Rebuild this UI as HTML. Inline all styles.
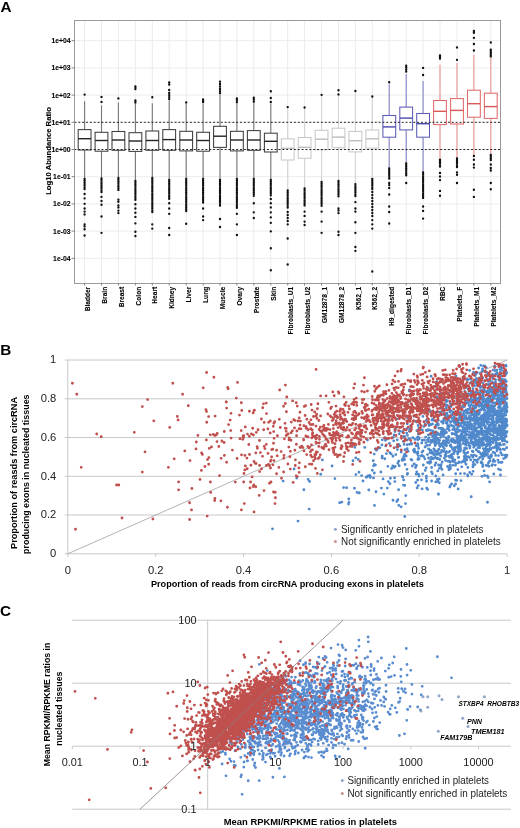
<!DOCTYPE html>
<html><head><meta charset="utf-8"><style>html,body{margin:0;padding:0;background:#fff;width:520px;height:828px;overflow:hidden}svg{display:block;will-change:transform}</style></head>
<body><svg width="520" height="828" viewBox="0 0 520 828" font-family="Liberation Sans"><path d="M74.5 258.3H500.5M74.5 231.1H500.5M74.5 203.9H500.5M74.5 176.7H500.5M74.5 149.5H500.5M74.5 122.3H500.5M74.5 95.1H500.5M74.5 67.9H500.5M74.5 40.7H500.5M84.6 20.5V283.5M101.5 20.5V283.5M118.4 20.5V283.5M135.4 20.5V283.5M152.3 20.5V283.5M169.2 20.5V283.5M186.2 20.5V283.5M203.1 20.5V283.5M220.0 20.5V283.5M236.9 20.5V283.5M253.8 20.5V283.5M270.8 20.5V283.5M287.7 20.5V283.5M304.6 20.5V283.5M321.6 20.5V283.5M338.5 20.5V283.5M355.4 20.5V283.5M372.3 20.5V283.5M389.2 20.5V283.5M406.2 20.5V283.5M423.1 20.5V283.5M440.0 20.5V283.5M457.0 20.5V283.5M473.9 20.5V283.5M490.8 20.5V283.5" stroke="#ececec" stroke-width="1" fill="none"/>
<path d="M84.6 101.2V129.6M84.6 150.0V178.8" stroke="#777" stroke-width="1.1" fill="none"/>
<rect x="78.2" y="129.6" width="12.8" height="20.4" fill="#fff" stroke="#3e3e3e" stroke-width="1.05"/>
<path d="M78.2 138.7H91.0" stroke="#222" stroke-width="1.4" fill="none"/>
<path d="M101.5 105.3V132.3M101.5 151.2V178.4" stroke="#777" stroke-width="1.1" fill="none"/>
<rect x="95.1" y="132.3" width="12.8" height="18.9" fill="#fff" stroke="#3e3e3e" stroke-width="1.05"/>
<path d="M95.1 140.5H107.9" stroke="#222" stroke-width="1.4" fill="none"/>
<path d="M118.4 102.4V131.5M118.4 150.3V178" stroke="#777" stroke-width="1.1" fill="none"/>
<rect x="112.0" y="131.5" width="12.8" height="18.8" fill="#fff" stroke="#3e3e3e" stroke-width="1.05"/>
<path d="M112.0 140.0H124.8" stroke="#222" stroke-width="1.4" fill="none"/>
<path d="M135.4 104.1V132.7M135.4 151.4V181" stroke="#777" stroke-width="1.1" fill="none"/>
<rect x="129.0" y="132.7" width="12.8" height="18.7" fill="#fff" stroke="#3e3e3e" stroke-width="1.05"/>
<path d="M129.0 141.0H141.8" stroke="#222" stroke-width="1.4" fill="none"/>
<path d="M152.3 103.3V131.0M152.3 150.3V178" stroke="#777" stroke-width="1.1" fill="none"/>
<rect x="145.9" y="131.0" width="12.8" height="19.3" fill="#fff" stroke="#3e3e3e" stroke-width="1.05"/>
<path d="M145.9 140.5H158.7" stroke="#222" stroke-width="1.4" fill="none"/>
<path d="M169.2 100.5V129.6M169.2 150.3V180" stroke="#777" stroke-width="1.1" fill="none"/>
<rect x="162.8" y="129.6" width="12.8" height="20.7" fill="#fff" stroke="#3e3e3e" stroke-width="1.05"/>
<path d="M162.8 139.6H175.6" stroke="#222" stroke-width="1.4" fill="none"/>
<path d="M186.2 103.5V131.3M186.2 150.9V178.8" stroke="#777" stroke-width="1.1" fill="none"/>
<rect x="179.8" y="131.3" width="12.8" height="19.6" fill="#fff" stroke="#3e3e3e" stroke-width="1.05"/>
<path d="M179.8 140.0H192.6" stroke="#222" stroke-width="1.4" fill="none"/>
<path d="M203.1 103.3V132.3M203.1 151.2V178.8" stroke="#777" stroke-width="1.1" fill="none"/>
<rect x="196.7" y="132.3" width="12.8" height="18.9" fill="#fff" stroke="#3e3e3e" stroke-width="1.05"/>
<path d="M196.7 140.5H209.5" stroke="#222" stroke-width="1.4" fill="none"/>
<path d="M220.0 93.7V126.3M220.0 147.4V180" stroke="#777" stroke-width="1.1" fill="none"/>
<rect x="213.6" y="126.3" width="12.8" height="21.1" fill="#fff" stroke="#3e3e3e" stroke-width="1.05"/>
<path d="M213.6 136.2H226.4" stroke="#222" stroke-width="1.4" fill="none"/>
<path d="M236.9 102.4V131.3M236.9 150.9V178.8" stroke="#777" stroke-width="1.1" fill="none"/>
<rect x="230.5" y="131.3" width="12.8" height="19.6" fill="#fff" stroke="#3e3e3e" stroke-width="1.05"/>
<path d="M230.5 140.0H243.3" stroke="#222" stroke-width="1.4" fill="none"/>
<path d="M253.8 101.5V130.6M253.8 150.3V178.8" stroke="#777" stroke-width="1.1" fill="none"/>
<rect x="247.4" y="130.6" width="12.8" height="19.7" fill="#fff" stroke="#3e3e3e" stroke-width="1.05"/>
<path d="M247.4 140.0H260.2" stroke="#222" stroke-width="1.4" fill="none"/>
<path d="M270.8 103.3V133.2M270.8 152.0V180" stroke="#777" stroke-width="1.1" fill="none"/>
<rect x="264.4" y="133.2" width="12.8" height="18.8" fill="#fff" stroke="#3e3e3e" stroke-width="1.05"/>
<path d="M264.4 141.3H277.2" stroke="#222" stroke-width="1.4" fill="none"/>
<path d="M287.7 108.5V138.8M287.7 160.0V190.5" stroke="#d4d4d4" stroke-width="1.1" fill="none"/>
<rect x="281.3" y="138.8" width="12.8" height="21.2" fill="#fff" stroke="#c8c8c8" stroke-width="1.05"/>
<path d="M281.3 148.3H294.1" stroke="#bdbdbd" stroke-width="1.4" fill="none"/>
<path d="M304.6 109V137.5M304.6 158.3V188.4" stroke="#d4d4d4" stroke-width="1.1" fill="none"/>
<rect x="298.2" y="137.5" width="12.8" height="20.8" fill="#fff" stroke="#c8c8c8" stroke-width="1.05"/>
<path d="M298.2 147.3H311.0" stroke="#bdbdbd" stroke-width="1.4" fill="none"/>
<path d="M321.6 96V130.3M321.6 149.8V182" stroke="#d4d4d4" stroke-width="1.1" fill="none"/>
<rect x="315.2" y="130.3" width="12.8" height="19.5" fill="#fff" stroke="#c8c8c8" stroke-width="1.05"/>
<path d="M315.2 139.2H327.9" stroke="#bdbdbd" stroke-width="1.4" fill="none"/>
<path d="M338.5 95.5V128.2M338.5 147.7V181" stroke="#d4d4d4" stroke-width="1.1" fill="none"/>
<rect x="332.1" y="128.2" width="12.8" height="19.5" fill="#fff" stroke="#c8c8c8" stroke-width="1.05"/>
<path d="M332.1 137.1H344.9" stroke="#bdbdbd" stroke-width="1.4" fill="none"/>
<path d="M355.4 92.5V131.4M355.4 151.9V184.1" stroke="#d4d4d4" stroke-width="1.1" fill="none"/>
<rect x="349.0" y="131.4" width="12.8" height="20.5" fill="#fff" stroke="#c8c8c8" stroke-width="1.05"/>
<path d="M349.0 140.7H361.8" stroke="#bdbdbd" stroke-width="1.4" fill="none"/>
<path d="M372.3 98V130.0M372.3 148.1V178.8" stroke="#d4d4d4" stroke-width="1.1" fill="none"/>
<rect x="365.9" y="130.0" width="12.8" height="18.1" fill="#fff" stroke="#c8c8c8" stroke-width="1.05"/>
<path d="M365.9 138.8H378.7" stroke="#bdbdbd" stroke-width="1.4" fill="none"/>
<path d="M389.2 84.3V115.5M389.2 137.2V168.3" stroke="#8585c8" stroke-width="1.1" fill="none"/>
<rect x="382.9" y="115.5" width="12.8" height="21.7" fill="#fff" stroke="#5c5cb6" stroke-width="1.05"/>
<path d="M382.9 126.9H395.6" stroke="#4848a8" stroke-width="1.4" fill="none"/>
<path d="M406.2 74.1V107.1M406.2 129.9V163.3" stroke="#8585c8" stroke-width="1.1" fill="none"/>
<rect x="399.8" y="107.1" width="12.8" height="22.8" fill="#fff" stroke="#5c5cb6" stroke-width="1.05"/>
<path d="M399.8 118.1H412.6" stroke="#4848a8" stroke-width="1.4" fill="none"/>
<path d="M423.1 80.9V113.5M423.1 137.2V172.4" stroke="#8585c8" stroke-width="1.1" fill="none"/>
<rect x="416.7" y="113.5" width="12.8" height="23.7" fill="#fff" stroke="#5c5cb6" stroke-width="1.05"/>
<path d="M416.7 123.7H429.5" stroke="#4848a8" stroke-width="1.4" fill="none"/>
<path d="M440.0 64.8V100.5M440.0 124.6V159.7" stroke="#eb9595" stroke-width="1.1" fill="none"/>
<rect x="433.6" y="100.5" width="12.8" height="24.1" fill="#fff" stroke="#e06a6a" stroke-width="1.05"/>
<path d="M433.6 111.3H446.4" stroke="#d85858" stroke-width="1.4" fill="none"/>
<path d="M457.0 63.1V98.6M457.0 124.0V158.5" stroke="#eb9595" stroke-width="1.1" fill="none"/>
<rect x="450.6" y="98.6" width="12.8" height="25.4" fill="#fff" stroke="#e06a6a" stroke-width="1.05"/>
<path d="M450.6 110.4H463.4" stroke="#d85858" stroke-width="1.4" fill="none"/>
<path d="M473.9 54.7V90.2M473.9 117.2V156" stroke="#eb9595" stroke-width="1.1" fill="none"/>
<rect x="467.5" y="90.2" width="12.8" height="27.0" fill="#fff" stroke="#e06a6a" stroke-width="1.05"/>
<path d="M467.5 103.7H480.3" stroke="#d85858" stroke-width="1.4" fill="none"/>
<path d="M490.8 58.1V93.2M490.8 118.4V155" stroke="#eb9595" stroke-width="1.1" fill="none"/>
<rect x="484.4" y="93.2" width="12.8" height="25.2" fill="#fff" stroke="#e06a6a" stroke-width="1.05"/>
<path d="M484.4 106.6H497.2" stroke="#d85858" stroke-width="1.4" fill="none"/>
<path d="M84.6 94.6h0M84.6 178.8h0M84.6 180.5h0M84.6 182.2h0M84.6 183.9h0M84.6 185.6h0M84.6 187.3h0M84.6 189.0h0M84.6 194.0h0M84.6 198.3h0M84.6 203.8h0M84.6 208.5h0M84.6 211.6h0M84.6 214.4h0M84.6 224.3h0M84.6 226.4h0M84.6 229.2h0M84.6 235.5h0M101.5 96.9h0M101.5 101.9h0M101.5 178.4h0M101.5 180.1h0M101.5 181.8h0M101.5 183.5h0M101.5 185.2h0M101.5 186.9h0M101.5 188.6h0M101.5 190.3h0M101.5 192.0h0M101.5 196.8h0M101.5 201.0h0M101.5 204.7h0M101.5 216.5h0M101.5 232.8h0M118.4 98.4h0M118.4 178.0h0M118.4 179.7h0M118.4 181.4h0M118.4 183.1h0M118.4 184.8h0M118.4 186.5h0M118.4 188.2h0M118.4 189.9h0M118.4 199.6h0M118.4 201.7h0M118.4 205.3h0M118.4 207.4h0M118.4 210.6h0M118.4 213.1h0M135.4 86.5h0M135.4 87.7h0M135.4 89.0h0M135.4 100.5h0M135.4 101.5h0M135.4 102.5h0M135.4 181.0h0M135.4 182.7h0M135.4 184.4h0M135.4 186.1h0M135.4 187.8h0M135.4 189.5h0M135.4 191.2h0M135.4 192.9h0M135.4 194.6h0M135.4 196.3h0M135.4 198.0h0M135.4 199.7h0M135.4 204.2h0M135.4 208.5h0M135.4 212.7h0M135.4 216.9h0M135.4 223.3h0M135.4 231.7h0M135.4 236.0h0M152.3 97.2h0M152.3 178.0h0M152.3 179.7h0M152.3 181.4h0M152.3 183.1h0M152.3 184.8h0M152.3 186.5h0M152.3 188.2h0M152.3 189.9h0M152.3 191.6h0M152.3 193.3h0M152.3 195.0h0M152.3 196.7h0M152.3 198.4h0M152.3 200.1h0M152.3 201.8h0M152.3 203.5h0M152.3 205.2h0M152.3 206.9h0M152.3 208.6h0M152.3 210.3h0M152.3 212.0h0M152.3 224.3h0M152.3 228.6h0M169.2 82.5h0M169.2 84.5h0M169.2 90.0h0M169.2 93.0h0M169.2 95.0h0M169.2 97.0h0M169.2 99.0h0M169.2 180.0h0M169.2 181.7h0M169.2 183.4h0M169.2 185.1h0M169.2 186.8h0M169.2 188.5h0M169.2 190.2h0M169.2 191.9h0M169.2 193.6h0M169.2 195.3h0M169.2 197.0h0M169.2 198.7h0M169.2 203.2h0M169.2 208.5h0M169.2 213.8h0M169.2 228.0h0M169.2 235.0h0M186.2 102.4h0M186.2 178.8h0M186.2 180.5h0M186.2 182.2h0M186.2 183.9h0M186.2 185.6h0M186.2 187.3h0M186.2 189.0h0M186.2 190.7h0M186.2 192.4h0M186.2 194.1h0M186.2 195.8h0M186.2 197.5h0M186.2 199.2h0M186.2 200.9h0M186.2 202.6h0M186.2 204.3h0M186.2 206.0h0M186.2 207.7h0M186.2 209.4h0M186.2 211.1h0M186.2 223.7h0M203.1 99.5h0M203.1 100.7h0M203.1 101.9h0M203.1 178.8h0M203.1 180.5h0M203.1 182.2h0M203.1 183.9h0M203.1 185.6h0M203.1 187.3h0M203.1 189.0h0M203.1 190.7h0M203.1 192.4h0M203.1 194.1h0M203.1 195.8h0M203.1 197.5h0M203.1 199.2h0M203.1 200.9h0M203.1 202.6h0M203.1 208.5h0M203.1 216.5h0M203.1 220.1h0M220.0 81.6h0M220.0 84.0h0M220.0 86.5h0M220.0 89.0h0M220.0 91.0h0M220.0 92.9h0M220.0 180.0h0M220.0 181.7h0M220.0 183.4h0M220.0 185.1h0M220.0 186.8h0M220.0 188.5h0M220.0 190.2h0M220.0 191.9h0M220.0 193.6h0M220.0 195.3h0M220.0 197.0h0M220.0 198.7h0M220.0 200.4h0M220.0 202.1h0M220.0 203.8h0M220.0 205.5h0M220.0 219.0h0M220.0 227.0h0M236.9 98.4h0M236.9 100.0h0M236.9 102.0h0M236.9 178.8h0M236.9 180.5h0M236.9 182.2h0M236.9 183.9h0M236.9 185.6h0M236.9 187.3h0M236.9 189.0h0M236.9 190.7h0M236.9 192.4h0M236.9 194.1h0M236.9 195.8h0M236.9 197.5h0M236.9 199.2h0M236.9 200.9h0M236.9 202.6h0M236.9 204.3h0M236.9 206.0h0M236.9 207.7h0M236.9 213.8h0M236.9 224.3h0M236.9 235.0h0M253.8 97.7h0M253.8 99.5h0M253.8 101.5h0M253.8 178.8h0M253.8 180.5h0M253.8 182.2h0M253.8 183.9h0M253.8 185.6h0M253.8 187.3h0M253.8 189.0h0M253.8 190.7h0M253.8 192.4h0M253.8 194.1h0M253.8 195.8h0M253.8 203.2h0M253.8 212.3h0M253.8 218.0h0M270.8 91.2h0M270.8 98.0h0M270.8 101.9h0M270.8 180.0h0M270.8 181.7h0M270.8 183.4h0M270.8 185.1h0M270.8 186.8h0M270.8 188.5h0M270.8 190.2h0M270.8 191.9h0M270.8 193.6h0M270.8 195.3h0M270.8 199.0h0M270.8 203.2h0M270.8 207.4h0M270.8 212.3h0M270.8 217.3h0M270.8 222.8h0M270.8 231.3h0M270.8 248.2h0M270.8 270.2h0M287.7 107.1h0M287.7 190.5h0M287.7 192.2h0M287.7 193.9h0M287.7 195.6h0M287.7 197.3h0M287.7 199.0h0M287.7 200.7h0M287.7 202.4h0M287.7 204.1h0M287.7 205.8h0M287.7 207.5h0M287.7 212.0h0M287.7 215.0h0M287.7 218.0h0M287.7 221.0h0M287.7 224.3h0M287.7 238.5h0M287.7 264.5h0M304.6 107.5h0M304.6 188.4h0M304.6 190.1h0M304.6 191.8h0M304.6 193.5h0M304.6 195.2h0M304.6 196.9h0M304.6 198.6h0M304.6 200.3h0M304.6 202.0h0M304.6 203.7h0M304.6 205.4h0M304.6 211.6h0M304.6 215.9h0M304.6 221.6h0M304.6 225.0h0M321.6 94.8h0M321.6 182.0h0M321.6 183.7h0M321.6 185.4h0M321.6 187.1h0M321.6 188.8h0M321.6 190.5h0M321.6 192.2h0M321.6 193.9h0M321.6 195.6h0M321.6 197.3h0M321.6 199.0h0M321.6 200.7h0M321.6 202.4h0M321.6 204.1h0M321.6 205.8h0M321.6 211.6h0M321.6 221.6h0M321.6 232.8h0M338.5 90.2h0M338.5 94.4h0M338.5 181.0h0M338.5 182.7h0M338.5 184.4h0M338.5 186.1h0M338.5 187.8h0M338.5 189.5h0M338.5 191.2h0M338.5 192.9h0M338.5 194.6h0M338.5 196.3h0M338.5 208.5h0M338.5 210.5h0M338.5 213.1h0M338.5 231.7h0M338.5 235.0h0M355.4 91.0h0M355.4 184.1h0M355.4 185.8h0M355.4 187.5h0M355.4 189.2h0M355.4 190.9h0M355.4 192.6h0M355.4 194.3h0M355.4 196.0h0M355.4 202.1h0M355.4 208.5h0M355.4 211.6h0M355.4 222.2h0M355.4 232.8h0M355.4 247.0h0M355.4 250.8h0M372.3 96.5h0M372.3 178.8h0M372.3 180.5h0M372.3 182.2h0M372.3 183.9h0M372.3 185.6h0M372.3 187.3h0M372.3 189.0h0M372.3 192.0h0M372.3 195.0h0M372.3 198.0h0M372.3 201.0h0M372.3 204.0h0M372.3 207.0h0M372.3 210.0h0M372.3 213.0h0M372.3 216.0h0M372.3 220.1h0M372.3 224.3h0M372.3 228.6h0M372.3 271.5h0M389.2 82.2h0M389.2 168.3h0M389.2 170.0h0M389.2 171.7h0M389.2 173.4h0M389.2 175.1h0M389.2 176.8h0M389.2 178.5h0M389.2 183.0h0M389.2 185.0h0M389.2 188.0h0M389.2 194.5h0M389.2 206.5h0M389.2 212.0h0M389.2 223.5h0M406.2 65.7h0M406.2 67.5h0M406.2 69.5h0M406.2 71.6h0M406.2 163.3h0M406.2 165.0h0M406.2 166.7h0M406.2 168.4h0M406.2 170.1h0M406.2 171.8h0M406.2 173.5h0M406.2 175.2h0M406.2 183.0h0M423.1 67.9h0M423.1 75.0h0M423.1 172.4h0M423.1 174.1h0M423.1 175.8h0M423.1 177.5h0M423.1 179.2h0M423.1 180.9h0M423.1 182.6h0M423.1 184.3h0M423.1 186.0h0M423.1 187.7h0M423.1 189.4h0M423.1 191.1h0M423.1 192.8h0M423.1 194.5h0M423.1 196.2h0M423.1 197.9h0M423.1 206.5h0M423.1 210.9h0M423.1 218.6h0M440.0 55.5h0M440.0 56.5h0M440.0 57.5h0M440.0 58.6h0M440.0 159.7h0M440.0 161.4h0M440.0 163.1h0M440.0 164.8h0M440.0 166.5h0M440.0 172.9h0M440.0 176.5h0M440.0 180.1h0M440.0 190.9h0M440.0 195.7h0M457.0 47.4h0M457.0 59.8h0M457.0 158.5h0M457.0 160.2h0M457.0 161.9h0M457.0 163.6h0M457.0 165.3h0M457.0 167.0h0M457.0 172.4h0M457.0 174.8h0M457.0 183.0h0M473.9 31.0h0M473.9 32.7h0M473.9 37.8h0M473.9 44.0h0M473.9 50.5h0M473.9 156.0h0M473.9 159.7h0M473.9 164.5h0M473.9 167.6h0M473.9 189.7h0M473.9 196.9h0M490.8 42.4h0M490.8 49.6h0M490.8 51.0h0M490.8 52.5h0M490.8 54.0h0M490.8 55.5h0M490.8 56.4h0M490.8 155.0h0M490.8 156.7h0M490.8 158.4h0M490.8 160.1h0M490.8 164.5h0M490.8 168.0h0M490.8 170.5h0M490.8 183.0h0M490.8 189.2h0" stroke="#111" stroke-width="2.35" stroke-linecap="round" fill="none"/>
<path d="M74.5 122.3H500.5" stroke="#222" stroke-width="1" stroke-dasharray="1.9 1.95" fill="none"/>
<path d="M74.5 149.5H500.5" stroke="#222" stroke-width="1" stroke-dasharray="1.9 1.95" fill="none"/>
<rect x="74.5" y="20.5" width="426.0" height="263.0" fill="none" stroke="#9a9a9a" stroke-width="1"/>
<path d="M71.5 258.3H74.5M71.5 231.1H74.5M71.5 203.9H74.5M71.5 176.7H74.5M71.5 149.5H74.5M71.5 122.3H74.5M71.5 95.1H74.5M71.5 67.9H74.5M71.5 40.7H74.5M84.6 283.5V285.5M101.5 283.5V285.5M118.4 283.5V285.5M135.4 283.5V285.5M152.3 283.5V285.5M169.2 283.5V285.5M186.2 283.5V285.5M203.1 283.5V285.5M220.0 283.5V285.5M236.9 283.5V285.5M253.8 283.5V285.5M270.8 283.5V285.5M287.7 283.5V285.5M304.6 283.5V285.5M321.6 283.5V285.5M338.5 283.5V285.5M355.4 283.5V285.5M372.3 283.5V285.5M389.2 283.5V285.5M406.2 283.5V285.5M423.1 283.5V285.5M440.0 283.5V285.5M457.0 283.5V285.5M473.9 283.5V285.5M490.8 283.5V285.5" stroke="#666" stroke-width="0.8" fill="none"/>
<text x="70.5" y="260.7" font-size="6.8" text-anchor="end" font-weight="bold" fill="#000" stroke="#000" stroke-width="0.1">1e-04</text>
<text x="70.5" y="233.5" font-size="6.8" text-anchor="end" font-weight="bold" fill="#000" stroke="#000" stroke-width="0.1">1e-03</text>
<text x="70.5" y="206.3" font-size="6.8" text-anchor="end" font-weight="bold" fill="#000" stroke="#000" stroke-width="0.1">1e-02</text>
<text x="70.5" y="179.1" font-size="6.8" text-anchor="end" font-weight="bold" fill="#000" stroke="#000" stroke-width="0.1">1e-01</text>
<text x="70.5" y="151.9" font-size="6.8" text-anchor="end" font-weight="bold" fill="#000" stroke="#000" stroke-width="0.1">1e+00</text>
<text x="70.5" y="124.7" font-size="6.8" text-anchor="end" font-weight="bold" fill="#000" stroke="#000" stroke-width="0.1">1e+01</text>
<text x="70.5" y="97.5" font-size="6.8" text-anchor="end" font-weight="bold" fill="#000" stroke="#000" stroke-width="0.1">1e+02</text>
<text x="70.5" y="70.30000000000001" font-size="6.8" text-anchor="end" font-weight="bold" fill="#000" stroke="#000" stroke-width="0.1">1e+03</text>
<text x="70.5" y="43.1" font-size="6.8" text-anchor="end" font-weight="bold" fill="#000" stroke="#000" stroke-width="0.1">1e+04</text>
<text x="50.8" y="151" font-size="7.7" text-anchor="middle" font-weight="bold" fill="#000" transform="rotate(-90 50.8 151)" stroke="#000" stroke-width="0.1">Log10 Abundance Ratio</text>
<text x="89.8" y="286.8" font-size="6.6" text-anchor="end" font-weight="bold" fill="#000" transform="rotate(-90 89.8 286.8)" stroke="#000" stroke-width="0.1">Bladder</text>
<text x="106.7" y="286.8" font-size="6.6" text-anchor="end" font-weight="bold" fill="#000" transform="rotate(-90 106.7 286.8)" stroke="#000" stroke-width="0.1">Brain</text>
<text x="123.6" y="286.8" font-size="6.6" text-anchor="end" font-weight="bold" fill="#000" transform="rotate(-90 123.6 286.8)" stroke="#000" stroke-width="0.1">Breast</text>
<text x="140.6" y="286.8" font-size="6.6" text-anchor="end" font-weight="bold" fill="#000" transform="rotate(-90 140.6 286.8)" stroke="#000" stroke-width="0.1">Colon</text>
<text x="157.5" y="286.8" font-size="6.6" text-anchor="end" font-weight="bold" fill="#000" transform="rotate(-90 157.5 286.8)" stroke="#000" stroke-width="0.1">Heart</text>
<text x="174.4" y="286.8" font-size="6.6" text-anchor="end" font-weight="bold" fill="#000" transform="rotate(-90 174.4 286.8)" stroke="#000" stroke-width="0.1">Kidney</text>
<text x="191.3" y="286.8" font-size="6.6" text-anchor="end" font-weight="bold" fill="#000" transform="rotate(-90 191.3 286.8)" stroke="#000" stroke-width="0.1">Liver</text>
<text x="208.3" y="286.8" font-size="6.6" text-anchor="end" font-weight="bold" fill="#000" transform="rotate(-90 208.3 286.8)" stroke="#000" stroke-width="0.1">Lung</text>
<text x="225.2" y="286.8" font-size="6.6" text-anchor="end" font-weight="bold" fill="#000" transform="rotate(-90 225.2 286.8)" stroke="#000" stroke-width="0.1">Muscle</text>
<text x="242.1" y="286.8" font-size="6.6" text-anchor="end" font-weight="bold" fill="#000" transform="rotate(-90 242.1 286.8)" stroke="#000" stroke-width="0.1">Ovary</text>
<text x="259.1" y="286.8" font-size="6.6" text-anchor="end" font-weight="bold" fill="#000" transform="rotate(-90 259.1 286.8)" stroke="#000" stroke-width="0.1">Prostate</text>
<text x="276.0" y="286.8" font-size="6.6" text-anchor="end" font-weight="bold" fill="#000" transform="rotate(-90 276.0 286.8)" stroke="#000" stroke-width="0.1">Skin</text>
<text x="292.9" y="286.8" font-size="6.6" text-anchor="end" font-weight="bold" fill="#000" transform="rotate(-90 292.9 286.8)" stroke="#000" stroke-width="0.1">Fibroblasts_U1</text>
<text x="309.8" y="286.8" font-size="6.6" text-anchor="end" font-weight="bold" fill="#000" transform="rotate(-90 309.8 286.8)" stroke="#000" stroke-width="0.1">Fibroblasts_U2</text>
<text x="326.8" y="286.8" font-size="6.6" text-anchor="end" font-weight="bold" fill="#000" transform="rotate(-90 326.8 286.8)" stroke="#000" stroke-width="0.1">GM12878_1</text>
<text x="343.7" y="286.8" font-size="6.6" text-anchor="end" font-weight="bold" fill="#000" transform="rotate(-90 343.7 286.8)" stroke="#000" stroke-width="0.1">GM12878_2</text>
<text x="360.6" y="286.8" font-size="6.6" text-anchor="end" font-weight="bold" fill="#000" transform="rotate(-90 360.6 286.8)" stroke="#000" stroke-width="0.1">K562_1</text>
<text x="377.5" y="286.8" font-size="6.6" text-anchor="end" font-weight="bold" fill="#000" transform="rotate(-90 377.5 286.8)" stroke="#000" stroke-width="0.1">K562_2</text>
<text x="394.4" y="286.8" font-size="6.6" text-anchor="end" font-weight="bold" fill="#000" transform="rotate(-90 394.4 286.8)" stroke="#000" stroke-width="0.1">H9_digested</text>
<text x="411.4" y="286.8" font-size="6.6" text-anchor="end" font-weight="bold" fill="#000" transform="rotate(-90 411.4 286.8)" stroke="#000" stroke-width="0.1">Fibroblasts_D1</text>
<text x="428.3" y="286.8" font-size="6.6" text-anchor="end" font-weight="bold" fill="#000" transform="rotate(-90 428.3 286.8)" stroke="#000" stroke-width="0.1">Fibroblasts_D2</text>
<text x="445.2" y="286.8" font-size="6.6" text-anchor="end" font-weight="bold" fill="#000" transform="rotate(-90 445.2 286.8)" stroke="#000" stroke-width="0.1">RBC</text>
<text x="462.2" y="286.8" font-size="6.6" text-anchor="end" font-weight="bold" fill="#000" transform="rotate(-90 462.2 286.8)" stroke="#000" stroke-width="0.1">Platelets_F</text>
<text x="479.1" y="286.8" font-size="6.6" text-anchor="end" font-weight="bold" fill="#000" transform="rotate(-90 479.1 286.8)" stroke="#000" stroke-width="0.1">Platelets_M1</text>
<text x="496.0" y="286.8" font-size="6.6" text-anchor="end" font-weight="bold" fill="#000" transform="rotate(-90 496.0 286.8)" stroke="#000" stroke-width="0.1">Platelets_M2</text>
<text x="0.6" y="11.8" font-size="15.3" text-anchor="start" font-weight="bold" fill="#000">A</text>
<path d="M67.8 515.0H507.1M67.8 476.3H507.1M67.8 437.5H507.1M67.8 398.8H507.1M67.8 360.0H507.1" stroke="#c8c8c8" stroke-width="1" fill="none"/>
<path d="M67.8 360.0V553.8H507.1" stroke="#c8c8c8" stroke-width="1" fill="none"/>
<path d="M67.8 553.8v3M64.8 553.8h3M155.7 553.8v3M64.8 515.0h3M243.5 553.8v3M64.8 476.3h3M331.4 553.8v3M64.8 437.5h3M419.2 553.8v3M64.8 398.8h3M507.1 553.8v3M64.8 360.0h3" stroke="#c8c8c8" stroke-width="1" fill="none"/>
<path d="M67.8 553.8L507.1 360.0" stroke="#a0a0a0" stroke-width="0.8" fill="none"/>
<path d="M487.4 423.5h0M491.1 438.6h0M460.0 440.7h0M474.8 414.4h0M474.4 423.6h0M418.5 458.2h0M422.1 488.8h0M462.6 421.8h0M500.5 469.9h0M503.9 407.2h0M475.6 445.1h0M437.2 458.1h0M476.0 435.7h0M503.2 408.7h0M502.1 379.1h0M476.9 419.0h0M375.3 448.9h0M504.5 396.2h0M483.1 420.6h0M412.3 466.0h0M476.6 419.0h0M486.7 422.0h0M466.9 457.0h0M464.5 473.6h0M500.7 382.0h0M485.5 426.5h0M453.6 442.0h0M483.9 421.5h0M433.7 441.1h0M466.1 411.3h0M463.1 435.8h0M506.9 395.0h0M494.9 453.1h0M487.0 438.2h0M359.2 493.0h0M493.6 403.0h0M493.5 398.1h0M470.8 426.3h0M437.6 433.1h0M472.9 419.0h0M468.2 428.4h0M432.5 432.9h0M477.3 462.2h0M451.4 414.9h0M453.1 403.2h0M502.8 416.7h0M442.8 411.2h0M505.3 427.7h0M422.9 416.4h0M443.5 436.2h0M485.6 431.0h0M411.1 459.5h0M458.7 448.6h0M483.5 443.4h0M480.3 387.6h0M493.4 429.2h0M458.7 430.4h0M457.5 419.7h0M502.1 436.4h0M419.1 459.1h0M504.9 419.7h0M465.6 433.8h0M506.3 381.4h0M493.7 427.5h0M444.5 413.6h0M488.1 398.7h0M446.4 445.8h0M425.0 424.6h0M476.4 378.3h0M431.6 481.0h0M471.4 424.5h0M398.8 505.3h0M504.2 415.5h0M450.4 468.7h0M443.1 474.9h0M503.1 400.8h0M463.7 450.8h0M494.2 432.3h0M495.2 366.6h0M448.6 436.3h0M456.1 441.6h0M504.2 407.8h0M431.0 442.5h0M482.8 465.0h0M483.0 431.4h0M505.4 436.4h0M467.4 422.3h0M505.2 408.4h0M487.7 412.0h0M489.1 432.3h0M462.4 431.4h0M460.5 388.9h0M476.6 404.0h0M334.9 478.6h0M501.6 435.9h0M500.8 383.6h0M506.7 373.1h0M481.4 462.0h0M492.4 393.6h0M499.8 406.6h0M499.9 410.3h0M470.5 426.0h0M484.8 381.0h0M502.6 418.5h0M502.7 390.1h0M492.1 420.2h0M402.1 460.2h0M448.8 452.1h0M458.8 394.3h0M485.9 431.8h0M507.0 431.6h0M374.3 473.0h0M470.4 417.2h0M468.2 395.9h0M435.8 404.4h0M470.6 379.1h0M486.3 449.1h0M409.6 429.1h0M450.7 445.0h0M493.6 409.4h0M496.6 414.0h0M501.6 399.2h0M468.1 424.4h0M493.5 459.7h0M477.1 405.3h0M394.4 466.8h0M484.7 365.8h0M479.7 447.8h0M495.5 440.4h0M431.3 416.0h0M435.6 451.0h0M502.5 419.5h0M421.5 479.8h0M494.5 409.0h0M446.2 453.6h0M481.3 428.6h0M493.2 442.8h0M478.8 410.2h0M418.3 433.7h0M493.6 421.3h0M417.9 451.9h0M464.4 423.5h0M481.9 396.7h0M469.4 417.2h0M474.0 433.7h0M471.8 443.3h0M439.4 468.3h0M448.9 469.7h0M464.3 450.1h0M473.0 388.7h0M481.6 425.0h0M486.4 421.2h0M504.0 435.1h0M503.7 387.7h0M504.5 449.6h0M435.8 481.9h0M504.1 384.0h0M435.4 457.4h0M482.1 438.3h0M486.6 435.1h0M473.0 451.7h0M441.7 444.8h0M505.1 405.6h0M381.4 488.1h0M471.5 455.2h0M478.3 443.5h0M483.7 386.4h0M488.6 441.6h0M469.2 431.8h0M472.8 391.4h0M493.0 434.9h0M493.3 415.3h0M500.9 437.3h0M504.6 379.6h0M498.1 430.3h0M485.7 435.1h0M438.4 424.7h0M498.3 416.6h0M444.6 441.5h0M491.7 415.4h0M504.7 440.7h0M487.7 465.3h0M497.2 416.5h0M494.0 437.0h0M487.7 414.9h0M491.6 412.0h0M491.7 402.4h0M476.8 416.2h0M481.8 434.8h0M465.1 417.0h0M407.3 440.0h0M471.6 418.7h0M474.0 426.5h0M482.2 454.1h0M465.3 397.3h0M489.2 375.7h0M503.5 415.7h0M461.3 418.7h0M499.8 388.5h0M505.1 392.3h0M469.5 415.8h0M494.4 437.4h0M468.8 426.6h0M395.2 466.3h0M450.2 486.0h0M475.6 413.5h0M506.1 391.3h0M502.7 397.7h0M395.0 431.5h0M496.5 394.8h0M505.7 388.0h0M496.6 414.2h0M418.6 448.2h0M443.4 440.9h0M479.5 396.3h0M474.9 414.8h0M406.8 428.6h0M489.8 427.2h0M498.7 386.7h0M477.1 416.9h0M462.6 422.0h0M502.3 418.7h0M499.6 390.5h0M478.2 393.0h0M375.4 465.1h0M406.1 455.9h0M503.0 399.8h0M398.6 489.7h0M480.4 423.5h0M485.3 425.8h0M448.4 442.7h0M467.3 426.6h0M483.9 423.8h0M451.0 457.3h0M418.1 425.5h0M482.1 371.6h0M494.2 385.9h0M462.9 439.8h0M447.0 421.8h0M435.9 425.1h0M478.5 405.2h0M447.7 426.1h0M495.5 427.6h0M354.9 447.3h0M468.0 379.6h0M388.3 481.6h0M489.5 414.4h0M484.5 453.5h0M499.9 418.9h0M488.1 431.1h0M506.1 366.0h0M460.6 412.5h0M456.4 432.1h0M496.9 410.8h0M504.2 435.0h0M427.0 445.4h0M488.4 400.2h0M493.4 393.1h0M499.1 375.9h0M501.6 422.9h0M438.5 454.3h0M463.4 413.6h0M403.4 436.8h0M463.2 415.3h0M370.2 477.4h0M464.3 418.7h0M402.5 459.2h0M457.3 451.8h0M491.8 430.2h0M505.3 455.2h0M503.2 401.9h0M484.9 417.4h0M479.1 411.7h0M455.9 434.9h0M499.8 443.3h0M503.4 438.2h0M497.2 414.9h0M503.9 424.8h0M481.6 420.6h0M416.7 471.8h0M477.6 403.2h0M475.2 423.2h0M473.5 434.4h0M411.9 460.1h0M500.6 452.6h0M454.5 418.7h0M475.9 407.5h0M466.0 445.2h0M499.4 384.9h0M474.1 437.0h0M419.7 429.2h0M501.5 403.3h0M489.9 456.5h0M506.6 406.1h0M496.0 394.5h0M476.6 373.2h0M490.4 412.2h0M446.0 438.0h0M458.1 440.2h0M488.8 413.7h0M431.9 442.1h0M443.4 442.2h0M436.6 435.3h0M432.3 387.6h0M492.7 397.6h0M500.4 375.4h0M470.0 426.0h0M494.8 429.5h0M481.2 419.0h0M488.8 466.2h0M461.0 425.3h0M438.8 449.2h0M494.7 386.3h0M428.6 458.0h0M462.8 430.2h0M483.5 397.2h0M479.0 411.4h0M484.4 410.2h0M488.3 428.2h0M506.1 422.1h0M433.7 435.8h0M427.9 429.7h0M452.7 413.6h0M441.9 397.7h0M443.3 421.2h0M458.6 431.5h0M484.2 420.4h0M358.2 459.4h0M443.9 441.6h0M482.5 440.5h0M452.0 433.4h0M496.9 389.2h0M438.1 438.5h0M486.9 392.7h0M498.5 416.0h0M475.5 398.5h0M490.8 434.8h0M481.3 429.6h0M482.7 377.9h0M463.5 436.6h0M505.0 408.2h0M387.9 466.3h0M272.5 528.8h0M492.6 408.5h0M445.6 460.4h0M443.4 399.6h0M464.2 459.3h0M495.9 414.8h0M445.4 431.2h0M443.0 423.2h0M452.3 433.7h0M439.4 445.2h0M494.8 432.3h0M416.2 445.8h0M431.6 467.5h0M492.9 391.4h0M461.6 407.9h0M482.5 445.3h0M461.0 480.6h0M485.0 407.0h0M465.9 453.4h0M430.8 459.5h0M499.9 448.9h0M348.6 504.1h0M492.1 411.2h0M499.6 385.3h0M507.1 425.1h0M499.3 433.1h0M454.9 423.4h0M435.4 386.4h0M428.9 437.8h0M471.4 429.1h0M458.0 439.4h0M464.9 428.2h0M495.2 389.5h0M489.4 408.0h0M498.7 419.3h0M469.0 394.1h0M457.8 441.6h0M501.5 427.6h0M455.6 484.0h0M436.5 440.5h0M464.4 458.4h0M389.9 452.7h0M489.2 391.8h0M421.7 442.9h0M485.4 432.3h0M503.6 432.0h0M455.2 451.1h0M501.3 400.8h0M474.8 441.8h0M446.1 422.9h0M440.2 446.6h0M489.4 430.1h0M387.3 488.1h0M430.2 450.2h0M482.4 438.1h0M506.9 410.4h0M497.4 432.6h0M492.1 400.1h0M474.4 401.4h0M467.2 393.8h0M501.0 392.0h0M493.3 426.9h0M445.9 456.2h0M475.9 399.2h0M500.4 430.7h0M490.8 401.6h0M493.6 415.2h0M450.4 467.4h0M461.2 423.4h0M484.1 389.3h0M462.6 435.9h0M464.9 399.6h0M429.0 411.2h0M406.2 456.0h0M481.9 398.4h0M446.1 401.8h0M492.7 393.3h0M484.6 475.5h0M477.0 444.6h0M465.2 438.2h0M373.5 477.9h0M491.4 405.5h0M455.0 442.8h0M495.3 395.7h0M485.3 420.2h0M460.4 396.9h0M502.6 393.6h0M462.6 420.5h0M471.7 412.2h0M415.0 439.4h0M407.2 448.7h0M465.7 460.2h0M451.3 404.4h0M394.1 435.0h0M493.9 412.3h0M488.4 417.4h0M447.3 428.8h0M494.8 394.4h0M479.9 457.4h0M467.4 411.5h0M416.2 466.1h0M452.5 425.9h0M414.0 416.2h0M505.2 414.4h0M462.7 415.4h0M419.0 476.0h0M488.7 396.0h0M493.5 432.2h0M503.0 426.8h0M423.7 456.6h0M418.3 485.6h0M480.2 373.6h0M462.3 407.0h0M495.6 373.8h0M466.5 457.0h0M487.0 449.2h0M488.3 403.3h0M485.2 404.8h0M496.1 403.6h0M366.2 477.2h0M451.6 483.9h0M432.8 419.0h0M472.6 420.2h0M485.1 434.8h0M320.7 474.2h0M447.0 400.8h0M404.7 454.1h0M500.9 462.4h0M503.9 432.9h0M499.9 366.7h0M505.5 381.0h0M495.3 392.5h0M497.3 443.5h0M449.7 451.3h0M448.0 461.3h0M456.0 376.1h0M481.9 403.2h0M478.9 414.1h0M485.8 431.3h0M446.6 445.4h0M497.6 434.9h0M491.2 448.5h0M444.9 418.5h0M458.3 438.1h0M407.3 417.6h0M409.4 389.9h0M439.1 434.5h0M503.5 444.5h0M490.7 410.5h0M490.0 460.6h0M460.4 451.0h0M504.9 433.7h0M473.2 434.7h0M464.1 440.8h0M497.2 415.2h0M332.1 466.0h0M501.1 431.0h0M407.6 473.4h0M493.2 424.5h0M493.1 419.2h0M398.7 444.5h0M454.6 397.0h0M459.8 366.4h0M465.8 387.2h0M480.2 390.6h0M479.6 441.2h0M465.5 430.2h0M490.8 449.4h0M429.1 425.6h0M503.9 396.8h0M393.7 440.8h0M382.3 439.8h0M499.6 379.1h0M501.2 376.1h0M492.0 412.4h0M402.4 476.3h0M422.3 429.9h0M413.8 449.8h0M477.0 384.9h0M468.8 390.9h0M451.4 425.3h0M502.6 381.0h0M507.1 407.3h0M467.9 379.6h0M441.1 464.6h0M480.9 404.7h0M482.9 418.5h0M418.9 428.3h0M481.7 390.5h0M483.1 401.5h0M476.2 420.3h0M436.1 443.9h0M491.3 454.8h0M504.4 407.2h0M464.3 456.4h0M459.9 445.8h0M434.4 449.7h0M492.1 390.0h0M451.0 457.3h0M476.3 442.1h0M475.0 419.7h0M457.8 427.1h0M495.5 428.8h0M474.9 444.4h0M476.1 441.6h0M432.2 453.3h0M438.2 458.3h0M430.6 451.7h0M470.0 428.7h0M494.6 366.1h0M411.7 444.1h0M456.4 433.8h0M498.6 462.3h0M493.5 424.6h0M492.1 405.6h0M474.4 416.1h0M482.3 432.7h0M503.3 382.7h0M406.7 433.1h0M455.5 465.3h0M422.1 455.5h0M489.0 414.1h0M489.7 449.1h0M492.6 441.7h0M471.7 424.3h0M469.9 448.0h0M474.7 412.3h0M463.6 438.9h0M495.2 389.7h0M470.1 421.6h0M425.1 447.0h0M501.3 409.0h0M488.1 398.8h0M484.3 410.4h0M429.6 445.1h0M480.3 418.2h0M462.9 443.4h0M385.7 445.9h0M453.9 453.5h0M359.3 492.9h0M488.9 440.3h0M446.5 451.6h0M465.9 400.8h0M430.9 462.2h0M458.5 462.9h0M483.5 365.9h0M484.6 399.8h0M490.0 444.3h0M458.8 441.2h0M440.1 434.7h0M493.8 431.9h0M499.9 384.9h0M404.1 444.4h0M491.1 391.6h0M444.4 414.5h0M364.8 447.4h0M486.9 449.9h0M430.9 450.5h0M355.7 457.8h0M469.6 409.2h0M453.1 389.4h0M498.4 407.6h0M477.1 398.3h0M433.2 458.8h0M382.2 456.2h0M428.3 434.8h0M458.7 457.3h0M499.0 425.3h0M495.5 413.3h0M469.7 472.5h0M480.5 426.5h0M426.2 430.5h0M484.2 450.3h0M494.4 436.5h0M469.8 400.9h0M496.7 438.3h0M486.7 391.3h0M428.3 423.5h0M489.4 407.0h0M499.2 388.9h0M446.1 437.8h0M501.2 416.8h0M496.2 442.9h0M486.2 367.6h0M474.3 446.2h0M462.9 386.1h0M467.3 419.0h0M505.8 415.1h0M467.7 413.3h0M460.1 394.8h0M471.4 391.4h0M478.6 426.6h0M501.5 411.0h0M498.9 415.6h0M484.6 439.2h0M503.7 423.1h0M466.9 379.6h0M477.5 422.8h0M485.8 419.9h0M486.9 384.5h0M368.8 490.0h0M471.9 381.7h0M505.1 387.9h0M433.8 448.8h0M498.1 414.8h0M462.0 437.3h0M488.5 381.4h0M499.5 421.5h0M473.7 426.6h0M482.6 416.9h0M482.7 424.9h0M467.8 419.1h0M472.5 395.4h0M479.6 384.6h0M458.4 457.4h0M474.3 459.8h0M422.7 473.8h0M483.1 420.7h0M453.5 439.9h0M478.1 380.6h0M434.4 440.4h0M475.5 379.8h0M488.1 418.9h0M490.7 412.2h0M503.7 458.6h0M503.2 439.4h0M494.3 406.2h0M475.8 403.9h0M474.2 455.1h0M484.2 456.2h0M481.9 428.3h0M467.9 395.3h0M491.6 456.1h0M472.8 383.8h0M424.9 458.8h0M507.0 398.6h0M445.1 405.0h0M417.8 439.7h0M423.8 426.4h0M475.7 373.2h0M480.6 417.8h0M456.9 421.6h0M477.4 382.7h0M454.2 419.5h0M455.9 431.5h0M473.7 429.1h0M484.4 406.4h0M463.4 427.6h0M458.4 457.6h0M393.0 456.2h0M463.8 451.1h0M383.8 494.1h0M467.6 434.4h0M438.4 398.5h0M487.4 392.7h0M436.8 452.7h0M424.7 396.1h0M361.6 475.6h0M380.9 472.0h0M468.0 388.8h0M470.6 412.5h0M502.0 410.0h0M470.1 446.1h0M415.8 421.5h0M501.0 429.0h0M475.9 404.9h0M441.7 450.3h0M452.0 415.0h0M479.7 393.5h0M408.1 451.2h0M436.8 381.6h0M504.5 415.4h0M464.6 397.3h0M451.9 454.5h0M466.4 409.8h0M460.8 439.6h0M431.5 471.8h0M466.9 413.2h0M453.7 420.6h0M470.0 383.1h0M462.0 434.4h0M473.0 466.9h0M482.9 407.6h0M470.9 418.1h0M460.4 447.4h0M471.2 424.1h0M457.4 436.6h0M389.0 417.2h0M486.5 455.3h0M447.8 417.7h0M504.9 423.9h0M457.8 446.1h0M478.8 400.6h0M432.4 473.7h0M444.4 430.3h0M488.9 421.9h0M439.3 482.7h0M485.3 431.6h0M449.3 430.4h0M482.7 466.5h0M427.0 421.0h0M414.3 452.1h0M468.4 403.0h0M502.5 454.9h0M503.9 426.2h0M440.8 465.8h0M453.8 404.1h0M495.4 430.3h0M469.7 446.1h0M457.3 428.8h0M457.7 394.1h0M465.6 435.5h0M503.5 415.0h0M451.0 455.1h0M438.1 423.8h0M488.9 418.3h0M435.8 462.9h0M495.8 438.2h0M497.8 388.8h0M487.3 414.2h0M463.1 437.2h0M464.5 397.3h0M481.2 429.5h0M477.3 433.5h0M500.8 438.3h0M472.1 437.3h0M458.7 403.6h0M454.2 440.5h0M500.3 407.4h0M487.5 502.2h0M382.1 457.9h0M489.1 425.5h0M502.4 423.3h0M446.2 407.7h0M473.5 429.1h0M501.1 400.3h0M491.3 431.1h0M397.8 463.2h0M410.6 425.7h0M480.8 365.3h0M487.9 420.9h0M419.1 437.8h0M498.7 439.4h0M485.5 451.8h0M431.1 376.2h0M486.3 437.9h0M481.9 433.4h0M473.1 409.2h0M493.0 399.3h0M469.7 435.6h0M450.2 403.4h0M428.1 439.3h0M504.3 414.1h0M493.2 394.7h0M496.8 415.6h0M478.5 427.4h0M481.2 454.4h0M437.4 423.4h0M448.9 456.1h0M453.0 459.8h0M491.3 406.4h0M487.0 434.8h0M468.8 424.3h0M435.5 436.1h0M490.1 433.9h0M343.6 487.6h0M493.8 474.0h0M460.5 396.8h0M479.8 425.6h0M506.3 421.8h0M417.9 453.1h0M377.3 449.3h0M465.5 403.1h0M469.1 428.0h0M500.8 404.2h0M455.5 480.1h0M373.6 465.8h0M448.2 418.4h0M503.7 371.2h0M427.6 419.4h0M479.5 398.9h0M486.3 436.9h0M500.6 445.1h0M469.0 426.9h0M440.7 456.0h0M505.0 423.0h0M505.1 409.0h0M460.4 440.0h0M491.5 389.2h0M496.9 412.0h0M471.4 402.2h0M476.3 419.3h0M505.3 457.5h0M500.0 438.8h0M476.0 373.3h0M497.3 449.2h0M493.1 370.1h0M359.0 472.2h0M492.5 464.7h0M396.8 501.5h0M469.6 370.4h0M500.5 385.7h0M468.1 409.2h0M444.2 388.9h0M467.0 418.3h0M417.9 459.4h0M502.4 384.4h0M489.8 402.1h0M499.1 433.9h0M477.1 421.3h0M499.5 429.7h0M502.9 429.2h0M459.6 443.2h0M496.6 420.3h0M457.5 440.6h0M490.0 380.4h0M498.0 375.0h0M482.0 399.0h0M422.2 440.2h0M421.1 456.0h0M402.0 431.6h0M479.0 398.1h0M505.5 387.4h0M494.7 389.4h0M419.2 438.8h0M478.3 411.0h0M403.6 479.9h0M453.9 426.8h0M465.0 455.5h0M502.2 392.0h0M466.2 403.2h0M482.7 433.4h0M503.3 390.7h0M499.4 415.5h0M462.6 427.2h0M493.2 447.6h0M478.7 414.4h0M464.9 462.1h0M477.1 372.4h0M476.4 403.3h0M409.2 391.0h0M460.0 416.1h0M488.4 388.4h0M415.4 415.7h0M473.4 418.0h0M482.9 383.3h0M473.8 414.4h0M473.8 405.8h0M473.5 372.4h0M498.6 391.5h0M466.0 464.2h0M429.1 462.0h0M487.6 398.2h0M484.5 400.4h0M475.6 437.3h0M488.4 442.1h0M499.8 435.0h0M417.4 437.5h0M471.0 400.1h0M462.9 461.4h0M465.1 432.0h0M482.1 463.0h0M480.8 418.3h0M473.7 447.3h0M474.3 442.6h0M441.7 393.1h0M376.0 491.7h0M464.9 458.2h0M483.3 448.6h0M454.5 428.6h0M467.9 467.5h0M470.1 434.7h0M447.6 466.4h0M495.1 440.1h0M452.1 440.4h0M418.1 437.0h0M485.7 454.0h0M475.4 427.5h0M487.7 411.8h0M471.7 474.2h0M444.2 451.4h0M425.2 470.4h0M499.5 427.1h0M492.6 438.5h0M383.1 478.9h0M458.7 395.0h0M374.3 464.3h0M499.0 398.0h0M500.9 381.3h0M438.4 420.3h0M435.0 465.2h0M475.3 381.5h0M492.7 421.2h0M460.0 403.0h0M481.7 399.5h0M472.4 442.1h0M470.9 439.7h0M478.0 385.0h0M415.8 482.5h0M498.0 398.1h0M461.0 425.2h0M505.5 424.1h0M478.4 440.5h0M478.2 459.4h0M458.5 409.4h0M479.3 451.9h0M502.7 415.4h0M465.6 402.1h0M506.9 455.2h0M458.2 397.5h0M456.9 440.1h0M463.4 405.1h0M498.9 419.7h0M495.7 432.8h0M490.2 415.7h0M439.6 440.3h0M436.6 454.5h0M426.7 488.1h0M477.9 444.1h0M489.5 402.0h0M483.5 398.4h0M460.1 425.6h0M500.8 412.7h0M480.7 432.0h0M457.8 469.6h0M404.8 516.5h0M461.8 466.8h0M294.1 469.0h0M446.7 440.2h0M448.0 415.7h0M489.1 393.2h0M483.1 415.2h0M430.4 434.4h0M505.4 427.2h0M502.0 427.2h0M482.3 396.5h0M477.0 434.3h0M466.6 412.9h0M367.5 440.0h0M499.7 402.7h0M410.7 429.0h0M482.9 387.3h0M491.8 387.6h0M488.7 427.3h0M450.1 461.7h0M481.0 403.1h0M506.6 447.7h0M409.8 444.2h0M467.8 422.5h0M443.5 410.9h0M470.0 412.8h0M490.7 444.6h0M443.0 430.9h0M494.9 422.3h0M426.6 481.2h0M505.4 415.0h0M467.5 474.8h0M452.5 461.2h0M502.8 416.5h0M475.3 375.6h0M447.8 428.2h0M490.8 441.7h0M479.5 447.0h0M499.9 395.0h0M505.6 387.4h0M448.1 467.1h0M456.0 463.3h0M503.7 421.3h0M458.2 488.9h0M355.9 474.6h0M459.2 387.0h0M504.0 414.1h0M501.5 395.6h0M503.9 425.5h0M502.1 413.9h0M403.6 457.2h0M434.5 457.9h0M506.5 402.9h0M486.9 416.4h0M428.5 441.6h0M437.8 470.9h0M482.6 370.9h0M502.1 399.6h0M465.6 416.6h0M495.5 382.1h0M441.1 452.4h0M485.2 426.9h0M497.9 402.7h0M296.7 478.0h0M489.6 481.9h0M500.8 366.5h0M440.1 443.8h0M417.8 444.6h0M483.1 416.9h0M473.8 407.0h0M440.6 412.2h0M417.6 480.1h0M482.1 417.1h0M506.0 408.4h0M482.5 369.0h0M485.8 448.1h0M497.4 429.6h0M457.1 435.6h0M496.4 438.9h0M498.0 391.9h0M458.3 452.0h0M484.5 420.6h0M441.7 429.8h0M479.6 426.5h0M474.8 421.3h0M495.7 446.3h0M480.2 409.9h0M503.4 390.0h0M472.2 438.0h0M502.5 433.4h0M471.1 435.5h0M487.9 421.6h0M460.4 419.3h0M448.7 420.1h0M499.3 444.8h0M451.1 411.0h0M397.3 439.8h0M499.0 407.2h0M474.7 439.3h0M415.0 451.2h0M461.5 462.3h0M503.1 403.3h0M341.8 502.1h0M466.0 417.3h0M506.3 371.8h0M494.9 384.8h0M476.6 414.2h0M489.1 418.4h0M495.1 438.1h0M498.0 460.1h0M454.3 416.6h0M473.6 393.6h0M464.0 452.5h0M497.6 389.7h0M493.1 442.3h0M448.1 438.6h0M503.1 395.2h0M476.7 443.7h0M484.7 391.4h0M477.1 393.7h0M453.9 420.7h0M454.7 449.6h0M456.1 424.9h0M504.4 419.2h0M479.2 437.6h0M457.2 422.6h0M486.0 403.5h0M404.7 485.4h0M465.8 395.9h0M439.2 453.5h0M433.9 454.8h0M464.9 395.9h0M439.0 441.3h0M411.3 443.4h0M493.1 461.4h0M433.5 432.3h0M454.3 440.8h0M473.4 444.7h0M461.0 438.7h0M393.0 500.2h0M504.4 411.6h0M495.1 390.4h0M498.7 412.2h0M495.8 390.2h0M501.0 412.3h0M452.4 457.0h0M482.0 444.2h0M488.6 457.5h0M505.0 411.8h0M502.5 424.5h0M469.3 427.4h0M469.5 427.4h0M348.8 499.0h0M484.0 416.8h0M480.2 417.8h0M497.3 402.4h0M440.3 428.4h0M434.7 443.5h0M480.7 417.8h0M406.0 403.0h0M493.0 420.1h0M478.4 419.3h0M502.7 433.7h0M482.0 407.1h0M468.6 425.8h0M474.7 408.6h0M494.3 412.4h0M436.1 432.2h0M427.6 489.4h0M396.8 419.0h0M503.1 422.7h0M484.9 402.8h0M474.0 431.5h0M493.6 406.4h0M494.4 409.5h0M480.5 386.1h0M475.0 424.9h0M438.4 493.8h0M482.1 445.6h0M478.6 383.1h0M403.0 431.7h0M495.3 465.1h0M500.1 385.4h0M493.9 424.8h0M456.7 480.4h0M444.6 444.5h0M506.8 411.1h0M475.5 429.6h0M495.4 432.5h0M502.0 380.3h0M479.0 412.2h0M488.3 407.3h0M489.3 374.6h0M504.4 419.3h0M488.9 418.7h0M386.4 453.6h0M454.2 461.7h0M471.9 414.9h0M478.9 434.6h0M474.9 464.6h0M503.1 389.0h0M484.8 410.2h0M467.0 418.8h0M507.0 407.2h0M475.6 382.5h0M484.0 470.9h0M491.8 465.5h0M468.2 442.7h0M473.1 405.7h0M486.5 372.2h0M490.7 419.1h0M504.9 399.9h0M495.1 384.8h0M402.8 477.1h0M309.6 481.4h0M449.2 461.1h0M503.6 429.9h0M464.6 421.9h0M367.9 475.9h0M498.0 422.4h0M459.9 430.5h0M443.1 451.1h0M440.8 467.0h0M464.9 422.6h0M498.4 419.5h0M352.8 443.1h0M458.8 413.4h0M466.9 431.0h0M483.5 408.2h0M496.9 430.8h0M474.0 399.7h0M467.2 426.5h0M496.5 398.9h0M471.7 435.5h0M480.1 402.4h0M412.8 437.7h0M497.0 447.4h0M459.2 430.4h0M505.3 406.3h0M485.1 438.1h0M418.2 455.6h0M491.9 395.5h0M498.0 432.1h0M475.0 396.4h0M468.4 400.4h0M490.1 408.2h0M479.9 420.0h0M483.5 406.9h0M444.2 409.9h0M473.1 408.7h0M369.6 475.5h0M497.1 445.2h0M463.7 394.6h0M447.5 401.0h0M434.2 439.4h0M472.5 384.3h0M452.3 439.2h0M482.0 456.2h0M474.5 374.1h0M461.3 434.2h0M487.7 436.3h0M417.7 443.7h0M416.9 430.6h0M487.3 445.7h0M441.5 404.0h0M465.8 428.1h0M474.5 414.0h0M465.1 424.8h0M452.5 458.6h0M474.4 397.8h0M449.0 393.5h0M479.8 441.8h0M464.7 391.5h0M425.7 437.1h0M440.8 437.3h0M438.1 415.8h0M489.1 449.4h0M470.9 404.8h0M491.6 387.9h0M504.7 420.6h0M486.8 407.4h0M469.3 443.6h0M506.6 424.5h0M404.6 436.5h0M437.5 479.4h0M475.4 413.5h0M494.0 439.0h0M499.9 433.2h0M499.0 444.2h0M469.0 405.5h0M480.3 433.0h0M433.0 431.0h0M483.0 430.8h0M500.5 475.0h0M503.3 387.7h0M498.3 427.7h0M491.4 429.4h0M470.4 437.0h0M466.1 442.9h0M482.5 391.3h0M486.9 421.2h0M396.6 446.9h0M486.1 465.4h0M503.8 406.8h0M484.4 406.0h0M468.9 437.6h0M393.3 437.3h0M384.8 458.7h0M504.3 438.7h0M424.4 439.9h0M471.1 441.4h0M470.6 436.4h0M432.5 436.6h0M478.4 420.1h0M505.4 381.5h0M465.0 411.0h0M486.0 421.5h0M479.5 398.9h0M389.9 483.7h0M416.7 422.0h0M499.4 384.9h0M489.4 385.4h0M506.9 398.3h0M479.5 423.2h0M482.6 422.2h0M457.5 412.5h0M480.5 427.3h0M487.3 429.0h0M493.8 436.8h0M442.6 435.0h0M478.2 432.6h0M502.1 368.0h0M449.6 457.3h0M452.0 418.1h0M449.1 425.6h0M416.8 453.2h0M431.5 452.9h0M442.4 443.1h0M462.0 440.0h0M473.0 465.4h0M431.9 451.8h0M453.2 411.8h0M408.9 421.0h0M499.6 431.1h0M466.7 459.9h0M460.6 449.0h0M433.1 439.7h0M483.3 394.1h0M506.5 393.1h0M506.3 386.5h0M494.1 422.3h0M505.1 375.5h0M498.5 469.1h0M457.3 451.7h0M431.9 420.1h0M491.0 410.4h0M505.9 411.3h0M399.6 431.1h0M458.0 448.5h0M459.6 408.7h0M487.8 401.8h0M450.7 440.9h0M427.5 454.6h0M501.5 429.8h0M488.3 393.0h0M505.2 385.0h0M501.2 426.8h0M498.6 394.8h0M441.9 407.7h0M471.1 428.3h0M486.2 417.6h0M500.1 399.1h0M507.0 442.0h0M477.2 432.1h0M500.4 449.7h0M487.2 406.2h0M475.7 392.0h0M506.4 432.7h0M476.3 415.8h0M506.8 412.1h0M499.8 404.8h0M487.9 440.9h0M492.5 420.0h0M357.0 492.3h0M497.8 439.4h0M443.9 414.6h0M468.1 423.1h0M496.8 422.8h0M475.3 414.8h0M436.0 412.1h0M460.2 436.5h0M488.8 439.5h0M472.5 401.4h0M373.2 460.7h0M414.2 463.8h0M470.8 459.9h0M436.2 425.8h0M506.2 436.2h0M493.6 397.4h0M481.5 409.8h0M418.5 474.1h0M463.9 411.4h0M446.0 400.1h0M481.7 405.3h0M469.6 416.9h0M492.8 378.2h0M452.7 429.6h0M468.9 445.5h0M493.5 391.9h0M455.9 390.0h0M458.7 419.8h0M442.8 428.9h0M409.3 431.3h0M502.4 410.3h0M397.9 499.7h0M481.9 392.4h0M477.0 431.0h0M471.4 433.4h0M457.2 423.4h0M487.6 391.0h0M442.0 469.4h0M506.4 410.6h0M481.7 430.6h0M463.4 378.6h0M495.5 379.7h0M477.9 421.3h0M464.6 448.1h0M490.5 390.1h0M495.0 447.5h0M444.7 420.1h0M348.9 502.4h0M487.1 416.1h0M407.3 474.2h0M451.1 421.8h0M479.3 445.7h0M438.6 442.7h0M472.3 432.0h0M442.2 433.1h0M374.5 505.4h0M449.3 409.7h0M504.8 406.4h0M487.2 408.0h0M363.0 481.0h0M493.2 417.9h0M475.2 396.4h0M471.2 496.7h0M438.0 481.4h0M460.4 473.6h0M476.8 440.0h0M449.9 461.7h0M433.9 420.3h0M466.6 448.4h0M495.2 393.7h0M461.8 440.2h0M474.3 416.6h0M455.3 430.5h0M484.0 438.6h0M493.6 402.8h0M505.3 380.0h0M413.5 450.4h0M482.6 425.0h0M490.1 457.9h0M466.0 416.4h0M490.7 439.1h0M463.1 439.4h0M466.5 424.9h0M489.0 429.0h0M502.2 415.6h0M497.2 401.3h0M499.9 419.4h0M490.9 407.6h0M453.8 441.9h0M500.4 415.4h0M492.5 390.3h0M498.1 396.4h0M493.6 375.7h0M486.7 412.3h0M489.2 416.1h0M469.9 426.2h0M489.5 384.2h0M394.9 481.6h0M451.8 421.0h0M484.4 413.4h0M455.6 464.9h0M459.0 461.9h0M423.0 450.9h0M483.9 420.4h0M505.7 387.1h0M487.8 410.5h0M496.7 440.1h0M501.7 432.0h0M439.8 459.5h0M437.3 458.8h0M471.4 428.5h0M470.2 407.2h0M471.9 436.1h0M471.4 439.7h0M481.4 416.0h0M452.9 465.3h0M425.9 442.7h0M461.3 417.9h0M502.2 440.0h0M474.7 417.9h0M481.4 409.3h0M468.4 456.7h0M482.3 416.2h0M465.6 441.5h0M426.4 478.2h0M503.2 449.1h0M505.7 374.2h0M481.1 462.8h0M479.5 412.8h0M496.9 373.5h0M497.1 437.0h0M485.6 391.5h0M441.1 432.2h0M477.0 415.6h0M488.4 418.3h0M485.3 427.9h0M476.2 434.8h0M467.9 476.1h0M451.5 446.9h0M438.6 465.0h0M353.0 460.7h0M404.0 455.9h0M460.1 435.9h0M501.9 425.7h0M472.8 457.1h0M483.6 436.6h0M444.4 431.7h0M505.8 390.4h0M486.8 440.5h0M505.2 419.7h0M438.5 494.2h0M381.9 444.9h0M504.3 444.4h0M464.1 406.5h0M485.5 413.3h0M492.7 378.5h0M501.2 369.8h0M449.8 487.1h0M478.6 368.0h0M498.5 455.6h0M492.3 420.1h0M449.9 412.0h0M504.8 401.7h0M505.4 370.4h0M463.4 439.9h0M476.8 399.7h0M476.4 415.2h0M495.2 402.8h0M478.0 401.4h0M490.2 399.9h0M374.2 454.1h0M502.0 425.5h0M480.5 381.5h0M394.9 429.5h0M485.0 415.2h0M505.5 398.4h0M465.5 444.0h0M496.7 431.7h0M433.5 452.6h0M461.3 416.6h0M495.0 370.6h0M491.9 438.7h0M462.1 437.0h0M481.9 476.3h0M322.4 459.9h0M487.2 444.1h0M490.8 411.6h0M433.2 433.0h0M465.4 432.5h0M463.0 419.1h0M506.7 421.5h0M476.0 423.2h0M451.2 439.7h0M476.1 460.5h0M489.6 445.1h0M469.4 457.4h0M488.5 443.4h0M470.0 424.5h0M482.5 431.0h0M458.9 436.5h0M454.2 447.9h0M464.6 404.7h0M459.4 416.1h0M497.2 438.8h0M505.6 433.8h0M394.6 477.9h0M424.4 410.1h0M466.5 440.4h0M456.1 421.7h0M486.9 412.2h0M486.3 453.0h0M456.8 400.9h0M493.7 383.3h0M405.1 464.5h0M429.5 463.3h0M500.7 420.1h0M484.7 444.7h0M415.5 467.5h0M416.4 465.5h0M490.1 398.4h0M430.1 424.7h0M376.4 450.2h0M474.3 429.0h0M470.4 412.4h0M480.7 453.7h0M454.3 422.2h0M467.4 440.1h0M464.3 432.3h0M461.2 419.9h0M427.6 462.6h0M491.8 428.9h0M501.7 385.9h0M466.1 430.3h0M457.7 454.0h0M399.2 433.8h0M500.7 399.7h0M430.0 452.8h0M488.0 373.9h0M473.0 432.2h0M505.3 405.2h0M441.3 414.4h0M480.9 424.4h0M506.4 386.2h0M462.2 437.9h0M493.9 386.4h0M470.2 424.3h0M465.1 411.3h0M435.2 445.6h0M422.0 452.1h0M458.4 451.2h0M431.1 424.6h0M494.8 405.8h0M475.3 435.2h0M499.9 369.3h0M346.6 487.7h0M483.8 417.8h0M455.5 447.4h0M486.3 446.2h0M339.7 502.7h0M493.6 397.5h0M475.6 372.6h0M495.1 439.5h0M485.1 405.6h0M459.5 414.0h0M483.2 425.3h0M502.4 426.5h0M389.4 443.5h0M505.8 386.9h0M428.0 388.5h0M498.4 413.7h0M414.4 449.1h0M283.1 481.1h0M492.3 382.0h0M476.9 444.7h0M496.1 422.2h0M471.5 399.3h0M426.8 430.4h0M496.6 392.7h0M404.5 459.4h0M431.4 424.5h0M499.0 402.1h0M456.8 437.6h0M451.5 415.2h0M475.8 440.3h0M495.3 392.2h0M498.7 411.6h0M466.7 419.2h0M494.9 461.3h0M481.6 422.3h0M476.2 428.2h0M478.4 418.7h0M498.2 420.3h0M505.4 431.4h0M461.4 434.2h0M498.2 411.8h0M504.8 428.2h0M482.8 395.1h0M437.2 416.2h0M462.9 419.2h0M502.0 462.2h0M484.3 406.0h0M477.1 384.3h0M371.6 523.6h0M501.3 426.0h0M468.7 393.9h0M444.2 440.8h0M451.5 441.6h0M403.8 460.1h0M506.8 426.1h0M430.7 430.3h0M463.9 405.2h0M485.7 404.8h0M448.1 439.8h0M444.5 433.7h0M455.1 441.0h0M308.1 479.3h0M478.0 385.7h0M401.2 452.1h0M497.3 386.8h0M478.9 426.8h0M498.4 410.6h0M492.0 421.9h0M493.1 452.2h0M479.4 425.1h0M498.5 432.2h0M496.9 450.8h0M433.8 400.8h0M482.2 417.1h0M504.3 373.3h0M451.0 406.6h0M447.1 418.5h0M477.4 402.1h0M499.3 406.9h0M466.7 412.3h0M454.8 459.8h0M446.5 432.5h0M483.5 442.7h0M470.3 436.6h0M495.7 455.4h0M483.2 405.3h0M457.8 443.6h0M503.9 406.4h0M460.5 445.3h0M392.7 465.8h0M450.2 445.7h0M503.5 429.7h0M482.0 399.2h0M500.6 421.7h0M454.2 485.8h0M469.0 457.3h0M423.3 465.0h0M435.2 427.9h0M498.8 379.9h0M459.1 414.4h0M488.6 404.8h0M418.0 445.7h0M476.3 419.9h0M486.9 415.0h0M416.1 474.1h0M445.1 454.8h0M448.1 427.4h0M428.9 429.8h0M441.4 421.6h0M486.1 401.5h0M467.8 452.5h0M460.0 451.2h0M499.6 398.7h0M488.0 416.3h0M461.8 409.3h0M482.8 423.7h0M391.6 468.5h0M435.8 442.4h0M479.4 411.1h0M461.5 433.7h0M488.4 462.9h0M407.2 423.7h0M440.7 408.0h0M446.1 456.4h0M472.3 451.1h0M491.9 390.6h0M391.7 425.1h0M476.9 423.4h0M493.8 440.0h0M434.6 437.1h0M486.9 399.2h0M459.1 426.2h0M492.3 416.7h0M399.9 445.9h0M481.5 424.1h0M495.3 414.9h0M449.0 427.4h0M500.3 372.2h0M395.8 428.6h0M448.9 437.0h0M489.4 437.3h0M506.6 395.5h0M397.4 449.6h0M298.0 521.1h0M417.1 487.9h0M501.9 454.7h0M505.9 420.8h0M394.2 467.4h0M445.8 444.0h0M501.9 435.1h0M490.1 447.6h0M493.6 394.7h0M484.8 417.8h0M435.5 454.4h0M481.6 441.9h0M501.4 421.9h0M439.3 412.1h0M499.3 391.2h0M463.9 423.5h0M462.0 433.5h0M505.2 418.7h0M432.5 424.0h0M447.2 405.2h0M407.0 469.3h0M442.2 462.0h0M497.2 416.3h0M479.3 431.5h0M426.4 476.1h0M495.9 440.9h0M504.0 414.7h0M488.2 404.7h0M474.6 385.8h0M450.1 465.0h0M428.6 449.0h0M487.4 475.9h0M426.3 420.5h0M447.1 423.5h0M490.9 423.3h0M427.4 440.1h0M503.9 418.7h0M498.1 419.4h0M474.4 411.5h0M403.3 441.3h0M453.8 451.8h0M452.5 449.2h0M506.6 419.4h0M455.7 473.7h0M506.7 405.5h0M370.5 476.7h0M391.2 453.9h0M489.9 388.6h0M407.3 444.7h0M484.7 454.0h0M489.5 396.0h0M505.2 414.8h0M442.0 428.1h0M482.9 406.1h0M481.0 416.8h0M492.4 374.3h0M498.2 376.7h0M431.4 457.1h0M464.6 443.9h0M385.0 437.6h0M492.7 424.5h0M485.5 434.5h0M474.6 443.1h0M502.0 397.8h0M428.0 430.6h0M435.8 476.0h0M486.8 407.5h0M464.4 406.6h0M476.5 440.3h0M477.1 436.4h0M482.7 459.0h0M493.6 428.2h0M379.8 447.8h0M496.0 445.5h0M471.7 410.9h0M481.5 429.8h0M426.1 467.8h0M407.5 435.3h0M503.8 431.2h0M501.0 413.6h0M431.4 441.6h0M446.0 416.3h0M444.3 458.0h0M432.0 441.6h0M309.2 509.1h0M444.3 448.6h0M486.9 379.4h0M505.6 389.1h0M505.7 365.2h0M488.1 477.6h0M493.5 421.6h0M398.7 461.2h0M498.6 419.6h0M501.4 393.0h0M464.9 430.2h0M490.7 389.0h0M441.8 429.8h0M452.3 433.9h0M483.4 452.6h0M498.4 400.3h0M495.6 425.4h0M452.2 434.0h0M390.4 478.2h0M391.0 453.8h0M462.5 419.7h0M409.5 438.5h0M478.0 447.5h0M408.4 417.4h0M430.4 411.0h0M464.2 376.1h0M496.1 385.8h0M471.9 425.5h0M436.1 432.0h0M443.3 447.0h0M403.5 485.1h0M486.3 417.6h0M453.2 439.3h0M505.9 389.9h0M473.1 471.3h0M444.4 430.0h0M488.8 439.8h0M492.4 429.5h0M486.5 404.1h0M506.3 456.9h0M502.8 438.9h0M480.0 439.3h0M479.4 406.2h0M454.2 433.8h0M463.8 438.0h0M450.4 406.3h0M438.7 428.1h0M476.2 412.7h0M491.5 423.8h0M498.5 438.5h0M487.6 454.4h0M502.2 383.8h0M482.9 432.0h0M479.3 419.8h0M502.1 410.9h0M495.3 411.3h0M490.8 456.9h0M405.0 449.7h0M442.4 403.7h0M478.9 418.4h0M471.0 424.0h0M477.3 422.1h0M476.4 431.4h0M483.6 453.5h0M489.7 415.8h0M395.8 454.6h0M438.2 450.6h0M441.8 433.7h0M499.6 430.4h0M496.5 433.2h0M466.6 434.9h0M501.6 395.9h0M439.3 415.8h0M471.6 441.8h0M494.1 413.1h0M498.6 447.7h0M445.3 415.6h0M483.1 401.0h0M496.9 372.6h0M479.6 377.8h0M449.1 407.6h0M492.6 411.3h0M487.7 433.2h0M459.0 446.5h0M493.6 428.5h0M440.0 394.0h0M471.2 397.7h0M493.9 398.2h0M502.6 421.0h0M489.4 445.0h0M506.3 406.3h0M459.3 443.3h0M401.1 506.8h0M405.8 495.6h0M455.2 442.0h0M385.4 440.2h0M466.1 443.5h0M478.1 451.5h0M354.5 488.2h0M484.0 415.3h0M493.0 442.6h0M458.8 422.7h0M436.8 396.7h0M502.3 441.0h0M366.9 476.9h0M494.9 387.2h0M459.4 440.2h0M426.3 397.7h0M484.9 421.1h0M464.2 424.7h0M492.7 442.3h0M446.8 413.2h0M490.8 425.5h0M439.1 478.9h0M488.4 409.9h0M504.6 396.0h0M464.3 414.9h0M499.2 404.7h0M372.3 470.2h0M489.4 461.5h0M478.5 425.6h0M399.2 465.7h0M447.1 441.5h0M501.3 413.4h0M476.2 449.7h0M485.2 421.5h0M452.9 393.2h0M496.4 418.3h0M457.0 418.7h0M303.9 489.7h0M436.5 438.1h0M466.0 439.7h0M468.6 400.0h0M480.5 443.7h0M467.3 427.0h0M459.5 418.2h0M502.6 411.1h0M385.2 438.2h0M483.8 418.1h0M450.5 422.4h0M476.3 456.0h0M499.6 416.6h0M455.1 420.2h0M460.9 423.4h0M473.2 462.5h0M425.2 424.0h0M431.0 440.1h0M433.2 435.6h0M498.5 387.8h0M488.6 451.5h0M496.8 370.1h0M504.5 380.6h0M506.2 403.9h0M471.6 413.0h0M435.4 433.8h0M486.5 441.0h0M405.5 503.6h0M465.3 432.0h0M481.5 423.6h0M480.7 404.1h0M443.7 418.9h0M473.9 429.0h0M452.3 398.2h0M470.1 419.6h0M461.0 415.6h0M459.6 442.8h0M471.3 393.5h0M387.3 439.1h0M494.4 385.1h0" stroke="#5088cc" stroke-width="2.85" stroke-linecap="round" fill="none"/>
<path d="M72.4 383.2h0M76.8 394.2h0M81.2 467.3h0M75.5 529.2h0M96.7 434.0h0M101.2 436.7h0M116.6 485.0h0M118.8 485.0h0M122.0 518.0h0M134.3 432.3h0M142.3 406.6h0M147.6 399.6h0M145.0 451.8h0M142.3 472.1h0M153.8 420.8h0M152.9 519.0h0M168.4 467.3h0M169.7 427.4h0M172.8 383.2h0M177.3 416.4h0M178.1 420.0h0M174.2 458.8h0M178.6 489.8h0M178.6 481.9h0M182.6 394.2h0M184.8 450.9h0M188.3 405.7h0M189.6 502.7h0M189.6 519.5h0M196.0 448.9h0M191.9 488.5h0M196.3 442.0h0M197.9 435.4h0M191.5 509.9h0M190.0 460.6h0M201.6 453.0h0M226.2 401.9h0M230.7 430.6h0M227.4 507.2h0M231.0 413.3h0M239.5 415.1h0M242.8 439.3h0M213.3 434.4h0M226.6 462.2h0M228.6 424.6h0M237.1 458.5h0M209.3 448.4h0M205.9 409.6h0M243.1 436.9h0M217.0 441.6h0M203.2 387.8h0M232.4 450.1h0M226.4 402.0h0M224.3 431.5h0M208.7 464.2h0M241.5 454.8h0M230.2 420.1h0M213.9 377.2h0M200.0 479.4h0M235.3 482.1h0M228.1 388.8h0M206.5 411.4h0M210.3 434.8h0M214.7 500.6h0M241.3 402.7h0M220.9 500.8h0M226.6 408.1h0M202.4 454.4h0M240.0 438.7h0M207.5 459.6h0M219.5 475.6h0M221.1 458.3h0M206.7 422.2h0M241.4 509.9h0M214.9 498.5h0M208.6 416.6h0M241.2 430.6h0M206.6 372.5h0M210.7 492.4h0M210.4 482.0h0M211.5 446.9h0M231.1 438.1h0M217.2 433.5h0M216.3 434.9h0M215.1 416.1h0M207.2 516.1h0M214.8 435.6h0M204.9 466.5h0M201.4 470.4h0M237.5 382.4h0M208.9 457.6h0M236.3 398.1h0M224.4 455.4h0M224.1 442.5h0M218.8 446.5h0M243.2 435.9h0M227.7 387.5h0M241.8 410.5h0M206.4 439.9h0M221.9 441.0h0M271.0 460.4h0M280.3 427.5h0M243.7 482.0h0M245.4 465.9h0M243.6 437.4h0M271.6 457.0h0M276.6 473.7h0M248.8 444.5h0M269.5 465.7h0M285.0 423.3h0M251.3 433.9h0M250.6 482.0h0M252.7 428.2h0M261.4 419.0h0M270.2 433.0h0M266.3 444.3h0M249.5 454.5h0M279.7 390.0h0M253.4 435.0h0M277.4 435.7h0M257.4 448.2h0M252.1 476.9h0M276.6 450.2h0M268.6 422.3h0M286.2 428.4h0M263.7 429.7h0M249.3 436.3h0M259.6 465.4h0M287.2 434.6h0M254.4 410.2h0M274.1 438.3h0M254.0 511.9h0M256.1 463.5h0M259.2 495.4h0M283.7 458.3h0M285.4 385.1h0M271.6 449.6h0M274.0 460.6h0M269.5 483.2h0M264.2 446.3h0M283.6 406.2h0M270.5 461.2h0M245.3 426.9h0M247.5 434.1h0M281.1 451.6h0M279.3 419.3h0M244.9 455.4h0M250.9 465.2h0M254.0 461.5h0M273.7 431.6h0M279.7 389.8h0M254.0 410.6h0M277.2 455.8h0M286.2 435.5h0M244.8 469.9h0M268.4 464.3h0M244.3 503.6h0M267.9 428.9h0M262.5 456.3h0M257.1 446.6h0M275.0 503.6h0M285.3 428.2h0M253.8 484.9h0M278.9 467.4h0M273.2 426.3h0M259.6 471.6h0M261.5 468.9h0M249.4 411.2h0M275.4 497.7h0M284.4 438.8h0M263.5 403.8h0M286.8 397.0h0M285.3 403.5h0M250.0 487.9h0M243.7 435.6h0M266.5 413.6h0M258.0 429.7h0M272.7 449.2h0M270.5 468.0h0M270.3 421.0h0M283.6 472.0h0M281.5 478.2h0M244.0 473.4h0M259.5 440.5h0M266.3 403.1h0M264.9 448.6h0M253.2 412.9h0M272.9 464.8h0M246.9 458.1h0M260.4 452.6h0M255.2 463.3h0M262.7 407.7h0M255.7 486.7h0M271.0 482.0h0M286.4 411.7h0M286.2 431.3h0M274.7 421.7h0M247.2 468.7h0M264.2 422.4h0M264.0 490.6h0M273.5 443.2h0M256.3 432.3h0M273.5 492.0h0M284.0 455.5h0M253.2 486.5h0M266.4 465.5h0M255.8 452.9h0M268.0 453.4h0M275.2 492.2h0M273.9 423.2h0M314.6 457.0h0M312.2 430.0h0M318.8 446.4h0M309.5 464.1h0M293.8 419.7h0M330.0 434.9h0M323.1 426.6h0M328.4 424.4h0M296.9 431.0h0M324.8 445.7h0M324.0 425.3h0M330.1 415.9h0M309.5 447.4h0M295.4 459.8h0M294.9 450.2h0M327.8 414.0h0M291.0 440.2h0M312.0 410.1h0M326.8 439.3h0M289.3 437.9h0M317.4 408.7h0M296.2 402.7h0M291.3 422.1h0M287.9 464.0h0M312.3 434.4h0M316.8 435.1h0M306.7 454.6h0M300.0 412.2h0M299.2 428.7h0M311.7 450.1h0M310.7 455.2h0M324.8 429.1h0M311.9 464.2h0M299.2 417.9h0M315.9 442.3h0M311.9 456.9h0M303.9 425.7h0M312.4 449.8h0M315.5 436.8h0M327.8 429.0h0M310.4 451.8h0M306.1 428.3h0M314.7 411.9h0M313.5 416.5h0M289.0 439.7h0M300.4 421.1h0M329.0 449.7h0M311.8 437.9h0M305.1 415.5h0M317.3 452.1h0M323.1 430.0h0M331.3 416.9h0M320.7 431.4h0M311.2 404.5h0M325.9 439.0h0M319.1 442.9h0M290.3 469.1h0M291.1 432.7h0M325.1 430.4h0M326.3 446.0h0M301.0 428.8h0M304.3 406.4h0M301.9 446.2h0M330.7 408.5h0M309.1 422.5h0M324.3 435.8h0M322.4 469.8h0M305.3 466.7h0M329.5 433.5h0M304.0 450.9h0M308.2 429.7h0M300.0 447.2h0M303.6 440.1h0M309.1 448.1h0M311.5 444.9h0M306.8 428.3h0M299.2 472.4h0M316.6 414.2h0M311.3 424.6h0M296.3 475.8h0M324.2 428.0h0M288.8 447.1h0M307.8 446.4h0M316.6 438.1h0M303.6 439.3h0M323.8 447.5h0M316.5 443.0h0M316.0 416.1h0M298.9 467.9h0M310.9 419.8h0M321.8 447.5h0M316.0 426.1h0M319.4 457.4h0M289.9 456.7h0M316.0 439.0h0M293.2 482.4h0M295.3 465.5h0M297.3 406.1h0M318.9 420.5h0M316.9 418.2h0M300.0 425.1h0M290.4 451.3h0M328.9 402.3h0M320.6 395.9h0M314.9 454.7h0M306.4 436.5h0M319.4 436.5h0M308.1 437.0h0M306.9 419.2h0M305.9 436.0h0M326.2 430.5h0M322.4 433.6h0M299.4 462.8h0M292.6 400.9h0M315.3 458.8h0M296.4 444.2h0M325.1 436.6h0M310.8 428.7h0M313.0 424.4h0M315.5 468.4h0M322.6 430.6h0M316.5 452.0h0M294.5 427.9h0M297.3 476.6h0M326.3 428.3h0M317.3 473.4h0M314.9 457.4h0M323.5 435.1h0M310.2 424.3h0M295.0 420.5h0M320.3 427.2h0M328.4 442.3h0M319.1 429.5h0M314.4 436.1h0M300.5 447.6h0M320.6 415.9h0M312.7 432.9h0M330.0 429.6h0M298.0 421.0h0M327.9 440.8h0M312.8 436.6h0M320.3 454.8h0M323.6 448.8h0M318.3 458.5h0M315.9 454.5h0M316.1 452.3h0M315.0 437.3h0M306.0 426.7h0M302.9 447.6h0M296.6 435.7h0M326.1 395.8h0M325.6 444.1h0M319.5 439.3h0M316.1 369.4h0M317.9 403.7h0M331.0 438.4h0M305.6 405.7h0M288.1 434.0h0M313.5 460.7h0M292.4 430.8h0M361.3 436.2h0M333.4 432.4h0M337.9 417.5h0M364.5 418.1h0M373.4 434.2h0M337.9 455.2h0M359.6 432.7h0M342.3 423.1h0M346.8 437.2h0M347.0 437.1h0M364.4 377.7h0M368.6 419.8h0M344.1 411.6h0M360.0 461.3h0M341.6 445.7h0M359.3 444.1h0M335.7 438.0h0M340.0 414.6h0M354.7 415.9h0M333.4 428.6h0M332.2 420.6h0M344.4 429.3h0M338.1 427.6h0M374.8 391.2h0M333.5 417.9h0M353.8 404.7h0M374.5 386.2h0M370.5 438.2h0M353.7 388.1h0M340.9 448.5h0M356.1 402.2h0M334.3 433.3h0M338.9 393.2h0M345.4 405.5h0M373.4 430.6h0M352.6 414.7h0M341.1 417.8h0M356.4 433.3h0M343.6 423.1h0M332.1 440.8h0M333.6 435.1h0M374.8 418.5h0M352.7 423.5h0M348.2 442.8h0M361.7 391.3h0M346.6 448.7h0M368.3 416.4h0M348.4 435.7h0M353.6 402.2h0M371.1 425.4h0M365.8 427.2h0M367.4 391.0h0M342.2 435.5h0M367.7 420.1h0M372.2 430.3h0M372.4 410.1h0M372.8 414.6h0M372.8 434.5h0M355.8 418.7h0M360.9 430.1h0M344.1 419.9h0M360.9 439.7h0M342.7 413.0h0M339.7 411.4h0M360.7 435.9h0M342.5 428.5h0M333.2 419.7h0M352.1 446.5h0M340.5 426.6h0M367.1 415.0h0M346.2 446.3h0M335.0 443.7h0M356.4 402.3h0M345.3 420.5h0M335.3 434.9h0M358.9 439.4h0M361.9 411.5h0M357.5 432.2h0M363.5 385.1h0M339.3 423.0h0M336.8 411.1h0M372.1 415.0h0M356.3 398.1h0M353.8 418.1h0M356.9 437.8h0M361.6 417.6h0M355.8 428.3h0M365.4 417.3h0M346.2 429.9h0M374.2 418.2h0M366.9 428.9h0M359.0 428.4h0M365.9 416.6h0M335.7 433.7h0M340.3 410.7h0M336.5 415.6h0M354.7 429.9h0M366.3 438.7h0M344.7 405.0h0M374.3 423.8h0M341.3 447.8h0M365.6 432.1h0M338.2 433.4h0M344.8 404.2h0M364.2 407.4h0M364.2 418.8h0M350.2 446.3h0M333.5 435.9h0M332.1 440.7h0M354.1 399.5h0M360.1 424.6h0M354.7 383.9h0M336.3 420.6h0M340.0 440.2h0M364.9 417.6h0M353.8 437.9h0M357.9 414.9h0M343.5 461.5h0M353.5 404.3h0M341.0 424.4h0M335.4 416.4h0M373.5 437.3h0M332.8 391.9h0M355.1 443.8h0M372.9 414.9h0M341.1 448.8h0M364.3 426.0h0M338.8 423.1h0M335.9 454.3h0M336.7 431.7h0M345.5 419.2h0M363.8 437.1h0M367.4 405.4h0M358.6 425.6h0M353.1 443.7h0M357.0 434.0h0M371.7 432.1h0M366.3 421.3h0M365.4 410.5h0M342.8 427.7h0M336.4 424.5h0M343.3 427.8h0M359.1 413.7h0M356.8 405.4h0M375.2 400.1h0M344.7 452.7h0M366.9 417.9h0M373.2 421.1h0M346.2 402.3h0M365.9 404.1h0M356.1 444.5h0M360.6 430.9h0M356.4 452.6h0M335.7 423.1h0M343.2 423.2h0M373.8 423.0h0M348.4 450.6h0M336.1 422.6h0M370.2 433.5h0M366.2 410.2h0M356.3 437.5h0M334.2 395.7h0M331.5 407.1h0M336.0 406.1h0M359.0 452.1h0M349.4 408.9h0M340.6 408.9h0M359.8 434.1h0M355.8 424.2h0M332.8 438.7h0M364.4 407.4h0M338.3 391.8h0M342.1 446.4h0M347.5 447.2h0M342.2 419.1h0M335.0 447.3h0M354.9 411.3h0M338.0 435.0h0M356.0 416.2h0M344.2 412.0h0M363.8 417.8h0M372.0 402.9h0M345.9 443.5h0M350.7 443.9h0M366.9 417.0h0M351.0 443.0h0M341.3 428.6h0M340.4 419.3h0M373.0 418.4h0M343.1 420.7h0M346.8 421.5h0M352.7 464.4h0M335.1 433.8h0M351.5 432.8h0M372.2 396.5h0M356.6 402.5h0M338.9 438.0h0M334.2 414.4h0M359.6 426.4h0M368.7 409.2h0M354.4 444.8h0M337.2 417.6h0M353.7 411.9h0M334.8 454.5h0M371.8 411.3h0M362.3 399.6h0M347.2 427.4h0M372.5 399.7h0M351.4 440.0h0M332.8 448.2h0M333.6 452.4h0M374.0 403.7h0M370.7 452.6h0M344.8 415.0h0M361.2 425.8h0M365.4 406.8h0M353.9 419.9h0M343.8 427.3h0M365.2 409.4h0M365.3 404.6h0M362.3 402.8h0M343.0 409.3h0M348.0 412.3h0M362.3 430.4h0M370.2 421.9h0M340.2 455.0h0M331.9 435.2h0M335.2 433.3h0M363.7 399.4h0M343.9 396.8h0M333.6 449.9h0M337.5 456.8h0M332.5 442.6h0M339.5 424.6h0M364.4 392.0h0M333.8 451.9h0M363.9 442.2h0M359.2 442.4h0M351.7 404.0h0M336.1 440.5h0M365.5 425.6h0M341.7 447.4h0M374.4 409.1h0M364.2 426.9h0M351.5 425.1h0M361.7 433.1h0M361.3 431.4h0M348.7 406.0h0M352.5 433.9h0M356.0 412.8h0M340.2 435.9h0M351.1 443.2h0M333.5 425.1h0M357.0 438.1h0M349.2 424.8h0M335.3 412.5h0M349.6 430.2h0M348.7 437.1h0M340.1 410.3h0M343.2 429.9h0M355.6 435.5h0M366.9 420.4h0M340.6 416.6h0M374.7 408.4h0M352.0 418.9h0M362.5 413.3h0M369.1 420.6h0M333.6 450.6h0M351.4 425.0h0M343.9 456.6h0M409.3 400.6h0M413.8 420.6h0M418.8 421.9h0M388.9 390.4h0M396.8 408.0h0M398.4 408.0h0M389.0 418.9h0M408.2 406.4h0M404.3 419.1h0M406.3 415.7h0M381.5 415.7h0M382.9 415.2h0M401.3 450.0h0M377.8 396.3h0M379.3 427.4h0M400.6 397.0h0M377.0 398.7h0M397.6 405.7h0M404.7 415.7h0M394.4 403.6h0M383.0 422.1h0M383.1 432.0h0M415.0 443.0h0M396.1 401.5h0M389.5 411.7h0M394.6 390.1h0M412.0 407.6h0M394.1 408.1h0M408.1 405.4h0M417.8 409.0h0M383.2 407.7h0M393.7 404.0h0M408.3 399.8h0M418.5 417.8h0M377.8 421.3h0M376.1 388.8h0M404.6 406.1h0M410.4 416.6h0M406.1 429.9h0M379.4 396.9h0M414.3 390.8h0M392.3 406.8h0M387.5 420.7h0M398.7 401.0h0M401.9 393.0h0M378.5 414.7h0M397.1 410.7h0M419.1 409.9h0M407.8 407.9h0M390.4 426.6h0M390.5 409.0h0M407.3 420.7h0M410.6 416.4h0M389.3 430.7h0M403.9 429.6h0M416.0 403.9h0M410.3 381.6h0M378.2 447.3h0M380.9 416.9h0M403.5 432.9h0M388.3 415.1h0M387.0 438.4h0M404.1 410.6h0M419.2 410.8h0M385.7 413.5h0M413.7 400.9h0M390.1 416.0h0M378.2 418.3h0M381.8 428.7h0M387.1 423.6h0M381.1 420.9h0M380.4 418.0h0M406.2 404.8h0M402.3 403.8h0M398.6 430.6h0M393.8 397.6h0M398.6 405.3h0M399.0 411.7h0M397.9 411.5h0M375.7 432.7h0M400.5 402.7h0M394.1 447.8h0M397.4 444.6h0M386.0 404.8h0M415.8 415.2h0M385.0 418.7h0M397.5 422.8h0M375.6 408.3h0M395.8 427.1h0M401.9 410.3h0M405.7 402.9h0M385.8 391.4h0M392.8 397.2h0M396.3 411.4h0M381.8 404.0h0M399.3 418.2h0M393.5 412.8h0M410.4 396.5h0M378.0 396.0h0M395.1 430.0h0M417.3 410.9h0M380.7 409.2h0M381.6 406.6h0M393.5 408.0h0M404.0 411.5h0M403.6 423.5h0M400.8 427.4h0M409.9 401.0h0M399.3 418.7h0M391.6 416.4h0M381.1 427.4h0M389.5 420.5h0M390.7 426.9h0M387.3 419.8h0M417.2 409.1h0M407.9 401.7h0M378.9 430.9h0M401.4 436.1h0M388.4 419.7h0M389.8 410.0h0M382.4 424.2h0M397.8 399.7h0M406.1 409.1h0M406.8 421.2h0M377.4 407.3h0M406.3 404.0h0M412.8 410.3h0M411.7 411.7h0M419.2 420.3h0M401.4 438.3h0M387.2 407.7h0M413.8 374.1h0M417.5 394.2h0M401.0 402.7h0M376.9 416.5h0M392.2 419.2h0M383.5 391.6h0M404.9 405.4h0M412.3 391.3h0M418.2 406.8h0M387.6 404.3h0M379.0 404.8h0M388.7 426.4h0M408.3 427.1h0M413.8 398.3h0M396.8 397.8h0M377.0 408.9h0M386.8 420.3h0M411.5 429.3h0M416.5 414.9h0M390.9 398.1h0M412.9 394.9h0M409.4 411.9h0M395.3 400.0h0M393.8 415.4h0M408.8 420.3h0M381.3 416.6h0M383.1 426.9h0M383.6 402.2h0M387.8 425.5h0M411.3 403.8h0M410.2 390.7h0M383.6 416.7h0M376.9 429.4h0M417.5 391.7h0M413.1 399.8h0M377.2 400.0h0M386.7 416.1h0M392.1 406.6h0M375.7 420.2h0M388.1 406.0h0M405.9 407.8h0M403.3 415.2h0M399.7 427.5h0M377.1 428.9h0M400.0 416.0h0M397.8 404.9h0M401.9 402.8h0M410.7 409.7h0M376.0 405.3h0M417.5 380.6h0M409.7 413.0h0M393.9 402.3h0M390.4 407.7h0M393.0 407.9h0M398.4 409.6h0M410.7 440.5h0M395.4 396.3h0M376.1 448.9h0M391.8 438.0h0M417.9 401.5h0M389.1 401.7h0M382.7 406.9h0M397.3 426.7h0M383.3 433.8h0M406.7 406.7h0M378.2 442.4h0M411.5 386.4h0M418.3 382.0h0M414.1 408.2h0M403.0 412.3h0M391.0 410.2h0M379.4 385.8h0M388.8 428.4h0M409.6 418.8h0M380.9 409.8h0M383.2 423.3h0M413.7 394.0h0M392.9 380.2h0M400.6 398.5h0M375.5 428.1h0M400.9 407.6h0M416.5 408.7h0M418.1 420.3h0M383.8 404.8h0M403.3 389.9h0M396.2 402.4h0M414.4 380.3h0M391.1 425.3h0M376.3 420.0h0M390.8 433.5h0M411.9 404.7h0M381.1 395.2h0M376.4 417.7h0M398.7 416.0h0M393.5 400.8h0M391.9 393.3h0M405.6 405.0h0M413.0 407.1h0M383.4 395.2h0M411.5 399.1h0M410.7 386.6h0M408.0 416.5h0M412.1 406.2h0M409.6 415.4h0M384.5 438.1h0M395.8 426.8h0M399.5 401.8h0M418.4 391.5h0M405.3 412.2h0M413.2 411.9h0M379.8 395.6h0M375.5 427.9h0M384.3 406.1h0M417.0 421.5h0M396.0 435.5h0M389.1 410.7h0M406.6 409.2h0M388.4 423.3h0M377.3 440.4h0M415.4 401.4h0M410.9 418.5h0M410.8 380.7h0M393.2 404.1h0M395.8 419.6h0M386.9 431.1h0M392.1 413.1h0M409.8 416.7h0M412.4 424.1h0M391.5 403.0h0M383.2 427.1h0M398.4 402.1h0M405.9 416.4h0M385.6 408.7h0M417.2 401.0h0M397.5 394.6h0M379.3 403.0h0M401.1 423.4h0M384.9 401.0h0M417.5 377.2h0M383.2 428.1h0M411.0 395.5h0M410.7 407.6h0M390.0 406.8h0M401.3 369.4h0M397.8 446.8h0M410.3 421.3h0M386.9 412.2h0M383.4 431.5h0M403.8 411.1h0M390.3 398.5h0M386.4 413.9h0M393.5 426.3h0M397.4 395.5h0M380.2 408.8h0M376.9 428.9h0M378.1 408.5h0M404.9 438.8h0M418.4 430.5h0M385.8 411.2h0M403.9 412.3h0M401.9 391.6h0M417.3 406.0h0M389.0 438.3h0M395.0 375.9h0M396.3 410.1h0M415.6 401.9h0M411.4 426.7h0M408.0 380.3h0M415.1 382.3h0M403.7 387.1h0M397.0 403.2h0M390.1 397.5h0M393.9 398.3h0M388.7 434.3h0M383.7 393.5h0M379.4 435.0h0M382.8 404.6h0M387.6 450.6h0M411.4 393.4h0M410.6 431.1h0M390.5 397.4h0M378.4 408.7h0M381.2 409.4h0M404.3 412.8h0M384.5 410.4h0M398.9 395.9h0M383.8 426.9h0M413.2 421.5h0M393.7 395.4h0M406.0 439.8h0M396.4 392.6h0M390.5 445.8h0M393.7 413.0h0M383.3 394.3h0M378.7 397.2h0M404.3 429.5h0M418.2 410.6h0M387.3 398.4h0M403.5 395.1h0M406.6 452.0h0M376.2 409.8h0M392.9 426.9h0M398.5 381.4h0M375.6 428.3h0M394.9 381.8h0M392.0 402.8h0M390.0 396.4h0M391.2 397.9h0M394.3 404.0h0M401.9 417.2h0M375.5 425.2h0M383.9 424.5h0M377.2 433.5h0M403.1 413.9h0M392.5 409.9h0M382.2 418.4h0M402.7 392.5h0M376.6 420.6h0M382.8 399.6h0M395.3 403.5h0M400.9 385.0h0M379.9 406.2h0M413.3 386.9h0M406.6 395.3h0M417.6 403.0h0M410.1 390.7h0M407.2 422.4h0M378.8 412.2h0M405.0 403.9h0M417.0 389.6h0M411.1 425.8h0M388.2 412.2h0M390.8 401.6h0M385.2 400.3h0M418.0 410.9h0M402.7 426.4h0M389.9 405.6h0M388.2 433.2h0M377.3 414.2h0M378.0 415.9h0M400.6 405.0h0M417.0 384.6h0M399.5 394.8h0M398.6 401.9h0M409.6 395.1h0M377.9 417.2h0M385.3 407.2h0M379.5 410.1h0M384.4 421.2h0M405.7 404.4h0M377.6 387.1h0M380.8 415.0h0M382.4 410.7h0M416.4 416.7h0M386.5 425.3h0M377.7 433.6h0M402.9 418.1h0M402.4 384.3h0M418.3 383.0h0M395.8 409.0h0M386.3 445.0h0M386.0 393.8h0M375.9 424.7h0M397.3 423.9h0M398.2 387.8h0M406.4 405.1h0M417.1 375.9h0M416.0 399.9h0M406.4 416.3h0M392.5 420.6h0M418.0 431.3h0M415.6 402.4h0M400.5 416.5h0M392.7 401.6h0M410.1 407.5h0M392.1 383.9h0M412.2 412.2h0M412.0 399.2h0M386.9 384.7h0M392.5 399.4h0M404.9 383.9h0M396.1 387.4h0M402.9 409.6h0M393.2 416.9h0M404.2 441.2h0M382.6 413.4h0M393.7 411.9h0M402.5 402.8h0M410.9 381.5h0M378.7 417.9h0M377.7 419.5h0M405.6 399.0h0M404.8 409.4h0M403.3 413.9h0M375.3 427.6h0M389.0 411.8h0M416.6 398.1h0M392.2 424.9h0M376.7 423.4h0M397.7 408.1h0M376.1 429.5h0M396.3 397.1h0M403.7 394.4h0M415.1 408.0h0M397.6 371.4h0M378.5 400.1h0M387.9 404.0h0M402.0 402.4h0M377.5 397.2h0M393.8 388.1h0M393.3 404.0h0M400.9 371.1h0M387.6 411.3h0M394.9 417.7h0M413.9 415.7h0M397.4 415.5h0M400.2 410.9h0M417.7 407.7h0M375.7 424.3h0M460.9 381.9h0M436.2 413.8h0M453.7 408.9h0M426.5 400.3h0M435.6 401.9h0M442.9 406.8h0M462.6 364.2h0M437.1 400.5h0M443.3 390.3h0M456.5 407.3h0M435.8 402.0h0M419.8 389.5h0M449.9 390.1h0M430.2 390.8h0M441.8 403.2h0M461.9 420.5h0M424.0 421.7h0M461.4 369.4h0M448.5 386.4h0M448.3 385.3h0M419.5 410.1h0M434.1 402.2h0M423.4 406.4h0M426.9 415.8h0M440.0 386.8h0M440.4 405.1h0M454.0 413.7h0M453.1 391.5h0M426.2 401.8h0M436.0 406.1h0M448.9 390.2h0M426.5 392.4h0M423.3 385.9h0M435.5 405.1h0M453.0 401.0h0M463.1 380.4h0M458.1 389.7h0M422.5 407.0h0M436.9 385.9h0M437.2 379.1h0M453.7 383.2h0M460.1 402.4h0M457.8 424.6h0M420.4 389.7h0M458.0 394.1h0M424.1 402.3h0M429.3 370.9h0M434.0 386.3h0M460.6 387.4h0M459.8 389.9h0M427.8 422.2h0M420.0 394.1h0M428.3 401.8h0M431.7 393.5h0M438.4 378.4h0M428.1 410.1h0M425.3 393.7h0M455.9 418.9h0M419.9 427.8h0M451.5 387.7h0M426.3 389.2h0M427.8 409.2h0M443.0 380.4h0M441.4 396.0h0M445.9 380.1h0M422.4 412.3h0M458.7 401.8h0M447.5 378.2h0M427.8 381.6h0M451.5 404.6h0M449.7 374.8h0M434.3 417.2h0M462.8 384.0h0M431.2 412.7h0M421.0 413.4h0M457.5 391.8h0M444.9 397.5h0M438.0 385.2h0M436.2 401.1h0M437.9 419.0h0M453.6 380.1h0M459.1 365.4h0M425.5 425.2h0M457.5 378.5h0M455.3 412.4h0M430.6 390.4h0M424.2 406.3h0M449.8 408.9h0M461.2 388.7h0M453.7 401.1h0M463.1 368.3h0M459.7 392.6h0M431.8 394.5h0M428.9 399.1h0M460.3 379.3h0M422.7 411.0h0M420.7 374.6h0M446.3 391.3h0M458.8 387.3h0M426.3 399.4h0M454.7 389.0h0M444.2 398.5h0M444.3 400.3h0M444.1 399.1h0M434.5 393.7h0M438.5 383.2h0M430.0 394.5h0M452.2 394.5h0M456.8 385.0h0M423.6 388.3h0M425.7 393.0h0M435.2 374.7h0M455.7 390.5h0M452.4 391.2h0M458.5 397.6h0M426.9 410.4h0M426.3 396.6h0M454.0 395.9h0M461.6 380.6h0M419.2 405.3h0M459.9 388.4h0M442.8 370.4h0M443.5 383.5h0M449.1 379.6h0M422.9 410.8h0M419.5 414.6h0M428.1 405.3h0M433.1 381.9h0M433.0 411.0h0M427.7 398.4h0M435.5 376.1h0M422.5 406.2h0M428.1 399.1h0M458.1 382.4h0M419.7 423.4h0M440.2 378.8h0M435.1 400.8h0M447.3 397.1h0M457.8 412.7h0M429.0 409.3h0M430.5 433.6h0M442.2 379.2h0M461.8 371.7h0M460.5 399.9h0M440.5 382.0h0M453.5 385.5h0M442.9 406.6h0M448.9 406.6h0M421.1 425.6h0M460.8 408.8h0M455.4 414.4h0M462.0 382.2h0M425.4 372.3h0M434.7 390.7h0M456.4 415.0h0M427.9 405.3h0M457.5 392.2h0M441.6 414.5h0M439.8 408.3h0M455.4 387.1h0M420.7 406.9h0M426.8 410.6h0M450.4 415.9h0M460.1 379.0h0M427.9 394.6h0M458.8 365.9h0M458.7 408.0h0M460.2 382.1h0M456.8 382.3h0M450.5 391.6h0M463.1 398.9h0M428.5 405.9h0M423.0 401.2h0M419.9 429.9h0M437.0 388.2h0M440.9 395.1h0M423.3 406.3h0M426.6 398.9h0M434.3 396.6h0M419.8 396.6h0M438.7 394.4h0M427.4 411.8h0M420.1 411.3h0M447.4 392.9h0M430.7 400.3h0M452.5 373.6h0M433.2 407.1h0M420.3 408.0h0M448.7 397.8h0M428.5 419.2h0M451.9 391.2h0M456.2 403.9h0M453.9 398.0h0M453.4 403.5h0M425.8 403.3h0M456.9 389.5h0M431.2 433.3h0M449.3 395.0h0M426.4 396.8h0M458.5 405.3h0M460.8 396.4h0M434.8 374.6h0M435.0 404.5h0M454.1 386.0h0M437.5 411.5h0M463.0 377.2h0M449.6 417.3h0M454.4 390.3h0M420.2 408.4h0M434.1 396.5h0M432.1 400.0h0M451.3 386.7h0M447.2 409.9h0M436.0 416.1h0M440.2 391.4h0M434.5 396.5h0M422.9 432.3h0M444.4 374.7h0M451.2 396.3h0M422.9 403.8h0M435.5 420.7h0M445.1 394.2h0M421.1 397.6h0M424.5 392.8h0M443.8 409.3h0M428.3 389.9h0M437.0 385.3h0M459.5 366.6h0M437.3 399.5h0M422.4 399.1h0M435.0 427.2h0M420.5 427.6h0M422.3 404.4h0M444.0 394.0h0M449.7 395.9h0M429.1 406.3h0M438.8 389.2h0M450.4 385.3h0M459.2 395.5h0M435.5 397.5h0M445.9 389.2h0M451.0 390.7h0M437.9 417.1h0M441.4 401.3h0M457.6 397.8h0M445.7 377.5h0M459.9 402.0h0M450.6 396.1h0M452.9 396.9h0M452.1 398.7h0M428.8 422.2h0M427.1 376.9h0M434.2 400.3h0M447.3 388.5h0M456.1 388.5h0M426.8 407.1h0M462.1 417.2h0M461.3 392.0h0M452.7 377.4h0M458.1 409.2h0M457.4 392.8h0M445.9 391.9h0M429.3 405.8h0M433.1 404.7h0M461.0 383.4h0M435.3 401.6h0M445.2 369.8h0M443.8 388.2h0M454.5 374.0h0M444.8 387.0h0M455.4 404.0h0M426.4 403.3h0M431.5 399.9h0M453.7 393.0h0M444.7 417.9h0M460.6 383.6h0M422.6 395.9h0M420.1 402.7h0M440.8 413.6h0M422.3 380.3h0M431.8 404.9h0M438.7 404.6h0M420.7 432.9h0M450.7 385.4h0M452.4 380.5h0M455.5 380.0h0M456.3 420.0h0M430.7 385.1h0M438.6 402.3h0M443.0 400.2h0M461.1 399.9h0M454.8 385.7h0M450.5 381.0h0M439.5 397.1h0M440.6 401.6h0M438.3 382.8h0M448.6 396.1h0M431.0 397.1h0M421.7 408.9h0M434.4 394.8h0M434.8 392.6h0M426.5 411.9h0M437.5 416.0h0M442.1 399.3h0M438.8 415.1h0M440.2 399.1h0M427.0 387.1h0M424.1 406.2h0M435.2 432.4h0M427.9 414.1h0M427.6 398.3h0M434.2 396.7h0M437.5 408.6h0M453.3 386.1h0M441.6 406.9h0M433.1 378.7h0M430.9 388.0h0M423.4 367.2h0M424.5 394.2h0M453.2 390.0h0M433.3 415.4h0M425.7 400.6h0M444.5 410.6h0M445.4 382.1h0M456.9 401.6h0M423.1 368.0h0M432.1 401.0h0M455.9 411.5h0M419.8 409.7h0M420.0 421.2h0M431.1 415.5h0M448.0 394.6h0M456.8 414.9h0M439.4 389.0h0M422.8 404.0h0M456.9 399.0h0M457.2 396.8h0M421.9 409.5h0M443.0 399.4h0M441.5 398.9h0M436.9 404.3h0M458.3 378.6h0M460.1 387.5h0M439.5 394.8h0M460.2 414.3h0M421.9 404.2h0M447.8 380.9h0M460.7 401.8h0M455.0 377.6h0M454.8 388.7h0M460.7 387.1h0M419.6 433.7h0M462.8 382.3h0M425.4 408.8h0M423.2 404.4h0M436.3 383.8h0M429.7 380.8h0M435.8 382.7h0M446.7 374.9h0M452.9 377.6h0M458.2 411.4h0M453.5 386.5h0M462.0 409.7h0M443.1 409.7h0M427.5 418.1h0M424.6 413.4h0M441.2 395.2h0M461.8 402.2h0M452.4 390.6h0M449.8 380.1h0M431.6 394.2h0M446.7 419.2h0M435.5 401.7h0M459.0 382.4h0M427.7 405.1h0M425.4 395.9h0M452.1 404.9h0M462.5 393.9h0M433.0 388.6h0M433.0 414.6h0M444.2 396.7h0M439.3 399.7h0M439.1 403.0h0M459.7 386.2h0M451.1 377.4h0M438.0 401.1h0M425.1 410.6h0M424.4 405.6h0M421.9 384.1h0M427.3 413.2h0M444.0 409.8h0M450.1 401.4h0M440.3 387.7h0M430.3 400.3h0M423.2 393.0h0M460.1 405.5h0M419.7 406.6h0M442.4 410.3h0M434.1 412.5h0M436.8 393.6h0M420.7 406.2h0M422.9 374.1h0M440.2 381.3h0M448.3 394.1h0M426.7 404.8h0M462.0 408.8h0M436.4 421.4h0M455.1 378.3h0M424.5 410.1h0M444.2 392.6h0M452.9 392.1h0M436.8 388.3h0M456.6 369.0h0M457.7 380.8h0M456.4 394.2h0M423.9 382.9h0M441.0 389.9h0M423.7 404.2h0M424.7 399.5h0M456.3 380.0h0M462.9 372.8h0M444.1 403.8h0M424.4 406.1h0M444.3 414.0h0M452.3 381.7h0M450.4 396.6h0M443.1 374.6h0M455.2 373.6h0M442.1 393.7h0M420.3 399.4h0M444.0 405.4h0M458.1 400.4h0M425.5 400.8h0M453.5 396.0h0M453.2 370.4h0M457.8 399.8h0M436.9 389.4h0M442.0 398.9h0M441.8 394.7h0M459.4 385.7h0M433.0 414.4h0M451.1 383.5h0M428.5 383.0h0M441.5 381.5h0M424.9 403.9h0M457.1 402.5h0M432.6 387.1h0M462.1 396.8h0M431.5 396.3h0M448.6 417.8h0M476.7 404.2h0M492.1 383.1h0M470.0 390.4h0M504.4 388.5h0M472.4 408.6h0M463.4 385.3h0M504.6 396.2h0M478.2 394.1h0M471.3 378.1h0M479.7 385.3h0M472.8 382.7h0M494.0 378.8h0M487.3 380.4h0M491.1 383.5h0M497.4 390.9h0M500.6 365.6h0M465.8 386.7h0M478.2 383.8h0M487.6 394.6h0M476.2 372.2h0M473.4 384.0h0M473.3 402.6h0M464.9 396.6h0M477.4 390.4h0M476.8 403.5h0M501.4 383.9h0M465.1 378.9h0M485.3 367.3h0M504.0 373.7h0M480.0 383.2h0M486.0 384.6h0M500.0 387.0h0M466.1 393.9h0M471.3 382.8h0M479.4 401.9h0M469.3 390.7h0M503.1 376.1h0M479.6 382.0h0M476.3 404.1h0M486.7 375.9h0M497.1 389.5h0M498.8 384.1h0M504.1 368.3h0M484.8 371.5h0M475.3 395.2h0M502.4 388.9h0M498.7 364.2h0M467.1 382.3h0M499.7 379.4h0M487.9 388.0h0M485.1 384.9h0M468.8 400.0h0M469.3 376.0h0M498.6 376.4h0M495.3 375.9h0M490.4 376.8h0M504.6 389.1h0M473.6 393.9h0M498.8 366.5h0M497.6 364.1h0M489.7 378.9h0M503.1 381.1h0M474.0 375.3h0M485.7 395.3h0M493.8 391.1h0M483.7 385.2h0M504.1 371.9h0M468.7 385.7h0M472.0 383.4h0M490.1 396.2h0M463.5 394.6h0M469.2 388.9h0M489.7 386.2h0M481.9 391.1h0M505.2 370.4h0M483.9 387.0h0M480.2 395.1h0M503.1 365.0h0M504.4 375.7h0M492.2 400.4h0M492.2 375.7h0M466.4 363.7h0M464.3 377.6h0M500.4 364.6h0M481.8 378.8h0M472.1 395.5h0M494.6 367.6h0M465.3 403.8h0M499.7 377.3h0M481.5 376.5h0M481.7 380.1h0M485.0 387.5h0M480.4 398.3h0M466.6 364.5h0M488.8 373.0h0M473.8 393.5h0M494.3 392.5h0M489.4 379.8h0M478.5 383.7h0M484.8 380.7h0M473.5 368.8h0M483.5 392.1h0M479.4 379.1h0M507.0 394.5h0M465.2 392.2h0M466.8 369.8h0M464.7 405.3h0M470.8 376.9h0M471.7 411.9h0M503.3 381.7h0M483.6 385.4h0M496.1 385.8h0M478.7 378.6h0M481.9 376.7h0M503.6 366.1h0M473.0 391.1h0M471.0 396.2h0M465.5 373.8h0M467.8 395.7h0M505.7 369.9h0M470.9 395.5h0M489.4 374.9h0M490.2 371.6h0M498.6 387.0h0M464.3 388.2h0M477.4 382.0h0M469.8 388.2h0M481.0 374.0h0M490.2 371.4h0M463.4 386.0h0M500.2 388.1h0M492.5 387.6h0M503.4 402.7h0M481.2 381.4h0M476.5 388.9h0M486.2 377.1h0M505.9 384.9h0M494.9 389.7h0M472.5 385.7h0M467.3 396.2h0M465.7 384.5h0M480.0 380.5h0M478.1 385.9h0M481.1 374.7h0M464.3 387.4h0M495.8 383.8h0M474.4 397.2h0M499.8 373.5h0M475.9 394.9h0M464.1 376.4h0M501.3 373.5h0M503.8 382.7h0M463.9 402.9h0M475.0 400.8h0M495.0 363.2h0M477.2 411.1h0M467.0 398.0h0M485.3 371.5h0M485.4 375.4h0M467.6 386.0h0M473.7 379.9h0M487.6 405.6h0M503.2 392.0h0M505.9 384.8h0M497.5 390.6h0M495.2 393.4h0M465.1 399.9h0M472.7 374.2h0M471.2 411.6h0M497.0 404.0h0" stroke="#c0504d" stroke-width="2.85" stroke-linecap="round" fill="none"/>
<rect x="330" y="521" width="176" height="28" fill="#fff"/>
<circle cx="335.4" cy="529.2" r="1.5" fill="#8fa8cc"/><circle cx="335.4" cy="541.5" r="1.5" fill="#c8928f"/>
<text x="341" y="533.1" font-size="10.4" text-anchor="start" fill="#222" textLength="142.5" lengthAdjust="spacingAndGlyphs">Significantly enriched in platelets</text>
<text x="341" y="545.4" font-size="10.4" text-anchor="start" fill="#222" textLength="159.8" lengthAdjust="spacingAndGlyphs">Not significantly enriched in platelets</text>
<text x="67.8" y="573.8" font-size="11.2" text-anchor="middle" fill="#222">0</text>
<text x="56.3" y="557.2" font-size="11.2" text-anchor="end" fill="#222">0</text>
<text x="155.7" y="573.8" font-size="11.2" text-anchor="middle" fill="#222">0.2</text>
<text x="56.3" y="518.4" font-size="11.2" text-anchor="end" fill="#222">0.2</text>
<text x="243.5" y="573.8" font-size="11.2" text-anchor="middle" fill="#222">0.4</text>
<text x="56.3" y="479.7" font-size="11.2" text-anchor="end" fill="#222">0.4</text>
<text x="331.4" y="573.8" font-size="11.2" text-anchor="middle" fill="#222">0.6</text>
<text x="56.3" y="440.9" font-size="11.2" text-anchor="end" fill="#222">0.6</text>
<text x="419.2" y="573.8" font-size="11.2" text-anchor="middle" fill="#222">0.8</text>
<text x="56.3" y="402.2" font-size="11.2" text-anchor="end" fill="#222">0.8</text>
<text x="507.1" y="573.8" font-size="11.2" text-anchor="middle" fill="#222">1</text>
<text x="56.3" y="363.4" font-size="11.2" text-anchor="end" fill="#222">1</text>
<text x="287.4" y="586.5" font-size="9.9" text-anchor="middle" font-weight="bold" fill="#000" textLength="273" lengthAdjust="spacingAndGlyphs">Proportion of reads from circRNA producing exons in platelets</text>
<text x="16.8" y="473" font-size="9.9" text-anchor="middle" font-weight="bold" fill="#000" transform="rotate(-90 16.8 473)" textLength="152" lengthAdjust="spacingAndGlyphs">Proportion of reasds from circRNA</text>
<text x="28.9" y="474.2" font-size="9.9" text-anchor="middle" font-weight="bold" fill="#000" transform="rotate(-90 28.9 474.2)" textLength="159.5" lengthAdjust="spacingAndGlyphs">producing exons in nucleated tissues</text>
<text x="0.2" y="355.3" font-size="15.3" text-anchor="start" font-weight="bold" fill="#000">B</text>
<path d="M72.3 620.2H511M72.3 683.2H511M72.3 746.2H511M72.3 809.2H511" stroke="#c8c8c8" stroke-width="1" fill="none"/>
<path d="M207.7 620.2V809.2" stroke="#c8c8c8" stroke-width="1" fill="none"/>
<path d="M72.3 746.2v3M140.0 746.2v3M207.7 746.2v3M275.4 746.2v3M343.1 746.2v3M410.8 746.2v3M478.5 746.2v3" stroke="#c8c8c8" stroke-width="1" fill="none"/>
<path d="M310.6 685.1h0M289.2 726.6h0M331.6 691.4h0M236.7 727.1h0M336.0 714.7h0M327.4 712.5h0M303.3 731.3h0M249.8 737.0h0M233.8 735.6h0M262.4 719.5h0M344.5 720.9h0M324.4 715.2h0M330.6 712.0h0M260.1 697.2h0M258.8 738.9h0M265.8 735.5h0M363.7 688.0h0M325.0 737.1h0M333.4 744.9h0M271.0 728.1h0M308.5 689.2h0M274.8 720.2h0M328.6 684.7h0M267.9 692.3h0M379.6 679.5h0M327.5 729.7h0M358.6 690.2h0M360.4 708.5h0M325.8 702.1h0M308.6 727.4h0M324.5 710.7h0M300.5 723.6h0M356.6 733.6h0M297.9 712.3h0M291.1 686.6h0M410.1 706.6h0M332.7 713.0h0M295.5 690.7h0M310.1 720.4h0M225.6 710.1h0M332.0 679.0h0M341.1 708.0h0M245.2 747.7h0M287.8 710.2h0M295.9 715.6h0M318.1 697.5h0M284.0 673.2h0M339.0 660.4h0M277.1 707.7h0M331.2 703.1h0M316.1 713.8h0M245.6 710.1h0M341.4 698.8h0M312.9 714.4h0M289.8 717.7h0M324.5 696.3h0M257.1 737.6h0M280.4 729.0h0M320.7 732.3h0M276.0 716.8h0M263.4 753.4h0M379.5 688.2h0M330.6 701.1h0M348.4 698.7h0M346.5 697.4h0M289.0 725.0h0M268.8 750.7h0M266.7 738.0h0M251.3 726.9h0M295.4 677.2h0M292.9 694.4h0M337.3 714.7h0M271.4 731.9h0M333.1 699.2h0M287.1 742.4h0M329.0 733.4h0M357.1 727.6h0M332.9 747.9h0M282.2 703.0h0M315.8 700.3h0M301.0 709.9h0M320.8 732.0h0M281.4 709.6h0M298.2 723.9h0M320.2 703.6h0M247.3 734.1h0M247.2 731.1h0M315.2 701.9h0M451.5 677.8h0M218.3 753.1h0M327.3 673.2h0M254.2 703.7h0M259.4 664.3h0M333.7 665.6h0M345.8 700.7h0M281.4 705.3h0M295.5 710.0h0M243.6 737.4h0M300.8 703.7h0M323.8 713.8h0M330.1 668.2h0M365.2 748.2h0M331.7 686.8h0M323.0 711.5h0M321.7 693.0h0M329.0 720.5h0M377.7 677.6h0M324.7 724.7h0M314.0 697.5h0M259.5 722.8h0M372.1 690.4h0M288.0 726.0h0M323.6 701.3h0M326.3 724.5h0M330.6 725.0h0M307.7 695.7h0M307.6 680.7h0M348.1 691.3h0M304.9 718.3h0M346.5 736.4h0M307.7 708.3h0M262.0 717.8h0M306.2 696.1h0M394.2 656.8h0M282.2 720.4h0M252.5 711.6h0M279.7 749.5h0M295.6 750.8h0M292.1 692.3h0M362.2 717.5h0M326.9 714.9h0M260.5 724.7h0M331.7 707.8h0M267.6 703.9h0M373.2 685.0h0M337.6 686.2h0M253.8 705.0h0M248.8 700.2h0M348.2 748.9h0M305.1 705.5h0M263.2 735.9h0M323.2 715.9h0M356.0 711.3h0M260.1 705.0h0M296.4 736.0h0M269.4 711.4h0M320.9 693.6h0M340.1 683.6h0M298.0 703.5h0M307.9 738.6h0M365.2 704.7h0M239.2 734.5h0M272.5 714.4h0M308.3 732.1h0M273.6 707.5h0M322.7 686.0h0M258.1 750.0h0M288.4 691.8h0M351.5 708.2h0M351.6 696.4h0M361.3 714.9h0M264.9 716.5h0M331.1 696.9h0M246.4 719.7h0M272.8 744.2h0M273.2 740.2h0M318.5 713.0h0M359.3 726.2h0M299.2 697.0h0M264.0 707.6h0M347.9 698.9h0M244.0 762.0h0M257.3 728.1h0M333.4 733.5h0M256.2 724.9h0M368.3 693.6h0M368.8 681.3h0M315.1 714.4h0M259.0 742.7h0M279.6 747.5h0M307.9 700.4h0M327.8 703.0h0M294.5 716.5h0M283.5 708.5h0M398.2 688.4h0M366.7 738.2h0M356.7 667.8h0M316.5 686.3h0M265.7 743.1h0M271.5 716.6h0M292.3 709.6h0M247.0 708.6h0M260.0 727.4h0M274.3 732.9h0M297.0 705.4h0M315.0 711.7h0M342.3 713.3h0M313.4 701.8h0M302.0 712.7h0M266.2 738.8h0M289.7 717.9h0M279.3 729.8h0M355.0 715.3h0M389.3 664.8h0M360.9 732.3h0M327.0 687.5h0M312.1 681.2h0M258.6 733.1h0M275.1 756.2h0M312.5 714.7h0M289.1 696.8h0M242.9 739.5h0M241.4 744.4h0M257.6 716.2h0M296.4 709.3h0M236.9 741.9h0M286.9 710.9h0M310.9 744.7h0M280.4 716.9h0M234.1 765.5h0M262.0 750.9h0M321.4 751.9h0M406.8 720.3h0M357.9 727.2h0M277.5 691.7h0M254.7 751.3h0M394.5 675.3h0M304.0 757.6h0M320.1 737.9h0M281.6 704.4h0M336.8 726.7h0M279.1 736.8h0M327.7 689.2h0M329.0 718.9h0M312.2 724.8h0M265.3 699.0h0M334.7 696.0h0M410.7 670.3h0M386.1 691.6h0M350.2 697.2h0M323.5 734.7h0M353.1 740.2h0M303.6 734.1h0M310.1 688.4h0M266.6 688.1h0M345.8 702.9h0M307.3 689.7h0M283.8 718.1h0M319.1 663.8h0M260.9 707.3h0M327.4 686.9h0M250.6 748.6h0M318.9 730.1h0M307.4 699.3h0M321.4 729.3h0M227.6 732.4h0M358.3 730.6h0M407.1 675.1h0M324.2 706.7h0M291.2 743.9h0M328.3 700.6h0M323.9 680.3h0M223.0 719.3h0M311.5 757.6h0M266.1 705.9h0M252.2 740.5h0M301.6 730.0h0M343.3 689.0h0M273.0 722.1h0M253.8 719.7h0M290.8 698.3h0M343.5 689.5h0M260.2 698.9h0M279.6 708.2h0M366.4 681.4h0M302.5 701.2h0M303.4 664.7h0M363.1 717.4h0M359.5 689.2h0M249.9 742.6h0M319.0 712.1h0M329.8 703.3h0M293.4 710.4h0M255.2 743.2h0M338.5 697.3h0M230.3 739.4h0M296.5 706.2h0M302.8 731.5h0M315.1 712.0h0M398.4 692.3h0M270.3 707.5h0M331.6 698.9h0M341.9 742.7h0M259.2 780.6h0M296.5 710.9h0M338.9 654.8h0M268.9 713.2h0M365.4 678.6h0M283.5 682.7h0M369.4 725.1h0M263.3 707.6h0M329.2 703.6h0M309.9 711.9h0M301.3 710.3h0M263.1 722.7h0M249.7 702.8h0M302.9 708.2h0M308.8 750.0h0M381.6 705.4h0M266.6 703.0h0M358.9 640.1h0M269.5 726.7h0M287.8 684.3h0M281.4 701.2h0M330.6 685.6h0M318.3 705.3h0M302.4 712.7h0M302.4 722.0h0M375.6 679.1h0M285.4 722.1h0M318.8 713.8h0M347.0 725.6h0M292.4 710.8h0M263.4 705.2h0M242.6 721.3h0M328.2 711.1h0M257.5 714.8h0M325.2 730.8h0M296.7 691.8h0M311.6 716.3h0M323.1 693.7h0M407.0 664.5h0M346.3 686.5h0M267.0 710.5h0M291.0 720.6h0M318.3 698.2h0M234.0 761.6h0M290.3 730.7h0M329.5 710.1h0M312.0 734.7h0M344.1 715.1h0M315.7 706.0h0M337.9 707.9h0M294.5 718.3h0M277.9 736.1h0M376.0 712.4h0M288.3 703.9h0M327.1 688.9h0M364.4 708.7h0M260.2 729.0h0M339.1 703.5h0M295.5 720.2h0M324.5 693.1h0M252.0 735.8h0M294.7 739.0h0M300.1 660.7h0M292.7 726.5h0M266.9 725.0h0M321.2 709.4h0M261.5 712.9h0M328.0 723.3h0M343.5 697.9h0M336.6 737.7h0M258.5 745.1h0M273.9 700.3h0M302.5 697.3h0M390.2 708.8h0M311.9 692.1h0M310.2 695.4h0M333.0 715.2h0M319.4 698.7h0M340.1 708.5h0M307.5 681.2h0M365.3 709.5h0M322.1 725.7h0M331.7 710.8h0M303.9 758.1h0M276.3 719.3h0M293.2 700.1h0M342.0 705.3h0M295.5 746.5h0M298.5 716.0h0M299.8 673.5h0M271.6 735.4h0M303.7 689.4h0M347.9 710.5h0M324.3 685.3h0M315.9 687.9h0M297.3 732.9h0M227.4 723.8h0M256.7 712.0h0M278.4 701.0h0M332.6 716.6h0M297.7 725.0h0M229.6 758.8h0M295.5 708.9h0M245.2 709.8h0M338.9 723.4h0M253.0 716.1h0M238.0 738.6h0M371.2 666.5h0M309.6 664.0h0M260.9 719.1h0M261.1 728.9h0M347.1 690.5h0M374.1 668.7h0M279.9 710.0h0M222.8 751.4h0M308.4 729.2h0M285.0 722.4h0M248.6 710.0h0M257.5 717.4h0M290.9 721.4h0M290.9 695.5h0M262.0 730.6h0M327.3 739.7h0M349.2 730.4h0M235.0 750.7h0M295.0 682.7h0M295.2 689.2h0M292.2 696.4h0M284.2 699.4h0M375.6 695.0h0M298.7 701.3h0M340.1 700.4h0M334.6 727.0h0M364.7 701.3h0M337.5 665.6h0M318.7 702.0h0M274.1 713.1h0M323.8 698.8h0M272.3 696.5h0M323.1 683.7h0M223.5 710.7h0M279.2 741.8h0M272.9 703.7h0M323.5 701.9h0M332.7 670.6h0M307.7 751.3h0M257.8 746.2h0M318.4 718.9h0M290.6 712.0h0M288.2 708.9h0M323.0 708.2h0M315.1 711.4h0M340.7 715.5h0M291.3 714.6h0M285.5 689.9h0M304.0 706.9h0M348.5 685.9h0M263.5 711.0h0M341.2 709.7h0M294.8 740.1h0M252.7 759.5h0M270.4 741.6h0M318.1 712.0h0M268.9 708.5h0M322.7 701.7h0M287.0 724.8h0M324.7 714.3h0M262.4 715.3h0M254.8 741.6h0M253.8 754.8h0M293.8 720.9h0M288.6 722.2h0M291.3 683.6h0M333.3 733.7h0M331.5 698.3h0M263.2 757.4h0M217.8 735.0h0M363.6 738.3h0M286.4 739.1h0M281.6 715.2h0M297.9 700.8h0M333.9 676.9h0M264.2 711.7h0M259.6 694.3h0M331.2 686.6h0M316.9 691.9h0M305.6 756.2h0M270.5 711.0h0M281.4 694.8h0M284.8 720.1h0M302.3 690.4h0M262.8 707.4h0M258.9 710.1h0M306.8 710.3h0M268.6 741.6h0M289.7 725.5h0M366.7 689.5h0M287.8 713.4h0M257.7 730.4h0M259.2 719.3h0M271.2 699.1h0M301.4 724.3h0M291.7 727.5h0M252.3 737.1h0M284.1 710.7h0M301.0 710.1h0M312.9 690.3h0M266.4 741.9h0M330.8 681.3h0M305.6 718.6h0M376.5 728.6h0M326.6 688.1h0M293.5 709.0h0M352.5 707.3h0M357.5 691.5h0M269.8 711.5h0M271.2 732.0h0M246.9 721.9h0M348.8 731.1h0M235.1 720.8h0M271.9 693.5h0M327.0 717.3h0M354.0 691.0h0M297.3 719.1h0M292.7 748.2h0M298.8 681.3h0M262.5 759.4h0M319.9 703.1h0M278.7 752.0h0M357.7 722.8h0M341.4 723.2h0M317.2 666.6h0M247.6 720.8h0M334.0 700.0h0M281.8 715.3h0M290.7 681.7h0M349.1 720.4h0M291.7 700.9h0M272.1 717.5h0M278.7 706.6h0M297.9 728.1h0M305.6 722.0h0M349.4 721.9h0M300.1 685.2h0M305.6 663.5h0M248.2 753.5h0M331.3 675.0h0M349.7 678.6h0M252.7 750.2h0M301.0 700.1h0M306.2 712.8h0M362.5 719.2h0M242.8 723.9h0M255.3 713.9h0M257.4 699.1h0M300.4 700.4h0M298.2 706.3h0M268.6 701.5h0M339.3 696.9h0M361.7 677.2h0M359.0 688.8h0M296.6 716.5h0M286.5 717.9h0M323.2 734.4h0M282.7 706.7h0M311.7 687.5h0M305.5 683.9h0M256.8 720.4h0M392.7 663.0h0M303.0 719.0h0M316.1 708.4h0M350.8 712.5h0M300.9 715.5h0M363.1 736.9h0M309.0 688.9h0M240.6 721.4h0M229.1 721.3h0M284.7 748.0h0M256.6 724.2h0M331.4 704.8h0M340.8 726.4h0M294.0 709.5h0M354.7 682.0h0M287.4 705.6h0M327.7 683.5h0M289.0 749.9h0M351.6 690.3h0M333.0 687.1h0M295.7 717.5h0M297.0 712.6h0M245.8 717.8h0M247.5 721.0h0M322.2 725.6h0M252.2 710.9h0M262.8 738.8h0M376.4 695.6h0M301.2 698.9h0M353.8 688.2h0M296.5 742.3h0M315.9 695.7h0M249.0 720.2h0M359.8 675.9h0M360.4 689.8h0M351.8 695.3h0M297.7 697.7h0M280.5 732.0h0M309.1 686.4h0M315.5 673.4h0M311.4 696.2h0M321.9 670.6h0M323.1 732.0h0M246.7 717.9h0M281.2 737.5h0M258.3 719.0h0M294.1 725.9h0M245.4 744.7h0M301.1 712.1h0M417.7 707.0h0M313.4 715.7h0M253.7 741.3h0M302.0 726.9h0M292.0 718.9h0M320.9 711.7h0M345.5 705.3h0M301.4 701.2h0M281.1 749.2h0M348.4 695.8h0M273.7 691.9h0M298.5 710.4h0M265.5 762.1h0M318.2 744.5h0M322.4 707.9h0M276.9 693.6h0M318.1 691.4h0M339.6 720.0h0M289.0 704.1h0M368.7 696.6h0M318.1 717.5h0M291.9 724.6h0M295.8 724.7h0M300.9 704.7h0M263.1 759.2h0M405.0 688.8h0M241.5 713.6h0M298.6 683.8h0M300.6 681.9h0M325.0 656.3h0M321.2 700.5h0M299.3 707.1h0M289.2 705.6h0M329.8 688.0h0M324.3 714.1h0M304.3 752.1h0M328.6 745.1h0M372.6 689.8h0M376.8 716.6h0M261.4 703.6h0M296.6 707.1h0M327.7 704.3h0M248.2 780.7h0M359.6 705.4h0M290.5 714.6h0M299.9 694.2h0M288.0 718.0h0M283.0 696.6h0M274.4 686.7h0M271.5 714.2h0M263.0 755.1h0M325.4 695.1h0M269.6 693.5h0M283.3 723.4h0M318.2 740.9h0M368.3 701.9h0M291.4 704.8h0M261.6 728.1h0M276.7 704.0h0M351.9 678.3h0M283.1 744.7h0M339.6 718.1h0M306.7 724.8h0M272.7 694.8h0M317.2 662.1h0M296.6 722.1h0M306.2 712.2h0M334.2 708.1h0M352.9 699.4h0M260.8 710.9h0M357.4 725.5h0M287.9 743.2h0M399.6 701.6h0M324.3 733.5h0M287.4 729.9h0M293.4 730.2h0M337.4 733.9h0M285.4 711.7h0M287.9 705.6h0M314.7 703.7h0M301.4 741.9h0M351.1 740.3h0M362.2 693.5h0M303.1 688.7h0M222.1 764.0h0M317.3 700.0h0M315.8 732.7h0M264.3 724.4h0M336.2 727.5h0M286.9 696.4h0M318.4 731.7h0M315.4 667.4h0M312.7 734.7h0M267.7 732.9h0M299.8 708.2h0M348.8 699.7h0M318.6 714.6h0M322.0 700.1h0M324.9 718.2h0M384.5 706.4h0M284.2 702.6h0M331.7 710.3h0M341.1 723.6h0M358.5 723.0h0M348.6 687.3h0M287.2 750.8h0M324.0 705.3h0M269.9 708.4h0M356.6 668.9h0M238.7 737.1h0M299.0 693.0h0M295.5 702.7h0M296.4 696.6h0M289.1 727.2h0M333.5 669.0h0M319.4 701.1h0M241.4 775.0h0M245.9 726.1h0M250.5 705.7h0M286.3 717.2h0M295.2 751.8h0M238.8 739.5h0M314.1 704.2h0M317.3 673.7h0M337.1 714.6h0M265.5 719.0h0M343.0 647.6h0M258.8 699.6h0M254.3 765.4h0M252.5 719.9h0M320.8 682.2h0M364.1 706.2h0M281.8 711.6h0M296.1 702.2h0M293.5 715.3h0M362.8 732.1h0M302.9 722.4h0M341.3 692.8h0M306.8 700.7h0M251.2 744.3h0M375.9 691.1h0M316.2 726.3h0M342.9 671.2h0M317.1 714.7h0M306.5 679.2h0M401.7 688.7h0M242.3 733.7h0M305.9 706.7h0M400.8 676.4h0M289.1 721.9h0M238.7 714.7h0M339.1 720.2h0M322.2 688.6h0M279.1 725.9h0M347.6 692.3h0M293.9 682.8h0M284.4 722.8h0M243.8 767.1h0M284.5 727.6h0M311.0 725.3h0M276.2 715.9h0M319.4 734.5h0M348.1 700.0h0M217.3 717.4h0M317.2 727.7h0M348.5 709.3h0M299.8 712.6h0M251.4 705.1h0M365.0 658.3h0M315.4 720.5h0M288.0 718.7h0M308.0 673.2h0M253.2 720.5h0M383.8 697.0h0M327.3 681.6h0M300.2 704.7h0M285.4 743.6h0M321.5 755.6h0M242.1 794.3h0M306.2 703.5h0M304.6 689.6h0M321.7 737.4h0M333.4 664.7h0M314.1 721.1h0M343.2 717.4h0M377.9 705.4h0M353.0 701.0h0M358.2 710.8h0M411.9 694.1h0M291.4 682.6h0M284.8 730.5h0M364.7 679.4h0M337.7 687.9h0M340.6 692.5h0M257.2 743.3h0M358.8 720.9h0M266.3 717.6h0M300.7 737.4h0M353.8 665.2h0M322.6 721.6h0M306.0 685.6h0M259.2 701.4h0M374.5 698.9h0M313.5 674.9h0M314.7 682.7h0M266.0 726.0h0M315.1 718.4h0M384.9 698.6h0M358.4 699.4h0M330.2 704.7h0M341.0 700.9h0M249.7 744.3h0M364.7 691.7h0M278.0 720.5h0M280.6 750.1h0M339.5 721.0h0M315.5 708.3h0M247.3 760.9h0M261.9 724.4h0M347.2 728.2h0M279.4 768.4h0M335.8 758.6h0M359.2 705.6h0M358.7 741.5h0M266.4 721.5h0M290.0 724.8h0M303.6 704.6h0M310.7 670.6h0M259.8 736.2h0M325.4 688.8h0M368.1 637.0h0M327.6 736.6h0M405.6 692.6h0M342.4 701.7h0M295.1 694.2h0M313.1 692.7h0M243.0 695.1h0M278.1 716.8h0M353.9 703.3h0M315.6 725.7h0M276.7 713.0h0M322.7 690.9h0M271.0 732.3h0M249.9 743.1h0M313.7 696.1h0M346.2 726.3h0M306.2 715.3h0M362.9 730.2h0M315.4 716.3h0M332.1 667.8h0M290.9 706.5h0M316.4 707.2h0M246.4 695.5h0M269.8 690.9h0M374.8 691.9h0M342.7 705.7h0M253.3 753.5h0M252.6 714.6h0M312.3 723.4h0M241.4 733.5h0M279.3 715.7h0M341.0 698.4h0M284.0 742.3h0M314.8 739.3h0M239.3 728.6h0M247.1 727.0h0M328.2 690.2h0M339.3 720.6h0M226.0 775.8h0M254.6 705.0h0M254.5 727.1h0M338.7 698.9h0M337.3 702.7h0M254.8 728.7h0M268.6 716.8h0M354.1 701.5h0M323.3 684.5h0M325.0 666.3h0M342.7 735.9h0M335.8 700.3h0M302.6 686.9h0M265.0 726.2h0M257.8 724.1h0M326.8 679.7h0M352.8 728.8h0M358.5 701.4h0M298.2 707.5h0M262.0 732.9h0M300.8 734.8h0M271.9 721.4h0M244.6 716.4h0M303.6 720.7h0M307.6 747.2h0M335.1 703.0h0M238.1 727.9h0M336.5 737.4h0M280.7 692.8h0M287.9 720.2h0M302.4 723.1h0M316.0 710.7h0M268.2 735.4h0M348.6 697.9h0M369.9 707.3h0M256.9 731.9h0M311.3 717.2h0M263.9 722.3h0M308.9 716.9h0M297.4 691.6h0M304.4 722.6h0M323.0 658.5h0M298.8 721.5h0M311.7 698.4h0M267.1 716.9h0M260.2 706.9h0M237.9 747.0h0M290.6 727.0h0M388.2 712.2h0M370.5 670.7h0M385.3 671.1h0M243.4 713.9h0M318.2 719.3h0M353.6 690.1h0M343.2 684.7h0M319.3 704.5h0M260.8 719.0h0M319.2 698.5h0M335.4 698.8h0M341.4 724.1h0M271.2 740.0h0M407.7 709.5h0M335.2 756.0h0M304.0 723.6h0M246.5 727.0h0M305.6 728.0h0M251.3 749.6h0M332.5 700.0h0M271.8 722.2h0M309.3 703.5h0M313.4 738.9h0M298.3 700.8h0M350.0 695.8h0M261.2 719.3h0M271.8 749.7h0M240.8 717.5h0M285.7 676.2h0M262.7 756.0h0M291.2 723.0h0M264.2 728.8h0M323.3 743.3h0M287.1 696.3h0M295.1 721.7h0M331.4 695.0h0M284.4 776.9h0M267.3 670.6h0M283.0 710.6h0M285.9 724.3h0M333.0 669.9h0M344.7 701.8h0M345.6 659.0h0M320.0 726.6h0M349.4 708.1h0M283.1 678.1h0M356.9 698.5h0M280.8 755.0h0M285.5 741.0h0M340.4 702.3h0M240.4 725.0h0M294.2 690.6h0M326.8 691.6h0M366.6 705.8h0M332.1 705.4h0M293.3 718.5h0M322.5 697.2h0M311.9 701.3h0M274.6 710.7h0M313.2 666.9h0M309.1 719.8h0M282.3 717.2h0M239.6 734.7h0M363.4 685.5h0M373.0 694.3h0M362.8 701.8h0M301.3 698.1h0M369.9 707.0h0M270.7 757.8h0M258.1 730.2h0M324.7 751.6h0M269.3 708.9h0M304.2 695.5h0M298.1 715.3h0M290.7 727.7h0M258.4 724.8h0M349.0 679.1h0M306.3 729.5h0M277.0 698.4h0M300.7 695.5h0M289.5 722.7h0M349.4 700.5h0M337.4 662.6h0M272.7 688.3h0M264.3 713.9h0M260.0 741.7h0M296.2 716.9h0M220.8 752.4h0M349.1 737.5h0M353.1 696.1h0M277.9 720.0h0M231.7 744.0h0M302.9 728.3h0M285.7 714.2h0M288.5 742.2h0M330.3 720.1h0M348.6 698.1h0M280.1 749.1h0M317.9 715.4h0M242.2 714.0h0M388.6 668.3h0M288.5 740.8h0M318.8 752.5h0M255.7 711.0h0M286.8 725.4h0M279.1 690.6h0M326.7 717.4h0M347.3 700.4h0M260.9 745.0h0M233.8 732.8h0M292.8 698.6h0M391.1 676.6h0M260.0 716.2h0M367.4 721.1h0M306.3 681.3h0M258.5 703.1h0M289.6 755.7h0M355.4 689.4h0M290.9 713.3h0M297.2 726.7h0M306.3 748.9h0M264.0 738.7h0M342.0 690.3h0M261.2 714.5h0M330.1 712.4h0M326.9 741.2h0M295.7 711.2h0M348.1 693.4h0M297.8 725.1h0M295.0 754.1h0M253.5 711.1h0M256.8 738.6h0M315.4 707.9h0M267.0 720.8h0M315.0 681.3h0M332.3 680.8h0M286.5 680.9h0M305.4 708.8h0M273.3 709.5h0M341.8 675.7h0M349.2 702.5h0M324.9 713.8h0M381.5 658.0h0M279.0 726.5h0M293.8 717.1h0M292.1 700.5h0M280.1 701.2h0M330.3 688.1h0M252.1 738.8h0M228.4 725.2h0M287.0 718.9h0M320.3 716.1h0M296.0 732.9h0M224.0 710.2h0M337.6 693.7h0M294.4 739.1h0M318.6 732.2h0M356.7 692.9h0M341.0 708.5h0M256.7 706.5h0M281.7 712.1h0M372.1 709.0h0M313.2 728.5h0M297.9 684.4h0M274.9 716.9h0M301.2 720.3h0M363.6 720.6h0M340.0 730.5h0M302.9 717.9h0M233.3 714.2h0M271.0 713.7h0M350.1 672.3h0M274.4 738.8h0M276.3 746.4h0M291.1 704.0h0M269.5 709.1h0M270.6 698.5h0M311.2 685.5h0M273.1 753.4h0M365.9 680.2h0M304.4 716.8h0M373.0 703.3h0M260.5 719.6h0M316.7 694.0h0M310.8 708.6h0M338.7 702.3h0M277.1 697.5h0M268.8 726.6h0M275.0 732.9h0M282.8 739.4h0M273.5 704.4h0M249.3 720.3h0M295.0 737.1h0M338.0 644.6h0M334.6 706.3h0M323.5 698.9h0M280.8 698.9h0M357.7 707.0h0M335.7 670.5h0M371.1 683.0h0M283.9 707.5h0M303.4 739.7h0M270.2 750.4h0M305.6 715.2h0M321.4 733.9h0M269.2 698.2h0M315.5 706.7h0M238.7 732.6h0M306.9 717.7h0M262.9 714.8h0M237.2 732.4h0M367.3 667.4h0M253.7 747.0h0M355.2 690.4h0M335.2 702.3h0M320.1 726.3h0M268.4 694.4h0M318.7 692.0h0M313.7 732.2h0M227.5 736.2h0M243.1 723.6h0M294.5 730.5h0M281.3 734.5h0M259.0 722.2h0M249.1 705.1h0M365.1 676.1h0M274.9 738.4h0M343.1 715.0h0M276.3 682.5h0M339.2 717.1h0M377.7 679.4h0M314.5 691.3h0M378.1 689.1h0M364.2 693.4h0M290.5 682.6h0M294.3 695.1h0M276.2 729.0h0M308.4 699.9h0M348.7 695.5h0M306.7 702.5h0M324.9 694.9h0M284.0 720.5h0M372.5 712.8h0M285.6 717.6h0M249.5 717.7h0M248.1 712.1h0M277.7 690.4h0M337.5 713.1h0M346.9 710.5h0M322.3 716.6h0M283.6 725.1h0M265.8 692.1h0M331.7 702.0h0M255.3 714.6h0M303.6 727.6h0M318.3 709.4h0M287.4 723.0h0M311.8 690.6h0M284.0 700.1h0M287.5 743.4h0M331.3 690.6h0M250.2 739.3h0M311.1 710.3h0M300.2 741.6h0M293.5 692.8h0M290.4 743.2h0M339.7 700.5h0M333.6 700.4h0M321.7 734.2h0M311.4 723.1h0M323.4 693.4h0M282.8 699.6h0M351.2 716.8h0M347.7 676.1h0M359.4 677.0h0M323.6 757.2h0M290.8 723.3h0M245.4 723.3h0M320.4 726.6h0M374.4 718.0h0M253.8 753.5h0M243.9 737.6h0M269.9 718.8h0M289.7 740.3h0M341.9 728.9h0M270.2 757.0h0M362.9 724.5h0M304.9 703.9h0M270.2 753.3h0M355.2 730.6h0M336.6 720.5h0M289.1 680.0h0M272.6 690.2h0M367.6 657.0h0M352.0 665.3h0M251.9 746.6h0M240.1 715.4h0M306.1 714.3h0M299.2 701.0h0M310.2 723.4h0M298.4 720.1h0M271.0 738.9h0M291.8 697.9h0M327.2 662.3h0M310.2 730.3h0M346.8 732.5h0M285.0 746.9h0M250.3 716.8h0M283.3 729.4h0M295.6 712.5h0M386.1 691.3h0M396.8 712.4h0M315.2 699.5h0M362.4 710.3h0M303.6 687.5h0M293.7 691.3h0M317.8 699.7h0M279.2 694.5h0M303.2 706.2h0M324.6 725.8h0M314.9 709.7h0M324.2 687.9h0M343.4 708.9h0M323.9 690.6h0M309.0 739.9h0M296.7 716.9h0M339.6 655.8h0M236.6 735.6h0M291.2 735.6h0M388.7 677.2h0M259.9 709.2h0M302.8 716.6h0M310.6 685.5h0M251.3 722.2h0M337.3 720.4h0M320.6 715.8h0M315.6 714.7h0M336.2 674.0h0M358.2 665.8h0M250.3 752.1h0M220.9 742.3h0M309.1 744.1h0M240.6 716.5h0M223.0 729.4h0M280.4 696.7h0M287.7 711.6h0M336.7 692.3h0M337.1 715.4h0M309.1 685.1h0M359.9 725.3h0M307.8 723.2h0M245.2 707.3h0M314.3 697.2h0M321.3 735.2h0M350.6 709.5h0M340.6 681.5h0M265.6 747.9h0M250.7 719.9h0M283.0 690.8h0M260.3 730.7h0M323.5 711.0h0M350.0 726.5h0M317.3 702.0h0M305.4 699.9h0M330.3 714.4h0M314.8 722.1h0M264.5 705.3h0M228.9 739.0h0M267.7 738.2h0M325.8 680.7h0M312.2 702.5h0M290.7 727.8h0M277.0 729.4h0M259.5 754.0h0M323.7 690.8h0M230.9 747.5h0M287.0 722.9h0M242.3 733.4h0M305.1 714.0h0M331.3 734.2h0M341.3 699.3h0M261.0 719.7h0M268.9 700.1h0M344.9 677.0h0M344.5 680.5h0M313.9 677.2h0M256.2 729.6h0M281.5 752.7h0M306.7 723.5h0M363.0 693.9h0M252.5 726.9h0M332.0 686.7h0M252.2 725.8h0M284.2 682.4h0M291.3 685.0h0M267.5 704.6h0M378.9 692.2h0M376.4 674.4h0M334.8 701.2h0M302.7 737.5h0M278.6 692.9h0M232.3 739.0h0M260.2 737.8h0M356.7 695.6h0M304.2 692.4h0M291.6 677.1h0M286.7 724.2h0M287.4 733.8h0M240.8 757.3h0M336.4 719.4h0M225.5 754.3h0M284.2 743.1h0M367.1 700.1h0M295.9 697.1h0M296.9 719.0h0M327.1 750.7h0M312.7 729.2h0M243.8 730.8h0M294.0 699.2h0M300.7 699.1h0M269.9 732.5h0M305.9 700.0h0M285.0 691.5h0M259.4 698.3h0M326.5 710.5h0M297.4 727.6h0M325.2 738.8h0M311.4 682.0h0M312.1 709.7h0M269.5 741.2h0M303.8 689.3h0M309.2 724.2h0M289.9 686.4h0M292.6 705.3h0M325.5 692.6h0M316.0 720.1h0M303.0 733.0h0M337.7 687.6h0M346.2 693.0h0M293.1 691.5h0M342.1 645.2h0M308.3 690.4h0M254.0 699.5h0M362.3 692.3h0M259.3 708.0h0M303.0 726.3h0M280.3 700.3h0M311.1 745.6h0M389.6 714.3h0M282.4 731.8h0M331.9 730.9h0M316.6 713.0h0M339.1 724.8h0M293.9 706.9h0M265.2 722.0h0M310.0 675.1h0M246.1 721.0h0M335.2 706.4h0M268.6 743.7h0M282.9 714.1h0M264.8 726.8h0M308.5 675.1h0M326.9 726.2h0M357.3 694.9h0M316.1 728.9h0M327.1 691.4h0M362.0 706.5h0M343.3 701.2h0M271.3 752.0h0M349.6 714.4h0M267.6 701.9h0M358.5 708.1h0M257.3 706.0h0M252.4 729.5h0M352.2 684.4h0M321.1 739.6h0M279.6 744.0h0M266.4 754.9h0M330.3 720.7h0M348.6 685.8h0M376.9 726.3h0M305.3 739.7h0M345.7 649.9h0M311.7 676.2h0M250.4 738.3h0M363.9 682.7h0M308.5 757.1h0M379.7 722.6h0M297.7 745.1h0M398.5 702.4h0M360.1 723.1h0M345.7 680.5h0M273.7 704.6h0M243.4 710.2h0M281.2 727.4h0M305.7 729.2h0M302.1 708.8h0M350.9 703.2h0M303.6 713.5h0M280.1 724.4h0M329.1 680.7h0M324.8 711.5h0M289.6 725.2h0M283.7 737.2h0M289.6 714.6h0M346.3 697.3h0M304.0 693.8h0M244.8 755.6h0M362.0 727.4h0M337.0 727.7h0M280.2 746.4h0M275.3 734.4h0M323.8 688.2h0M343.9 715.5h0M355.9 663.7h0M319.1 697.5h0M386.0 685.2h0M274.5 715.5h0M329.6 703.1h0M404.5 733.8h0M331.5 738.3h0M377.6 729.1h0M326.1 657.5h0M248.8 728.6h0M292.1 729.9h0M247.8 707.6h0M266.2 710.5h0M290.0 714.0h0M420.3 709.9h0M303.2 687.9h0M310.7 739.8h0M324.1 688.1h0M258.7 738.0h0M271.2 745.8h0M255.5 767.5h0M311.5 700.7h0M327.7 715.0h0M363.5 689.6h0M303.8 728.4h0M338.9 720.1h0M272.3 718.8h0M324.6 667.1h0M374.7 707.3h0M262.2 708.6h0M299.1 715.5h0M305.2 710.8h0M329.2 684.4h0M333.8 735.5h0M291.5 716.6h0M352.6 683.3h0M311.0 716.6h0M232.3 724.5h0M240.9 776.8h0M291.2 728.4h0M362.4 717.2h0M293.4 730.2h0M325.9 728.0h0M339.0 736.8h0M254.8 762.9h0M247.4 710.5h0M371.1 664.5h0M332.4 695.5h0M370.5 683.3h0M260.0 716.6h0M320.5 735.0h0M307.1 692.7h0M354.4 710.3h0M312.3 706.5h0M321.9 702.7h0M305.8 743.3h0M253.9 737.1h0M230.2 742.5h0M323.5 691.5h0M328.0 717.0h0M325.7 704.4h0M287.3 733.4h0M295.5 706.5h0M262.9 701.9h0M320.0 721.8h0M279.6 735.5h0M304.1 687.6h0M338.8 743.3h0M320.3 683.7h0M383.7 701.9h0M300.8 742.2h0M274.6 753.1h0M310.5 714.7h0M275.5 715.8h0M293.9 735.4h0M310.2 709.3h0M366.6 699.8h0M300.4 716.0h0M246.8 705.1h0M326.5 723.7h0M437.4 656.7h0M264.3 692.7h0M267.5 719.7h0M282.0 712.4h0M345.1 697.7h0M363.1 708.3h0M288.4 713.3h0M296.1 736.7h0M422.2 686.3h0M235.5 765.6h0M302.1 713.5h0M277.0 733.4h0M280.0 709.6h0M285.0 716.7h0M315.6 701.4h0M327.3 724.7h0M336.1 703.4h0M340.7 714.3h0M267.5 691.8h0M298.3 753.0h0M370.8 675.0h0M278.6 690.8h0M360.9 705.9h0M362.7 708.2h0M278.6 745.3h0M334.3 739.1h0M329.5 701.2h0M259.0 701.6h0M260.1 694.8h0M300.2 694.7h0M375.1 726.8h0M247.6 760.9h0M324.1 699.2h0M331.0 648.1h0M323.9 729.9h0M262.3 711.9h0M329.6 672.2h0M354.5 716.8h0M298.4 726.6h0M314.7 723.3h0M225.3 753.1h0M307.7 712.7h0M385.8 699.3h0M289.6 704.3h0M303.8 702.3h0M374.0 670.5h0M359.0 646.3h0M371.4 703.0h0M308.4 704.2h0M266.9 731.0h0M377.7 661.3h0M406.3 648.5h0M327.0 727.1h0M315.5 698.0h0M297.4 728.0h0M285.7 690.3h0M229.2 729.9h0M391.8 705.4h0M293.7 740.1h0M249.4 747.2h0M333.2 718.1h0M355.7 650.3h0M329.1 703.4h0M421.3 695.0h0M325.2 692.4h0M292.8 703.2h0M366.2 683.0h0M314.3 712.4h0M304.3 672.9h0M342.5 703.2h0M303.0 712.4h0M236.6 730.5h0M231.0 730.8h0M354.3 715.3h0M276.2 737.1h0M407.5 709.3h0M246.7 705.2h0M297.3 702.6h0M245.3 747.2h0M305.6 662.7h0M301.6 709.8h0M264.5 703.7h0M373.4 721.5h0M322.3 729.4h0M280.3 749.4h0M228.2 737.8h0M303.2 702.4h0M284.4 680.3h0M360.9 664.8h0M235.5 730.4h0M269.4 712.3h0M238.9 718.9h0M301.7 700.9h0M368.3 641.8h0M320.3 691.1h0M308.8 683.2h0M299.5 695.8h0M333.6 699.4h0M274.1 739.0h0M358.3 695.6h0M327.7 731.7h0M380.5 700.4h0M336.0 679.1h0M252.0 690.9h0M270.1 702.5h0M344.5 744.2h0M323.4 699.0h0M308.3 722.6h0M269.0 723.8h0M301.6 734.3h0M304.7 694.3h0M280.9 690.6h0M290.4 753.8h0M278.0 701.7h0M259.9 702.2h0M331.7 730.0h0M217.5 740.4h0M277.9 682.6h0M399.4 735.5h0M272.9 777.2h0M286.6 733.7h0M306.1 672.5h0M390.2 714.3h0M316.5 699.4h0M344.5 674.1h0M411.9 684.4h0M250.3 755.2h0M304.4 711.5h0M360.2 724.3h0M284.4 687.8h0M312.1 741.9h0M294.3 707.3h0M302.6 734.8h0M280.8 711.7h0M301.5 738.0h0M349.3 686.5h0M284.0 756.0h0M265.1 727.8h0M370.5 651.4h0M318.6 701.8h0M263.7 709.5h0M323.8 733.9h0M325.2 704.8h0M270.8 685.9h0M307.4 745.7h0M320.9 679.8h0M304.8 736.9h0M314.7 724.6h0M224.6 740.6h0M289.0 683.9h0M257.5 703.3h0M349.4 715.5h0M363.7 710.9h0M319.2 723.1h0M316.7 701.7h0M315.2 701.2h0M264.3 712.5h0M252.4 706.0h0M333.7 705.4h0M347.6 674.6h0M307.6 704.7h0M310.9 695.8h0M265.1 715.2h0M269.8 713.3h0M373.5 679.7h0M338.0 702.2h0M286.6 697.3h0M336.0 702.0h0M351.4 697.8h0M302.4 693.6h0M401.3 681.8h0M307.3 691.3h0M259.6 701.0h0M311.2 724.9h0M232.8 734.0h0M271.9 699.6h0M310.3 702.0h0M258.3 745.4h0M341.9 735.0h0M276.7 714.3h0M279.9 702.4h0M275.4 696.5h0M400.2 698.2h0M366.3 722.4h0M339.5 756.7h0M364.7 738.8h0M277.6 711.3h0M317.1 716.5h0M395.3 707.8h0M267.1 720.1h0M343.0 687.0h0M354.1 704.4h0M280.6 699.9h0M288.7 713.5h0M271.0 723.1h0M319.1 732.1h0M331.3 714.6h0M350.9 677.9h0M255.6 731.4h0M323.7 752.7h0M275.3 739.2h0M255.9 729.1h0M345.6 696.5h0M356.6 714.9h0M331.8 717.7h0M232.2 721.6h0M267.9 744.0h0M324.1 737.0h0M279.8 689.0h0M312.2 705.5h0M334.4 728.7h0M278.3 713.4h0M292.4 726.6h0M277.1 686.3h0M271.6 694.0h0M292.0 746.4h0M299.2 680.6h0M346.1 738.9h0M273.1 703.1h0M351.4 717.0h0M292.7 697.2h0M257.3 716.6h0M357.1 694.7h0M267.7 728.0h0M295.5 728.2h0M281.8 692.2h0M268.2 701.7h0M262.4 710.8h0M252.3 717.0h0M297.1 693.0h0M316.8 730.6h0M304.2 701.5h0M317.1 668.2h0M258.3 735.0h0M337.7 682.1h0M246.1 721.8h0M288.4 690.1h0M403.4 691.2h0M283.1 690.8h0M275.1 689.7h0M284.1 738.9h0M306.9 710.3h0M260.0 703.9h0M311.0 712.4h0M293.7 718.6h0M333.1 700.8h0M346.5 698.7h0M314.3 713.9h0M326.8 714.0h0M340.7 727.3h0M276.2 710.7h0M326.2 706.9h0M348.8 734.8h0M347.7 690.4h0M281.0 684.4h0M249.8 727.2h0M230.6 733.3h0M325.1 707.8h0M275.7 687.4h0M263.2 720.9h0M324.9 727.2h0M305.1 718.0h0M332.8 703.6h0M335.6 668.5h0M335.7 745.3h0M285.0 702.3h0M341.9 671.5h0M349.4 712.1h0M236.7 728.7h0M271.7 697.0h0M297.0 715.4h0M318.8 657.1h0M249.2 701.0h0M244.2 726.3h0M276.7 723.6h0M302.1 750.0h0M266.5 727.5h0M401.0 669.4h0M290.8 684.8h0M300.5 682.3h0M285.1 689.2h0M300.0 728.8h0M320.5 688.0h0M317.8 724.0h0M271.2 705.8h0M286.0 738.8h0M331.5 742.4h0M352.6 703.3h0M295.0 734.3h0M348.4 682.4h0M318.3 698.7h0M254.5 736.7h0M277.9 740.3h0M347.7 694.6h0M362.4 667.2h0M294.7 747.6h0M347.1 716.9h0M268.3 691.0h0M329.6 724.5h0M267.5 754.1h0M293.8 716.1h0M302.4 698.0h0M240.4 748.8h0M284.4 717.9h0M291.1 716.7h0M347.5 718.6h0M267.8 727.4h0M257.3 742.8h0M293.3 695.6h0M289.3 720.7h0M286.2 726.6h0M326.5 748.8h0M243.0 718.4h0M317.9 722.0h0M253.5 723.5h0M272.8 697.5h0M354.8 710.5h0M248.2 741.2h0M302.8 680.5h0M228.9 726.9h0M270.0 703.1h0M307.8 706.3h0M230.9 761.2h0M328.6 678.5h0M339.2 695.4h0M283.4 736.0h0M281.4 722.7h0M345.2 666.0h0M268.2 729.6h0M364.2 685.3h0" stroke="#5a8cd0" stroke-width="2.85" stroke-linecap="round" fill="none"/>
<path d="M275.8 686.9h0M241.8 704.2h0M292.4 688.8h0M238.2 721.1h0M255.3 711.4h0M206.0 732.5h0M244.6 702.3h0M205.2 746.0h0M258.6 696.6h0M236.4 728.3h0M244.3 716.9h0M259.5 681.9h0M242.8 724.9h0M292.0 670.2h0M251.9 704.9h0M244.0 710.9h0M246.0 726.6h0M224.8 726.8h0M243.5 710.1h0M249.7 727.4h0M219.3 737.0h0M243.2 714.5h0M283.5 687.3h0M235.1 735.0h0M280.0 684.8h0M237.9 723.3h0M242.3 716.9h0M266.8 704.0h0M230.9 727.0h0M253.2 701.6h0M261.8 693.0h0M252.9 704.8h0M260.2 694.9h0M247.7 726.4h0M230.3 729.2h0M200.9 727.5h0M264.1 691.1h0M272.8 709.0h0M268.1 716.2h0M243.8 710.7h0M251.5 699.4h0M255.8 710.9h0M225.5 734.3h0M243.0 716.3h0M205.6 752.1h0M229.5 730.5h0M223.9 720.3h0M225.1 741.2h0M225.7 736.3h0M206.7 726.7h0M208.7 720.8h0M279.9 700.9h0M249.2 711.2h0M258.1 733.3h0M253.6 709.0h0M250.4 697.8h0M188.7 752.2h0M253.1 693.2h0M256.5 711.2h0M255.5 711.8h0M256.8 704.6h0M236.2 716.2h0M205.5 752.8h0M260.2 686.6h0M208.7 761.7h0M245.3 717.2h0M219.8 705.0h0M231.0 732.5h0M234.0 716.2h0M274.3 686.7h0M212.9 739.9h0M280.0 704.5h0M239.0 703.0h0M245.9 712.9h0M220.9 727.0h0M251.5 704.1h0M262.4 696.4h0M268.3 692.8h0M260.0 703.8h0M278.1 673.7h0M255.3 714.3h0M244.4 743.1h0M232.4 718.5h0M221.5 726.5h0M254.8 684.6h0M240.8 731.0h0M260.0 688.1h0M242.6 719.9h0M225.2 727.0h0M242.5 706.5h0M243.1 690.8h0M244.0 706.5h0M263.3 687.6h0M226.6 741.8h0M212.3 730.7h0M253.5 701.1h0M257.9 687.7h0M224.0 698.7h0M298.6 663.8h0M237.0 714.0h0M210.3 735.8h0M223.1 727.8h0M233.9 696.8h0M222.2 724.1h0M232.1 703.2h0M264.0 713.5h0M219.5 726.4h0M227.4 718.8h0M242.7 724.2h0M234.4 713.4h0M239.3 713.5h0M249.0 709.2h0M270.2 706.1h0M251.2 712.0h0M249.7 698.4h0M254.8 696.5h0M257.5 696.0h0M235.9 709.5h0M262.1 689.1h0M247.1 706.3h0M197.8 747.3h0M262.7 685.2h0M244.0 723.7h0M251.4 695.7h0M257.4 709.4h0M217.4 740.7h0M217.4 720.2h0M247.5 685.9h0M276.6 677.1h0M225.9 717.7h0M250.5 722.0h0M213.1 742.0h0M268.1 698.4h0M210.5 735.1h0M253.7 717.7h0M282.2 692.0h0M263.6 690.2h0M224.6 727.1h0M240.9 717.9h0M256.9 701.8h0M202.7 754.2h0M235.3 715.6h0M238.0 705.2h0M238.7 721.3h0M276.4 680.4h0M237.5 716.5h0M231.6 719.9h0M219.4 710.7h0M267.3 719.2h0M219.4 730.2h0M226.2 747.8h0M255.5 716.4h0M255.2 698.8h0M273.5 700.1h0M280.1 699.0h0M273.0 679.3h0M249.8 719.4h0M275.6 680.3h0M225.9 734.3h0M255.9 701.8h0M247.3 715.0h0M261.1 705.6h0M207.4 732.8h0M227.0 742.7h0M221.1 732.7h0M255.5 726.5h0M231.5 712.9h0M250.8 698.0h0M283.8 692.1h0M227.5 712.0h0M276.2 684.6h0M234.0 731.3h0M254.6 700.0h0M217.7 736.2h0M219.7 722.7h0M238.0 702.3h0M270.8 688.4h0M267.4 683.0h0M274.2 694.4h0M255.4 682.9h0M256.2 706.8h0M247.3 683.9h0M233.5 725.4h0M261.9 702.0h0M207.8 754.3h0M242.5 718.9h0M274.3 695.4h0M211.8 742.7h0M215.1 719.2h0M225.1 708.3h0M254.7 681.1h0M240.0 704.6h0M226.0 711.4h0M239.5 706.8h0M226.6 737.5h0M240.6 699.1h0M241.3 695.7h0M235.2 721.0h0M234.7 720.4h0M227.3 725.5h0M224.7 736.1h0M275.9 678.1h0M235.9 723.3h0M208.1 730.5h0M227.7 701.7h0M204.3 726.4h0M230.8 698.3h0M264.7 684.9h0M223.7 714.3h0M264.9 694.1h0M282.3 679.2h0M193.0 728.6h0M229.6 712.9h0M228.9 721.6h0M236.2 722.6h0M201.6 737.6h0M223.2 748.4h0M255.2 708.1h0M258.5 688.1h0M234.6 720.3h0M258.8 703.2h0M248.5 714.3h0M252.8 709.2h0M232.1 711.5h0M210.5 753.6h0M237.4 730.9h0M259.7 708.4h0M202.4 766.3h0M270.7 692.7h0M255.6 697.7h0M245.0 722.5h0M257.9 705.3h0M223.6 748.8h0M268.8 696.4h0M231.4 741.7h0M261.1 700.6h0M262.8 698.6h0M221.8 721.7h0M205.9 740.2h0M256.9 690.3h0M238.5 717.1h0M245.0 713.3h0M229.4 716.9h0M229.4 724.7h0M266.8 692.8h0M229.1 715.0h0M237.4 709.2h0M221.6 736.5h0M209.1 724.9h0M271.3 679.1h0M248.2 706.6h0M235.3 711.8h0M236.3 728.4h0M262.2 688.9h0M251.9 706.9h0M232.0 719.6h0M244.9 723.8h0M230.4 733.2h0M264.6 711.6h0M213.9 743.3h0M243.7 722.2h0M278.4 679.1h0M247.7 723.0h0M238.1 715.4h0M226.1 726.2h0M247.3 715.2h0M238.6 728.9h0M253.6 712.0h0M266.4 673.6h0M276.4 693.6h0M249.3 711.1h0M249.9 716.7h0M217.8 731.7h0M222.4 714.6h0M255.6 700.1h0M236.6 719.3h0M261.0 699.0h0M240.1 694.8h0M243.0 715.6h0M235.0 704.9h0M229.1 728.0h0M263.8 685.2h0M270.7 701.9h0M249.6 714.1h0M249.1 725.3h0M235.7 706.4h0M244.5 737.6h0M261.8 695.2h0M234.2 719.2h0M233.1 707.5h0M239.4 732.6h0M221.5 710.7h0M264.7 688.3h0M223.0 721.4h0M262.7 697.3h0M256.2 690.8h0M262.9 693.2h0M250.5 720.4h0M234.0 710.1h0M277.6 685.5h0M264.1 697.1h0M219.4 724.9h0M250.5 716.6h0M221.7 727.4h0M229.4 716.9h0M211.0 726.9h0M227.2 720.2h0M206.6 736.7h0M286.5 698.8h0M200.8 733.5h0M201.7 732.4h0M271.3 690.5h0M207.0 716.0h0M249.5 697.1h0M233.6 721.7h0M236.1 727.5h0M234.3 730.8h0M231.6 708.8h0M241.2 721.1h0M278.3 672.7h0M241.6 732.2h0M268.9 679.5h0M227.9 708.0h0M222.6 730.1h0M230.7 719.4h0M237.7 700.8h0M233.1 714.8h0M241.7 710.7h0M222.7 727.5h0M270.9 683.2h0M215.1 737.0h0M218.7 737.8h0M226.6 737.5h0M250.8 697.0h0M244.0 716.8h0M244.2 719.8h0M263.4 672.4h0M182.4 755.9h0M245.0 714.0h0M208.0 738.7h0M231.9 722.1h0M239.7 720.2h0M290.5 691.4h0M232.2 734.1h0M237.1 700.1h0M239.6 723.9h0M211.7 729.4h0M225.1 718.7h0M225.4 731.0h0M239.2 732.8h0M266.6 707.6h0M243.8 707.1h0M291.8 672.0h0M258.8 706.5h0M237.4 716.7h0M263.7 708.2h0M249.3 677.2h0M219.6 749.3h0M229.2 723.9h0M276.8 682.7h0M265.5 703.8h0M239.8 711.6h0M222.3 724.4h0M234.6 716.1h0M210.3 758.0h0M270.5 691.9h0M238.8 687.6h0M263.0 692.9h0M226.8 720.0h0M246.3 712.4h0M272.3 682.7h0M253.8 713.0h0M226.5 712.0h0M246.6 715.3h0M248.6 707.6h0M232.4 721.5h0M258.2 697.2h0M223.2 734.2h0M248.2 719.3h0M244.5 712.1h0M213.5 759.0h0M223.4 726.4h0M241.4 699.8h0M241.5 714.0h0M249.3 712.2h0M278.5 692.6h0M222.5 732.5h0M267.3 700.7h0M224.6 719.4h0M266.5 699.7h0M256.0 709.9h0M271.1 703.4h0M234.9 722.9h0M220.7 729.5h0M255.2 712.4h0M281.9 681.6h0M247.9 717.2h0M239.1 705.8h0M218.8 737.5h0M222.5 741.4h0M254.1 713.1h0M276.1 702.0h0M232.9 719.4h0M218.8 753.1h0M226.2 725.1h0M219.7 726.7h0M285.6 671.4h0M261.9 702.7h0M231.1 709.2h0M233.1 712.9h0M219.1 725.9h0M244.1 735.7h0M237.7 710.4h0M252.0 702.2h0M268.1 695.1h0M223.7 716.9h0M286.3 684.9h0M273.1 692.7h0M208.0 747.6h0M221.6 715.7h0M242.5 718.9h0M243.0 697.6h0M238.5 723.6h0M248.0 718.0h0M251.2 696.1h0M244.3 716.3h0M242.8 728.0h0M274.3 664.5h0M240.6 736.5h0M225.5 740.8h0M236.6 724.0h0M264.2 696.9h0M218.9 725.6h0M212.8 738.4h0M222.1 724.7h0M234.3 725.2h0M245.9 705.5h0M245.5 698.9h0M217.5 726.9h0M276.6 688.2h0M235.8 710.9h0M246.2 703.7h0M266.8 694.0h0M257.3 716.2h0M220.8 730.1h0M274.6 698.6h0M232.6 713.0h0M228.8 736.9h0M215.6 728.8h0M251.3 717.4h0M249.9 730.7h0M237.7 727.7h0M245.1 709.0h0M244.1 705.3h0M226.2 740.5h0M213.1 723.7h0M217.4 735.0h0M247.8 711.0h0M218.6 753.2h0M260.5 706.2h0M241.1 735.2h0M243.0 712.6h0M249.8 707.7h0M218.4 748.1h0M235.7 723.7h0M273.2 694.0h0M248.8 708.0h0M229.8 737.9h0M248.8 695.4h0M237.2 720.1h0M225.8 729.9h0M263.9 696.9h0M248.9 702.5h0M252.1 703.9h0M207.5 731.5h0M248.7 704.1h0M214.9 730.4h0M270.9 692.2h0M268.8 684.9h0M257.5 709.6h0M225.6 732.8h0M264.4 684.0h0M217.2 745.4h0M242.3 699.4h0M245.5 704.4h0M250.1 701.7h0M236.7 712.4h0M254.4 705.8h0M275.9 700.4h0M231.3 730.4h0M262.6 687.1h0M223.5 726.3h0M229.9 737.0h0M222.2 724.5h0M251.7 714.4h0M239.5 706.7h0M269.3 690.2h0M222.1 744.9h0M241.1 717.6h0M227.1 731.8h0M227.6 722.5h0M254.2 713.5h0M279.7 671.2h0M234.4 715.9h0M272.4 701.3h0M226.5 731.3h0M218.1 723.3h0M235.1 717.5h0M241.6 716.0h0M272.4 693.3h0M221.5 743.1h0M225.3 723.7h0M243.6 709.3h0M231.0 716.9h0M249.7 720.7h0M248.5 704.4h0M234.1 707.6h0M241.2 722.0h0M260.2 681.5h0M215.3 733.6h0M259.0 694.7h0M261.9 685.1h0M205.2 751.7h0M250.4 725.0h0M242.2 729.4h0M282.8 689.4h0M239.6 727.7h0M227.6 710.0h0M245.3 723.4h0M229.2 724.5h0M277.7 688.9h0M249.4 696.9h0M291.3 670.8h0M217.0 742.2h0M276.7 684.0h0M230.1 725.8h0M253.8 697.7h0M268.8 714.2h0M246.3 712.5h0M217.1 722.6h0M211.4 750.5h0M274.9 685.2h0M257.8 688.0h0M212.4 720.3h0M242.3 707.5h0M257.6 695.3h0M231.9 720.9h0M243.7 700.9h0M220.1 706.0h0M250.7 688.3h0M235.4 699.6h0M249.4 703.4h0M250.2 734.0h0M208.2 755.2h0M242.2 715.6h0M258.2 697.8h0M267.3 702.5h0M248.0 714.4h0M215.0 752.0h0M238.1 726.2h0M228.5 733.6h0M216.2 701.9h0M240.9 728.4h0M235.7 717.9h0M207.9 727.0h0M219.7 724.2h0M229.6 731.4h0M309.9 671.0h0M206.2 750.5h0M263.0 693.9h0M213.4 715.6h0M234.2 733.7h0M263.0 691.5h0M217.0 744.3h0M235.7 725.8h0M251.1 704.2h0M213.1 746.7h0M233.6 706.0h0M225.1 719.7h0M224.9 721.6h0M226.5 720.6h0M219.5 738.4h0M281.3 675.4h0M211.5 723.4h0M235.2 704.4h0M209.4 738.8h0M229.3 730.9h0M213.2 713.9h0M238.7 719.9h0M263.6 700.2h0M208.8 731.9h0M239.0 732.0h0M284.9 674.9h0M217.3 740.6h0M256.4 690.5h0M252.3 700.6h0M231.2 699.0h0M233.6 717.2h0M248.3 712.0h0M257.1 685.7h0M267.7 679.4h0M229.9 714.8h0M244.4 710.0h0M226.5 713.7h0M266.7 678.0h0M246.3 708.7h0M265.3 660.2h0M235.5 718.8h0M279.4 698.3h0M271.5 677.3h0M263.0 685.9h0M225.7 713.4h0M219.1 746.7h0M236.0 731.4h0M216.7 738.5h0M231.6 719.1h0M218.3 736.9h0M237.2 715.0h0M251.0 698.3h0M245.6 705.7h0M255.3 703.7h0M244.6 721.2h0M245.7 699.9h0M226.2 710.4h0M229.3 710.8h0M277.4 685.0h0M232.0 715.6h0M231.9 730.4h0M263.5 718.4h0M260.4 708.3h0M261.0 704.9h0M280.6 690.6h0M241.2 715.2h0M240.2 718.0h0M246.9 717.9h0M288.3 687.2h0M254.6 689.6h0M235.5 708.5h0M228.5 733.9h0M222.8 715.5h0M263.4 707.6h0M262.7 708.1h0M244.3 704.1h0M195.0 750.7h0M207.7 735.2h0M248.0 712.1h0M225.3 739.9h0M234.9 730.1h0M230.1 717.8h0M257.4 697.8h0M246.1 713.6h0M260.6 687.3h0M229.0 727.8h0M218.3 734.0h0M230.2 700.9h0M269.6 708.3h0M256.8 705.4h0M201.6 750.3h0M246.5 704.7h0M225.4 709.4h0M242.7 721.6h0M203.9 750.0h0M241.1 711.2h0M259.2 715.8h0M206.8 716.9h0M226.4 717.7h0M215.0 700.9h0M231.1 717.4h0M236.3 724.5h0M262.9 701.2h0M219.1 736.4h0M232.4 719.9h0M242.0 722.9h0M227.6 702.0h0M233.0 705.9h0M228.8 719.9h0M224.6 748.5h0M226.1 716.4h0M266.0 685.3h0M225.8 729.8h0M212.6 732.9h0M255.7 702.2h0M221.3 725.3h0M239.8 711.0h0M233.7 718.4h0M221.9 738.3h0M241.5 725.4h0M271.9 679.4h0M276.0 690.9h0M232.7 717.4h0M258.9 685.5h0M217.5 733.8h0M194.0 739.0h0M253.9 679.7h0M253.9 710.0h0M222.2 725.5h0M275.4 703.4h0M217.8 730.7h0M231.5 711.9h0M228.7 723.1h0M238.8 714.0h0M269.2 708.4h0M200.7 747.1h0M241.5 708.5h0M245.9 709.7h0M199.6 740.0h0M211.6 741.4h0M229.4 717.8h0M219.5 748.6h0M230.8 725.3h0M257.3 709.5h0M233.8 725.7h0M228.2 701.4h0M221.3 728.2h0M204.9 749.9h0M251.2 692.5h0M211.2 753.9h0M264.2 676.7h0M239.1 738.8h0M277.7 689.5h0M209.1 725.4h0M208.8 745.6h0M224.9 733.4h0M250.8 718.2h0M242.2 702.0h0M263.0 684.1h0M230.6 740.9h0M243.1 710.8h0M245.3 715.8h0M249.0 720.1h0M257.0 683.8h0M242.1 713.3h0M253.2 699.8h0M251.8 704.6h0M233.0 703.2h0M212.8 722.8h0M220.3 724.4h0M218.2 748.0h0M216.4 743.1h0M268.5 701.3h0M223.6 738.0h0M238.3 717.0h0M251.3 714.9h0M212.4 736.3h0M258.0 694.3h0M217.1 737.6h0M246.2 717.3h0M208.0 736.6h0M231.0 718.8h0M257.5 708.2h0M213.9 742.7h0M255.9 702.9h0M256.0 707.7h0M255.1 709.7h0M224.9 726.5h0M236.3 720.7h0M240.1 705.0h0M224.3 745.9h0M248.1 689.1h0M262.1 712.3h0M249.0 696.8h0M258.8 682.0h0M257.7 732.7h0M251.7 715.2h0M218.8 749.3h0M211.0 740.4h0M263.1 686.2h0M253.7 692.0h0M230.4 731.5h0M281.1 680.5h0M231.4 713.5h0M222.7 710.7h0M210.4 742.7h0M235.1 721.1h0M211.6 726.6h0M252.9 705.3h0M252.0 711.7h0M260.6 706.6h0M215.8 734.8h0M235.0 715.0h0M254.3 686.4h0M210.2 754.2h0M245.8 696.7h0M262.4 700.0h0M234.6 722.0h0M278.9 688.9h0M247.2 723.0h0M260.4 701.5h0M234.5 722.0h0M237.4 687.3h0M253.8 697.5h0M223.8 741.8h0M244.2 709.2h0M208.7 730.4h0M228.3 711.0h0M235.0 717.8h0M224.6 733.2h0M241.4 707.3h0M256.4 710.3h0M213.6 729.2h0M268.7 699.0h0M231.4 725.6h0M248.1 698.4h0M220.4 724.1h0M272.1 684.8h0M224.2 741.6h0M241.8 698.6h0M258.4 685.6h0M233.2 718.7h0M223.6 720.3h0M237.0 725.0h0M232.9 713.4h0M260.4 691.0h0M292.0 668.3h0M221.6 715.9h0M223.2 738.1h0M257.3 707.8h0M241.9 718.1h0M237.7 734.2h0M261.3 685.4h0M236.7 703.0h0M260.7 686.1h0M274.2 702.2h0M259.8 701.1h0M258.6 703.1h0M287.0 661.9h0M242.1 707.5h0M247.4 705.7h0M262.6 707.8h0M211.6 722.3h0M249.9 711.4h0M227.8 738.4h0M236.4 734.9h0M245.4 706.8h0M227.7 711.9h0M258.5 698.4h0M225.7 731.4h0M221.3 748.7h0M241.7 705.2h0M208.4 733.4h0M235.8 716.2h0M256.7 692.4h0M226.2 716.5h0M231.8 748.0h0M285.0 681.5h0M233.7 704.7h0M250.5 713.0h0M245.2 707.4h0M236.2 743.0h0M243.8 722.1h0M217.7 730.4h0M287.3 693.3h0M247.1 725.5h0M260.4 696.9h0M246.5 696.9h0M251.0 713.1h0M219.5 732.9h0M248.0 712.5h0M235.1 724.4h0M222.7 740.2h0M223.0 708.0h0M263.8 682.6h0M242.9 714.0h0M258.1 705.7h0M265.2 695.0h0M257.7 710.3h0M280.0 683.5h0M254.9 711.9h0M225.4 717.8h0M204.6 746.8h0M261.4 706.2h0M239.4 714.3h0M260.4 709.2h0M252.4 702.5h0M257.3 711.2h0M240.5 722.3h0M232.1 708.9h0M266.2 705.7h0M236.9 717.8h0M219.7 733.7h0M217.0 725.4h0M219.6 714.4h0M197.6 739.1h0M226.1 743.2h0M244.0 725.1h0M263.8 696.4h0M239.8 713.9h0M256.4 703.2h0M252.0 702.3h0M228.7 711.3h0M274.7 677.9h0M242.6 705.8h0M216.9 740.6h0M220.8 735.1h0M257.9 710.8h0M226.0 741.3h0M224.8 743.9h0M259.0 702.9h0M259.8 686.1h0M249.9 704.4h0M242.6 717.8h0M224.6 736.8h0M227.2 724.6h0M254.7 715.0h0M212.5 723.5h0M251.6 698.1h0M233.8 734.4h0M268.2 681.3h0M226.8 720.3h0M263.3 671.7h0M265.8 690.4h0M235.3 723.2h0M238.7 722.9h0M253.8 703.3h0M235.2 729.1h0M242.7 716.4h0M248.7 718.5h0M255.0 705.1h0M281.7 692.5h0M283.0 652.5h0M240.2 692.6h0M265.6 708.7h0M229.3 711.2h0M248.2 698.8h0M251.0 690.5h0M236.7 727.6h0M227.5 723.4h0M222.4 727.1h0M237.3 719.3h0M240.9 717.6h0M263.1 696.3h0M258.3 716.1h0M242.3 717.4h0M199.7 757.4h0M259.4 692.0h0M266.6 699.4h0M186.6 753.9h0M256.0 704.1h0M269.7 686.9h0M234.4 692.4h0M229.2 745.1h0M244.6 705.5h0M254.4 709.2h0M241.8 721.6h0M233.2 711.8h0M230.9 712.8h0M236.8 715.3h0M235.1 705.2h0M244.6 719.0h0M244.7 697.9h0M247.7 719.6h0M225.6 735.4h0M271.1 689.5h0M260.6 690.4h0M234.6 706.3h0M239.1 711.4h0M232.3 728.2h0M245.4 724.1h0M235.0 745.4h0M235.7 725.2h0M277.8 685.4h0M253.2 736.4h0M230.8 734.0h0M268.5 683.9h0M242.7 711.2h0M242.3 713.9h0M254.0 698.5h0M236.7 725.1h0M274.8 694.2h0M224.3 701.5h0M242.4 714.7h0M211.0 746.9h0M270.0 696.3h0M265.5 707.6h0M258.6 699.4h0M232.3 738.8h0M270.4 690.6h0M241.2 703.7h0M220.2 713.2h0M259.6 693.6h0M255.4 709.7h0M238.8 709.8h0M231.5 705.3h0M260.4 684.0h0M210.1 718.8h0M232.0 727.6h0M236.3 701.2h0M252.5 700.3h0M265.0 684.0h0M267.5 683.6h0M249.3 701.4h0M213.2 734.8h0M244.6 718.5h0M231.0 709.1h0M234.6 717.6h0M283.2 679.1h0M261.9 693.2h0M254.2 691.6h0M237.2 708.1h0M231.3 724.8h0M254.9 709.9h0M185.2 740.4h0M219.6 722.9h0M233.1 735.6h0M234.0 743.2h0M266.3 699.7h0M248.6 708.5h0M208.5 741.8h0M265.6 687.6h0M232.2 728.2h0M238.5 729.8h0M245.5 728.3h0M223.9 717.7h0M239.9 722.0h0M243.0 715.6h0M245.3 699.7h0M237.8 734.6h0M249.0 716.9h0M264.5 686.8h0M239.6 710.3h0M208.7 756.0h0M232.6 716.6h0M269.1 700.9h0M220.3 738.2h0M224.1 724.6h0M209.6 729.0h0M212.0 711.4h0M237.3 715.9h0M204.7 760.7h0M258.1 708.6h0M245.4 705.6h0M260.0 686.1h0M264.2 689.5h0M227.0 736.3h0M256.0 699.8h0M229.0 723.4h0M260.2 690.7h0M227.3 738.0h0M237.7 721.4h0M233.4 733.6h0M262.8 678.3h0M223.8 718.8h0M237.7 710.5h0M243.9 712.8h0M260.4 692.6h0M231.5 715.9h0M227.5 724.3h0M253.2 700.2h0M207.2 751.2h0M245.1 703.7h0M208.4 749.0h0M257.8 698.5h0M227.2 736.4h0M245.8 717.2h0M241.2 711.1h0M292.1 667.2h0M245.9 709.5h0M247.8 704.0h0M227.0 718.8h0M225.7 731.2h0M238.4 705.2h0M257.9 733.0h0M266.1 695.2h0M242.0 698.0h0M224.9 736.8h0M257.7 710.5h0M218.0 726.7h0M218.5 738.6h0M222.8 723.2h0M225.1 731.1h0M235.9 737.4h0M234.4 738.2h0M214.1 739.0h0M242.0 716.5h0M262.0 698.0h0M251.6 711.9h0M225.6 708.0h0M204.4 749.1h0M253.5 719.1h0M249.8 704.8h0M253.0 695.2h0M245.6 717.2h0M238.2 730.3h0M218.1 728.8h0M239.2 708.4h0M243.1 706.9h0M237.2 710.9h0M291.7 688.1h0M242.4 718.3h0M250.2 702.9h0M222.4 726.2h0M244.3 713.1h0M246.6 695.6h0M252.9 708.3h0M245.2 690.1h0M227.0 712.5h0M226.0 741.8h0M225.5 721.8h0M235.1 725.8h0M223.5 737.0h0M217.5 737.6h0M246.2 709.4h0M259.4 707.1h0M239.8 742.5h0M243.9 716.3h0M252.8 696.8h0M236.1 731.1h0M247.0 701.0h0M259.2 706.6h0M220.2 732.3h0M217.6 754.0h0M247.4 705.1h0M253.6 714.3h0M238.7 728.9h0M208.0 733.5h0M289.5 666.5h0M253.8 698.8h0M235.2 724.9h0M282.4 686.4h0M227.0 717.6h0M238.4 702.6h0M226.2 733.8h0M231.2 704.6h0M259.7 698.0h0M241.9 710.0h0M219.3 724.6h0M229.5 720.0h0M240.6 711.2h0M230.4 711.8h0M247.8 717.2h0M249.6 711.4h0M248.4 699.8h0M229.9 722.4h0M241.7 713.1h0M283.6 679.5h0M216.1 730.9h0M228.7 697.3h0M227.0 735.8h0M256.0 708.6h0M232.3 722.7h0M226.1 729.1h0M254.3 684.7h0M242.0 704.5h0M225.3 709.9h0M288.4 675.9h0M233.6 718.6h0M273.9 703.0h0M268.1 704.5h0M223.4 723.7h0M254.7 693.6h0M271.4 703.5h0M242.6 704.4h0M246.9 697.5h0M241.9 716.1h0M208.2 729.2h0M216.7 728.1h0M254.9 704.8h0M262.6 704.8h0M253.6 705.9h0M209.4 757.7h0M236.9 699.6h0M265.7 690.8h0M257.9 692.0h0M235.7 703.7h0M246.6 715.1h0M323.2 647.0h0M238.4 707.5h0M215.1 745.4h0M281.9 677.4h0M217.9 747.7h0M238.6 726.6h0M269.0 713.9h0M266.8 706.0h0M213.7 733.4h0M213.2 740.4h0M228.3 749.0h0M214.7 729.6h0M220.3 719.5h0M259.8 684.7h0M219.2 721.3h0M245.0 725.1h0M251.1 707.0h0M225.6 737.0h0M249.4 711.2h0M231.6 727.5h0M256.3 701.1h0M250.0 714.2h0M229.6 728.9h0M253.5 709.5h0M239.2 714.7h0M273.3 707.0h0M290.3 691.4h0M235.1 727.2h0M242.7 707.1h0M290.4 665.6h0M225.3 723.3h0M242.6 720.2h0M252.8 702.8h0M230.4 729.3h0M255.4 705.0h0M265.9 686.9h0M213.9 756.4h0M241.0 721.4h0M217.6 738.9h0M271.4 694.5h0M281.2 676.6h0M202.4 726.2h0M201.5 744.0h0M228.2 705.3h0M221.5 710.1h0M209.8 746.0h0M247.4 703.9h0M243.5 695.0h0M279.7 664.8h0M238.3 706.6h0M234.5 703.4h0M235.8 723.0h0M275.1 704.2h0M222.7 740.2h0M239.6 724.8h0M261.0 689.8h0M258.3 697.2h0M205.8 752.8h0M257.9 715.9h0M227.0 719.1h0M241.5 702.3h0M249.5 723.9h0M245.6 722.8h0M271.9 674.6h0M265.1 672.8h0M257.8 685.9h0M261.0 689.9h0M259.3 697.5h0M279.7 697.6h0M206.3 722.1h0M234.6 727.4h0M222.0 722.9h0M239.2 702.5h0M233.3 709.8h0M221.6 722.3h0M306.5 668.6h0M237.7 705.9h0M218.9 734.9h0M228.6 720.2h0M210.7 720.6h0M243.4 710.2h0M236.9 717.3h0M221.4 719.3h0M237.2 718.9h0M251.4 688.3h0M238.5 722.0h0M250.7 733.4h0M221.8 738.5h0M232.6 734.8h0M258.9 704.3h0M243.5 712.0h0M233.6 726.4h0M268.5 685.1h0M273.0 692.5h0M246.5 706.1h0M233.3 719.9h0M205.3 749.8h0M215.6 727.7h0M248.4 704.3h0M234.8 707.6h0M260.4 693.8h0M233.2 703.1h0M214.6 750.7h0M212.1 722.0h0M242.5 719.2h0M190.0 761.7h0M241.1 699.0h0M240.1 708.6h0M225.5 718.6h0M231.7 714.2h0M245.1 722.7h0M241.0 712.2h0M225.3 726.5h0M260.7 686.4h0M242.0 737.6h0M256.9 682.7h0M235.5 727.1h0M247.2 707.1h0M259.8 707.0h0M278.6 676.8h0M218.7 719.0h0M237.9 708.7h0M248.6 707.8h0M247.6 713.6h0M224.7 728.2h0M234.5 714.4h0M244.8 728.5h0M258.8 701.4h0M259.3 693.3h0M246.6 703.7h0M209.6 720.0h0M282.7 676.7h0M229.6 714.6h0M233.5 701.8h0M231.3 733.2h0M223.0 734.8h0M256.5 703.0h0M246.9 713.1h0M269.5 692.9h0M245.7 693.4h0M247.5 714.6h0M235.7 705.4h0M249.3 716.0h0M266.4 710.8h0M200.1 743.1h0M235.2 724.1h0M218.1 720.4h0M198.4 741.9h0M239.4 710.1h0M207.2 732.8h0M265.0 718.4h0M246.3 711.4h0M191.0 749.5h0M223.7 722.3h0M253.0 709.9h0M233.2 711.2h0M219.5 724.1h0M269.5 693.5h0M248.8 707.9h0M258.5 717.2h0M203.8 747.5h0M261.7 684.1h0M253.3 691.6h0M231.9 726.3h0M207.3 732.6h0M239.7 729.3h0M218.5 725.0h0M240.4 702.7h0M244.6 718.9h0M214.9 733.0h0M275.9 667.4h0M224.5 720.5h0M224.8 723.0h0M231.9 715.7h0M241.1 728.3h0M253.8 693.2h0M245.2 705.0h0M264.5 690.9h0M237.8 733.8h0M222.1 735.9h0M256.9 688.1h0M241.0 703.3h0M215.1 722.6h0M268.0 682.2h0M258.1 689.1h0M279.9 690.9h0M275.3 692.1h0M211.7 728.3h0M258.1 697.6h0M227.8 716.4h0M236.9 690.0h0M249.6 702.7h0M230.8 714.2h0M278.1 693.9h0M234.2 738.6h0M240.3 696.6h0M215.9 735.8h0M225.3 727.8h0M224.6 729.3h0M217.1 728.7h0M262.1 690.1h0M256.6 690.1h0M222.1 733.7h0M255.8 684.2h0M220.6 725.4h0M250.6 710.4h0M248.7 713.5h0M268.9 710.7h0M247.8 714.2h0M239.7 724.3h0M256.8 697.7h0M240.6 710.6h0M234.6 716.9h0M271.5 698.0h0M222.9 706.7h0M231.0 718.3h0M237.9 709.4h0M255.5 701.6h0M220.7 738.2h0M243.2 692.4h0M251.5 711.9h0M246.5 710.6h0M258.6 683.1h0M234.6 715.0h0M251.0 704.6h0M241.5 736.0h0M243.3 723.3h0M231.8 715.7h0M253.3 709.6h0M231.0 724.0h0M218.3 713.8h0M278.3 688.7h0M275.4 680.6h0M217.7 721.0h0M255.1 701.9h0M209.4 743.1h0M234.4 730.5h0M213.7 719.5h0M208.0 730.1h0M242.8 699.4h0M205.7 726.4h0M237.0 731.8h0M262.4 682.2h0M241.9 703.9h0M262.2 692.1h0M222.6 719.5h0M219.0 728.7h0M257.8 690.2h0M238.2 703.8h0M273.6 679.8h0M240.0 711.2h0M241.5 712.7h0M256.7 690.6h0M241.4 705.4h0M246.7 707.8h0M220.2 724.6h0M238.8 712.1h0M262.9 689.7h0M256.6 707.6h0M206.7 738.7h0M245.3 696.2h0M247.5 693.8h0M232.4 731.4h0M259.6 712.1h0M207.4 734.5h0M264.6 696.5h0M260.4 699.8h0M206.2 756.7h0M236.6 739.0h0M210.3 744.9h0M260.0 694.4h0M232.6 717.9h0M235.3 689.1h0M205.0 760.4h0M209.9 740.4h0M260.2 702.8h0M234.3 720.7h0M244.0 721.8h0M253.1 706.1h0M244.8 705.9h0M251.7 698.4h0M221.0 724.0h0M206.4 743.6h0M248.0 704.5h0M246.8 701.5h0M201.6 745.6h0M221.9 725.1h0M251.4 703.9h0M241.5 690.0h0M240.7 714.5h0M265.0 678.1h0M220.0 740.2h0M268.0 683.2h0M257.4 705.3h0M253.4 720.2h0M215.2 716.9h0M212.9 736.5h0M252.8 702.6h0M216.4 738.5h0M251.8 711.3h0M274.3 691.8h0M277.8 688.0h0M265.3 692.3h0M240.7 728.9h0M251.5 706.2h0M246.7 716.1h0M219.2 740.6h0M236.7 708.3h0M231.6 733.2h0M221.1 741.3h0M204.1 748.6h0M230.8 702.7h0M258.4 687.1h0M239.2 713.4h0M221.8 747.2h0M248.8 685.8h0M237.2 733.6h0M230.8 716.9h0M214.2 739.3h0M249.5 707.4h0M248.1 708.9h0M238.6 702.1h0M258.3 699.4h0M250.5 708.2h0M238.3 712.2h0M244.0 685.6h0M245.1 706.9h0M285.1 691.8h0M242.5 699.8h0M244.8 711.7h0M222.8 727.1h0M225.4 714.4h0M252.4 708.7h0M264.8 707.3h0M222.3 719.8h0M246.4 722.0h0M224.7 728.3h0M226.9 722.1h0M238.1 711.1h0M239.0 711.8h0M231.2 717.1h0M247.7 701.9h0M247.6 713.3h0M238.9 702.1h0M234.8 717.9h0M273.6 683.7h0M254.7 713.2h0M221.5 725.3h0M284.9 700.9h0M204.9 737.7h0M219.6 720.3h0M244.1 716.9h0M238.3 721.8h0M246.4 717.6h0M216.3 739.6h0M247.6 697.8h0M226.6 735.3h0M246.1 699.1h0M231.9 705.2h0M223.7 712.0h0M254.4 722.0h0M251.1 709.2h0M236.3 725.2h0M240.4 721.4h0M242.8 701.9h0M268.7 682.7h0M258.3 697.1h0M235.8 729.5h0M261.1 704.1h0M243.9 726.2h0M249.2 694.0h0M238.1 707.0h0M236.9 715.5h0M230.1 749.7h0M247.6 704.4h0M252.1 688.6h0M259.2 696.2h0M226.3 694.7h0M211.9 739.2h0M229.8 711.2h0M247.2 704.1h0M261.9 704.2h0M214.2 731.5h0M227.9 723.6h0M247.7 719.4h0M239.4 701.2h0M235.0 720.6h0M228.6 719.5h0M251.3 715.6h0M243.2 695.0h0M259.4 716.4h0M205.9 725.1h0M227.0 723.9h0M242.8 713.6h0M282.2 681.3h0M215.7 729.4h0M253.9 715.9h0M244.3 718.0h0M212.7 744.1h0M257.2 704.1h0M205.5 743.1h0M298.2 651.3h0M245.8 719.5h0M215.2 740.7h0M245.3 697.9h0M241.3 700.8h0M237.5 738.6h0M247.0 699.0h0M252.7 694.0h0M220.8 731.5h0M241.0 710.3h0M252.6 695.2h0M231.9 731.7h0M231.0 723.3h0M231.0 731.0h0M259.0 690.7h0M261.5 690.9h0M251.9 710.8h0M231.9 717.5h0M258.8 721.8h0M279.4 679.5h0M227.1 724.3h0M229.6 706.0h0M264.2 696.1h0M230.0 715.7h0M246.4 710.4h0M229.8 738.1h0M211.9 742.6h0M278.5 686.3h0M255.5 709.5h0M269.1 692.1h0M257.8 690.1h0M250.1 686.9h0M221.1 731.7h0M251.4 707.3h0M250.5 684.1h0M234.5 715.7h0M229.8 730.6h0M200.1 728.8h0M241.6 700.7h0M212.6 736.4h0M237.6 708.6h0M241.8 707.6h0M272.1 702.9h0M238.2 711.8h0M226.5 720.6h0M203.3 744.1h0M202.0 722.7h0M267.1 686.3h0M259.8 703.2h0M235.5 739.4h0M260.2 702.1h0M251.0 723.9h0M229.1 745.6h0M229.8 723.1h0M188.8 747.5h0M232.0 705.3h0M258.3 689.6h0M213.6 744.1h0M246.9 704.6h0M228.5 725.7h0M219.1 735.2h0M248.2 693.9h0M251.9 697.0h0M241.5 708.4h0M260.8 709.4h0M260.8 693.5h0M261.7 694.5h0M225.8 729.8h0M240.8 740.9h0M222.4 734.2h0M228.3 734.0h0M216.9 734.8h0M226.3 711.3h0M239.3 716.5h0M257.2 703.6h0M239.0 703.6h0M260.0 702.8h0M211.8 741.9h0M251.4 724.0h0M233.0 720.7h0M208.0 725.8h0M234.5 735.1h0M218.6 726.1h0M268.7 691.1h0M243.8 714.3h0M273.9 677.0h0M252.2 708.1h0M249.4 701.2h0M221.0 715.3h0M243.3 701.4h0M245.9 711.5h0M268.4 690.3h0M273.4 684.3h0M286.0 689.6h0M241.9 721.4h0M217.3 729.4h0M209.1 738.3h0M267.4 689.4h0M228.9 725.6h0M255.1 687.6h0M234.7 717.4h0M250.4 709.3h0M247.6 706.6h0M267.8 700.9h0M241.7 710.1h0M224.8 729.4h0M239.6 730.3h0M229.8 734.0h0M229.3 729.7h0M229.7 715.2h0M265.9 687.6h0M223.1 723.9h0M213.4 728.5h0M255.3 707.5h0M240.7 706.0h0M255.1 709.8h0M224.6 743.6h0M232.6 726.5h0M239.6 709.6h0M210.5 744.4h0M232.5 737.1h0M235.5 723.6h0M246.9 703.3h0M254.0 707.6h0M244.6 709.7h0M261.3 718.6h0M234.3 727.2h0M241.7 703.3h0M243.9 711.0h0M224.9 722.9h0M244.4 722.3h0M252.7 710.8h0M249.9 703.5h0M242.0 714.3h0M253.0 700.0h0M241.2 715.2h0M256.4 693.1h0M242.4 717.5h0M275.0 698.6h0M237.2 696.4h0M252.5 699.9h0M239.3 703.3h0M300.3 668.1h0M234.8 706.9h0M279.4 682.7h0M222.5 724.2h0M223.4 717.1h0M235.5 712.9h0M241.5 705.4h0M243.9 709.2h0M209.6 723.0h0M226.3 720.2h0M229.1 725.0h0M230.4 738.6h0M226.5 711.3h0M216.2 731.0h0M203.2 755.9h0M215.7 734.2h0M251.3 720.3h0M237.9 710.9h0M240.2 722.7h0M249.3 696.6h0M288.4 666.5h0M204.5 729.9h0M246.5 702.9h0M263.7 700.3h0M214.5 736.0h0M254.2 710.3h0M226.7 737.6h0M251.6 717.4h0M235.9 725.3h0M267.7 684.2h0M288.8 686.6h0M219.8 726.6h0M211.5 740.5h0M254.7 703.4h0M258.4 709.1h0M230.6 722.9h0M258.2 690.0h0M266.0 694.7h0M225.3 729.7h0M240.6 730.2h0M220.9 746.7h0M246.6 707.6h0M221.1 718.5h0M242.5 714.2h0M254.5 700.7h0M218.3 737.4h0M210.4 729.8h0M238.2 706.6h0M225.6 737.5h0M263.9 688.7h0M209.9 725.6h0M225.4 709.6h0M251.0 713.1h0M235.5 719.7h0M234.0 711.3h0M241.0 725.7h0M281.8 675.9h0M220.8 737.0h0M252.7 686.9h0M251.4 710.9h0M278.4 693.0h0M268.4 687.0h0M238.0 722.4h0M228.7 723.1h0M269.7 693.7h0M222.2 713.7h0M262.3 697.5h0M266.9 693.1h0M279.1 687.3h0M225.3 729.8h0M243.3 710.6h0M228.8 728.1h0M213.3 739.6h0M274.9 691.3h0M220.0 736.1h0M224.3 727.3h0M222.6 715.3h0M222.8 730.0h0M271.0 692.6h0M266.8 697.4h0M256.9 680.0h0M220.9 723.2h0M217.1 731.8h0M226.1 723.6h0M215.0 755.0h0M252.4 704.8h0M267.5 692.8h0M242.3 722.2h0M211.1 734.4h0M215.4 718.2h0M270.3 687.2h0M266.0 696.8h0M228.8 697.7h0M235.0 705.1h0M223.1 722.9h0M258.3 719.1h0M208.1 745.4h0M232.5 719.7h0M224.0 734.3h0M218.0 741.7h0M247.8 714.7h0M216.9 744.1h0M223.0 744.3h0M244.2 707.7h0M211.6 741.3h0M232.1 712.3h0M224.1 730.2h0M217.9 741.2h0M225.7 690.8h0M263.9 693.9h0M245.8 726.9h0M219.1 722.2h0M240.5 703.0h0M240.3 708.9h0M242.6 707.3h0M248.1 697.4h0M229.0 725.2h0M225.5 725.5h0M250.0 706.8h0M198.6 750.6h0M233.2 726.6h0M232.3 710.8h0M252.9 690.5h0M213.2 723.7h0M255.2 709.9h0M228.6 720.2h0M268.3 678.0h0M226.5 715.2h0M236.2 700.7h0M296.0 668.4h0M253.4 732.3h0M252.4 723.9h0M227.5 714.7h0M228.6 714.8h0M228.6 715.7h0M227.7 724.3h0M255.0 707.6h0M233.5 731.1h0M224.3 723.7h0M246.7 702.2h0M265.1 686.0h0M249.0 704.7h0M235.9 704.6h0M224.5 734.5h0M247.6 724.5h0M233.4 735.7h0M221.8 690.8h0M227.4 736.2h0M208.1 731.5h0M232.0 720.6h0M275.6 703.5h0M269.6 691.6h0M270.4 680.7h0M247.8 717.2h0M243.6 699.9h0M251.3 706.6h0M248.9 708.3h0M258.4 703.7h0M275.9 684.2h0M244.8 729.9h0M231.2 700.4h0M224.8 735.9h0M257.8 723.3h0M242.3 726.8h0M236.9 717.3h0M234.3 729.0h0M240.9 711.5h0M240.9 697.2h0M260.4 710.2h0M225.4 735.8h0M242.6 702.4h0M273.3 689.2h0M226.4 736.4h0M232.1 726.3h0M279.0 693.5h0M237.7 712.2h0M309.9 660.4h0M237.8 710.1h0M238.0 728.9h0M240.1 702.9h0M227.2 736.4h0M216.6 756.4h0M266.9 691.8h0M238.2 714.3h0M267.2 699.1h0M211.6 723.8h0M265.4 680.0h0M238.7 716.7h0M237.5 719.5h0M237.8 701.6h0M250.8 688.7h0M252.5 709.6h0M227.7 675.4h0M218.5 704.5h0M209.1 720.3h0M225.4 729.4h0M211.7 744.7h0M239.1 684.1h0M245.4 725.5h0M246.9 757.2h0M232.6 670.8h0M285.8 656.2h0M223.0 689.0h0M277.8 693.2h0M237.4 730.8h0M226.8 691.7h0M203.5 710.6h0M244.8 700.3h0M219.1 709.1h0M231.6 720.3h0M191.9 741.8h0M224.9 703.5h0M238.6 713.6h0M220.8 735.9h0M215.3 713.2h0M195.3 770.2h0M241.7 681.3h0M243.6 712.7h0M292.0 671.2h0M219.0 721.7h0M261.8 705.1h0M256.1 708.2h0M238.1 706.7h0M245.7 704.8h0M226.9 693.6h0M233.3 699.4h0M240.8 732.8h0M208.4 725.0h0M143.6 750.6h0M210.3 732.2h0M283.3 680.9h0M261.5 725.0h0M215.3 712.0h0M200.3 792.8h0M212.5 739.4h0M225.2 709.1h0M248.7 717.1h0M246.5 712.0h0M234.6 736.5h0M249.5 714.3h0M265.1 725.7h0M262.4 722.6h0M243.7 733.5h0M207.1 720.4h0M187.6 728.9h0M289.4 666.7h0M190.2 732.7h0M229.6 716.4h0M232.0 696.5h0M278.9 680.7h0M271.5 701.7h0M297.8 694.0h0M203.7 743.4h0M255.7 681.9h0M191.1 739.2h0M244.7 657.2h0M225.8 749.5h0M188.5 749.5h0M247.9 702.1h0M231.9 733.1h0M233.0 715.7h0M302.9 672.7h0M204.4 744.3h0M227.7 763.1h0M232.7 713.4h0M237.4 734.3h0M226.3 715.5h0M256.1 695.6h0M197.8 725.6h0M276.0 693.6h0M235.1 723.1h0M265.9 677.6h0M234.8 717.8h0M240.6 689.6h0M239.1 735.4h0M218.5 721.7h0M245.7 718.8h0M255.6 713.6h0M261.7 662.8h0M257.6 697.8h0M250.6 747.8h0M274.2 707.2h0M206.7 742.6h0M206.3 735.6h0M223.8 725.6h0M262.9 690.8h0M214.7 734.4h0M208.2 714.6h0M200.7 748.4h0M275.3 697.6h0M234.9 707.6h0M235.6 705.0h0M206.4 735.2h0M222.4 725.6h0M194.8 756.3h0M243.8 724.7h0M245.4 679.9h0M238.1 713.4h0M247.7 727.0h0M217.4 750.3h0M208.4 700.3h0M210.6 733.1h0M222.2 734.0h0M223.6 728.8h0M240.7 719.3h0M242.4 715.2h0M223.7 728.2h0M277.1 713.2h0M227.8 707.7h0M246.4 728.8h0M202.8 738.9h0M262.8 683.9h0M230.2 726.8h0M226.1 725.7h0M195.0 770.1h0M229.9 682.6h0M238.1 749.1h0M202.9 739.1h0M205.5 731.4h0M212.6 746.8h0M197.0 733.1h0M240.7 705.2h0M249.9 709.4h0M263.9 717.8h0M251.9 713.5h0M219.6 739.7h0M247.4 704.2h0M261.5 716.5h0M238.5 732.2h0M247.0 680.2h0M208.4 711.4h0M206.9 704.7h0M237.8 702.6h0M205.1 703.1h0M231.3 726.6h0M259.8 714.0h0M227.1 727.5h0M213.6 707.7h0M278.4 705.1h0M275.7 667.0h0M225.0 708.8h0M287.0 693.3h0M219.9 743.9h0M289.3 659.4h0M213.9 731.0h0M252.3 708.2h0M265.5 693.2h0M268.1 685.9h0M241.2 721.6h0M244.5 691.7h0M194.6 728.9h0M269.7 672.9h0M247.0 709.3h0M208.5 748.1h0M227.2 738.8h0M239.5 719.7h0M229.1 693.0h0M242.2 694.6h0M192.7 729.2h0M216.0 694.0h0M198.6 751.3h0M258.6 657.5h0M199.4 740.1h0M218.1 692.6h0M291.2 669.8h0M262.1 706.1h0M209.2 718.3h0M227.4 701.8h0M231.6 688.5h0M234.6 712.0h0M263.4 689.7h0M274.0 698.0h0M214.4 708.0h0M251.2 712.7h0M209.2 742.2h0M236.5 716.5h0M209.1 746.3h0M250.9 681.3h0M275.9 701.3h0M208.6 719.5h0M228.3 703.2h0M259.7 705.0h0M232.4 746.0h0M195.6 726.1h0M288.7 711.6h0M198.2 747.8h0M253.3 738.4h0M235.0 688.9h0M262.8 712.5h0M256.7 682.9h0M198.5 740.7h0M219.4 731.0h0M239.7 733.2h0M228.5 701.8h0M220.3 738.5h0M220.6 710.2h0M230.3 717.6h0M216.4 728.4h0M223.7 700.8h0M235.1 692.1h0M245.3 703.6h0M189.1 749.3h0M209.5 712.8h0M242.5 702.9h0M229.4 693.2h0M207.2 747.7h0M231.9 712.1h0M261.6 711.3h0M213.8 709.9h0M262.3 717.7h0M214.8 722.9h0M225.4 709.0h0M213.2 742.8h0M312.5 643.7h0M275.1 681.6h0M216.7 704.2h0M274.0 693.5h0M226.7 709.6h0M231.4 747.1h0M251.7 688.6h0M187.2 711.5h0M200.8 755.8h0M232.3 719.4h0M188.0 744.6h0M243.9 724.1h0M251.7 715.1h0M243.9 654.8h0M232.3 722.1h0M256.1 677.9h0M268.0 694.0h0M199.0 777.5h0M209.1 740.2h0M199.8 769.0h0M222.5 734.2h0M215.9 693.5h0M256.5 728.9h0M255.9 706.4h0M209.8 745.3h0M302.7 675.6h0M207.0 738.9h0M250.8 704.6h0M225.1 742.7h0M212.8 759.5h0M231.2 710.1h0M243.0 713.5h0M266.7 688.3h0M247.2 730.5h0M221.4 734.8h0M260.5 702.7h0M227.4 726.3h0M273.1 702.7h0M211.5 727.0h0M230.3 691.7h0M263.5 691.1h0M229.0 719.0h0M269.9 684.3h0M250.7 753.2h0M202.5 740.1h0M250.2 692.8h0M235.9 750.5h0M235.7 731.7h0M237.2 699.7h0M237.1 715.0h0M218.5 727.5h0M202.3 723.3h0M232.8 696.8h0M248.0 715.1h0M230.5 719.5h0M234.2 767.4h0M207.8 694.6h0M236.1 686.2h0M219.2 756.6h0M225.4 728.9h0M212.5 706.1h0M272.4 704.8h0M286.6 663.1h0M202.3 715.6h0M244.2 708.6h0M191.1 734.8h0M213.5 693.1h0M205.9 764.1h0M246.2 731.3h0M274.1 707.9h0M253.6 722.8h0M220.2 721.7h0M215.3 713.9h0M215.4 699.2h0M258.4 732.0h0M288.5 673.5h0M212.1 723.9h0M237.8 696.5h0M257.8 675.8h0M200.7 731.6h0M217.9 757.1h0M213.1 750.2h0M244.9 714.4h0M244.2 710.5h0M238.1 703.1h0M212.8 732.3h0M230.0 728.5h0M207.4 727.0h0M251.5 666.8h0M240.0 706.3h0M205.0 735.6h0M268.5 652.6h0M248.3 672.4h0M280.7 641.8h0M256.2 712.2h0M240.5 685.7h0M220.6 723.9h0M213.1 739.5h0M196.6 715.6h0M217.3 723.6h0M249.2 711.0h0M205.8 745.6h0M206.3 730.9h0M218.0 703.1h0M225.1 710.6h0M209.4 767.4h0M225.2 702.0h0M260.8 673.9h0M223.2 729.9h0M237.7 720.1h0M248.8 689.1h0M259.7 715.0h0M273.9 728.1h0M225.0 732.7h0M232.5 722.6h0M264.0 712.1h0M253.4 726.4h0M232.7 709.6h0M259.8 723.0h0M225.7 725.0h0M271.4 677.2h0M266.2 668.3h0M247.4 711.7h0M270.2 672.1h0M242.4 747.1h0M218.0 717.3h0M221.2 705.0h0M305.9 666.7h0M244.3 691.3h0M270.9 750.3h0M333.5 662.9h0M275.2 741.2h0M315.3 720.6h0M321.7 674.9h0M314.6 717.8h0M284.5 712.3h0M279.3 718.5h0M355.6 700.9h0M267.2 689.6h0M280.4 731.2h0M356.7 657.6h0M294.2 680.6h0M360.4 679.4h0M340.4 701.7h0M326.3 725.3h0M272.8 730.6h0M289.4 697.0h0M302.4 700.4h0M356.4 690.0h0M332.9 676.6h0M332.3 691.3h0M295.5 703.7h0M313.9 721.8h0M308.7 723.7h0M274.1 740.6h0M356.9 718.5h0M330.9 715.6h0M335.6 705.0h0M328.4 687.6h0M329.8 702.9h0M275.5 727.4h0M269.2 745.1h0M349.6 664.4h0M296.9 717.7h0M280.3 697.4h0M298.3 681.9h0M293.2 724.9h0M289.8 708.0h0M290.9 707.4h0M310.7 707.3h0M348.9 685.3h0M319.6 696.4h0M305.2 699.4h0M317.5 679.6h0M355.9 718.5h0M265.0 702.9h0M353.6 686.9h0M331.7 684.0h0M322.5 668.4h0M324.3 693.2h0M269.4 691.3h0M332.9 707.5h0M320.6 720.2h0M269.4 732.3h0M346.5 695.1h0M309.8 692.9h0M307.9 738.4h0M296.4 712.7h0M348.4 686.2h0M348.9 672.2h0M292.8 725.4h0M262.9 714.0h0M271.5 710.2h0M324.5 659.9h0M300.4 696.9h0M285.6 719.1h0M340.4 705.4h0M320.6 713.7h0M346.1 710.7h0M311.8 680.1h0M346.6 703.0h0M362.5 695.5h0M288.8 721.0h0M324.9 709.3h0M286.7 704.7h0M262.7 721.8h0M306.6 736.5h0M283.9 673.4h0M285.7 684.0h0M282.7 683.6h0M339.4 665.5h0M283.3 733.5h0M329.4 711.6h0M274.4 692.0h0M266.6 708.0h0M360.5 663.2h0M304.0 707.1h0M322.3 708.8h0M326.0 706.5h0M284.8 696.5h0M276.6 690.8h0M270.2 734.9h0M338.1 707.1h0M311.2 696.5h0M329.4 685.1h0M350.2 673.4h0M354.7 679.8h0M317.5 663.6h0M307.5 737.9h0M270.5 688.5h0M361.1 665.9h0M348.3 692.8h0M350.6 665.9h0M345.1 662.6h0M319.9 684.6h0M281.1 708.0h0M308.9 676.9h0M353.2 697.7h0M277.7 692.1h0M268.5 732.8h0M278.2 692.1h0M333.4 674.3h0M290.5 707.5h0M270.7 713.2h0M278.3 676.8h0M283.0 700.3h0M266.4 733.0h0M281.3 683.0h0M283.0 737.9h0M300.1 675.4h0M292.6 702.5h0M288.1 711.6h0M336.3 739.7h0M270.0 717.9h0M290.2 671.1h0M286.6 679.7h0M351.8 705.2h0M314.3 676.4h0M326.6 687.9h0M333.3 707.8h0M317.8 667.2h0M290.4 686.0h0M355.2 702.0h0M360.5 688.5h0M277.5 697.0h0M329.1 712.6h0M358.0 705.9h0M314.9 703.2h0M270.9 721.2h0M338.9 691.1h0M324.8 697.2h0M314.2 711.1h0M276.5 703.6h0M330.1 680.9h0M270.0 689.4h0M328.0 685.8h0M338.4 697.3h0M291.7 724.2h0M263.1 695.2h0M75.0 691.4h0M95.3 698.3h0M107.5 749.4h0M131.2 732.3h0M131.9 729.8h0M89.2 799.8h0M147.4 762.0h0M150.8 788.4h0M165.7 787.8h0M198.3 730.9h0M188.3 746.6h0M184.6 718.6h0M173.0 691.9h0M192.6 721.2h0M194.4 705.1h0M199.9 685.5h0M203.9 713.4h0M189.9 701.5h0M198.6 712.4h0M174.7 738.0h0M169.8 758.6h0M192.9 728.3h0M199.4 712.6h0M186.7 735.4h0M183.6 731.8h0M187.3 707.7h0M191.0 708.8h0M187.0 695.6h0M200.0 736.0h0M207.3 717.7h0M206.6 732.2h0M174.4 730.5h0M200.5 722.3h0M202.8 751.5h0M167.9 693.2h0M206.4 699.9h0M206.2 706.0h0M205.6 750.0h0M195.6 731.9h0M193.6 758.8h0M202.8 710.6h0M200.5 736.4h0M174.7 725.3h0M200.8 725.3h0M191.1 718.9h0M188.4 742.0h0M169.6 718.3h0M196.0 722.4h0M199.4 725.5h0M191.8 730.9h0M206.0 714.8h0M204.8 715.4h0M195.1 726.7h0M170.0 733.9h0M207.4 716.7h0M206.5 742.2h0M207.5 739.0h0M204.1 711.6h0M193.2 721.9h0M197.7 681.8h0M205.1 688.0h0M191.9 717.0h0M176.7 737.6h0M183.7 703.5h0M176.7 706.2h0M199.1 730.9h0M200.9 705.1h0M199.9 751.2h0M185.9 742.8h0M180.8 730.0h0M186.5 745.2h0M207.2 687.1h0M200.1 725.3h0M191.3 750.1h0M180.8 746.0h0M205.5 703.5h0M195.6 725.2h0M188.0 719.2h0M184.2 700.6h0M178.7 747.6h0M202.0 720.0h0M203.5 752.7h0M204.2 698.1h0M189.1 734.4h0" stroke="#c0504d" stroke-width="2.85" stroke-linecap="round" fill="none"/>
<path d="M140.0 809.2L343.1 620.2" stroke="#8a7a7a" stroke-width="0.8" fill="none"/>
<circle cx="458.5" cy="696.7" r="1.5" fill="#8fa6c8"/>
<circle cx="484.4" cy="696.7" r="1.5" fill="#8fa6c8"/>
<circle cx="462.7" cy="718.3" r="1.5" fill="#8fa6c8"/>
<circle cx="468" cy="726.5" r="1.5" fill="#8fa6c8"/>
<circle cx="438.3" cy="731.3" r="1.5" fill="#8fa6c8"/>
<circle cx="423" cy="696.7" r="1.5" fill="#8fa6c8"/>
<circle cx="427.7" cy="696.7" r="1.5" fill="#8fa6c8"/>
<circle cx="439" cy="695.8" r="1.5" fill="#8fa6c8"/>
<circle cx="442" cy="699.6" r="1.5" fill="#8fa6c8"/>
<circle cx="427.7" cy="707.3" r="1.5" fill="#8fa6c8"/>
<circle cx="421" cy="711" r="1.5" fill="#8fa6c8"/>
<text x="458.5" y="706" font-size="7" text-anchor="start" font-weight="bold" font-style="italic" fill="#000" textLength="25" lengthAdjust="spacingAndGlyphs">STXBP4</text>
<text x="487.2" y="705.5" font-size="7" text-anchor="start" font-weight="bold" font-style="italic" fill="#000" textLength="32" lengthAdjust="spacingAndGlyphs">RHOBTB3</text>
<text x="467" y="723.6" font-size="7" text-anchor="start" font-weight="bold" font-style="italic" fill="#000" textLength="15" lengthAdjust="spacingAndGlyphs">PNN</text>
<text x="471" y="733.6" font-size="7" text-anchor="start" font-weight="bold" font-style="italic" fill="#000" textLength="33.6" lengthAdjust="spacingAndGlyphs">TMEM181</text>
<text x="440.2" y="740.4" font-size="7" text-anchor="start" font-weight="bold" font-style="italic" fill="#000" textLength="32.1" lengthAdjust="spacingAndGlyphs">FAM179B</text>
<text x="72.3" y="765.7" font-size="10.9" text-anchor="middle" fill="#222">0.01</text>
<text x="140.0" y="765.7" font-size="10.9" text-anchor="middle" fill="#222">0.1</text>
<text x="207.7" y="765.7" font-size="10.9" text-anchor="middle" fill="#222">1</text>
<text x="275.4" y="765.7" font-size="10.9" text-anchor="middle" fill="#222">10</text>
<text x="343.1" y="765.7" font-size="10.9" text-anchor="middle" fill="#222">100</text>
<text x="410.8" y="765.7" font-size="10.9" text-anchor="middle" fill="#222">1000</text>
<text x="478.5" y="765.7" font-size="10.9" text-anchor="middle" fill="#222">10000</text>
<text x="196.5" y="624.3" font-size="10.9" text-anchor="end" fill="#222">100</text>
<text x="196.5" y="687.3" font-size="10.9" text-anchor="end" fill="#222">10</text>
<text x="196.5" y="750.3" font-size="10.9" text-anchor="end" fill="#222">1</text>
<text x="196.5" y="813.3" font-size="10.9" text-anchor="end" fill="#222">0.1</text>
<circle cx="342.3" cy="780.5" r="1.5" fill="#8fa8cc"/><circle cx="342.3" cy="793.6" r="1.5" fill="#c8928f"/>
<text x="347.4" y="784.2" font-size="10.4" text-anchor="start" fill="#222" textLength="141.6" lengthAdjust="spacingAndGlyphs">Significantly enriched in platelets</text>
<text x="347.4" y="797.3" font-size="10.4" text-anchor="start" fill="#222" textLength="159.9" lengthAdjust="spacingAndGlyphs">Not significantly enriched in platelets</text>
<text x="310.4" y="825.3" font-size="9.9" text-anchor="middle" font-weight="bold" fill="#000" textLength="173.2" lengthAdjust="spacingAndGlyphs">Mean RPKMI/RPKME ratios in platelets</text>
<text x="49.6" y="704.5" font-size="9.5" text-anchor="middle" font-weight="bold" fill="#000" transform="rotate(-90 49.6 704.5)" textLength="123.7" lengthAdjust="spacingAndGlyphs">Mean RPKMI/RPKME ratios in</text>
<text x="62.4" y="708.6" font-size="9.5" text-anchor="middle" font-weight="bold" fill="#000" transform="rotate(-90 62.4 708.6)" textLength="74.2" lengthAdjust="spacingAndGlyphs">nucleated tissues</text>
<text x="0.0" y="615.6" font-size="15.3" text-anchor="start" font-weight="bold" fill="#000">C</text></svg></body></html>
